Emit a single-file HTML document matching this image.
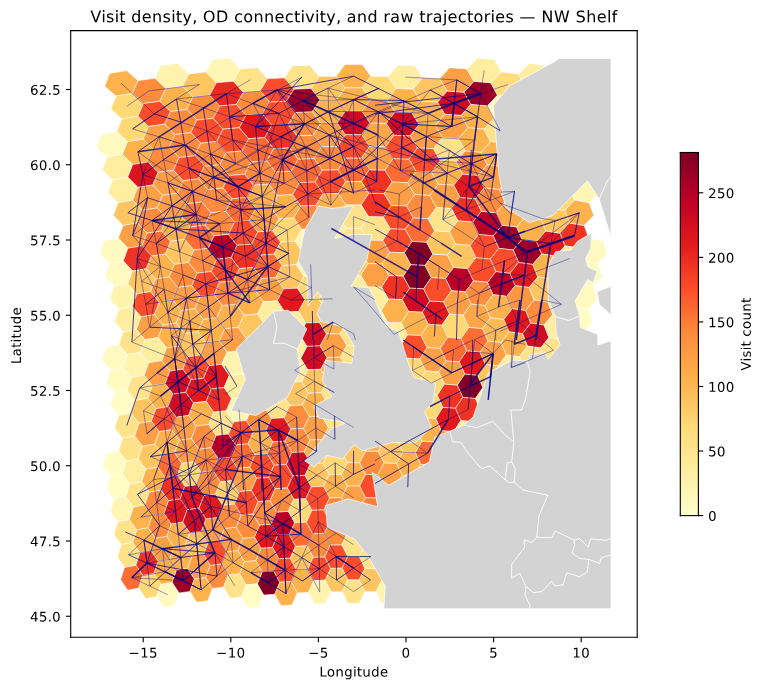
<!DOCTYPE html>
<html><head><meta charset="utf-8"><title>Visit density</title>
<style>html,body{margin:0;padding:0;background:#fff;font-family:"Liberation Sans",sans-serif}svg{display:block}</style></head>
<body>
<svg width="764" height="690" viewBox="0 0 550.08 496.8">
<defs><linearGradient id="cbg" x1="0" y1="1" x2="0" y2="0"><stop offset="0.0000" stop-color="#ffffcc"/><stop offset="0.0312" stop-color="#fffac1"/><stop offset="0.0625" stop-color="#fff6b6"/><stop offset="0.0938" stop-color="#fff1ab"/><stop offset="0.1250" stop-color="#ffeda0"/><stop offset="0.1562" stop-color="#ffe895"/><stop offset="0.1875" stop-color="#fee38b"/><stop offset="0.2188" stop-color="#fede80"/><stop offset="0.2500" stop-color="#fed976"/><stop offset="0.2812" stop-color="#fecf6b"/><stop offset="0.3125" stop-color="#fec561"/><stop offset="0.3438" stop-color="#febb56"/><stop offset="0.3750" stop-color="#feb24c"/><stop offset="0.4062" stop-color="#fea848"/><stop offset="0.4375" stop-color="#fd9f44"/><stop offset="0.4688" stop-color="#fd9640"/><stop offset="0.5000" stop-color="#fd8c3c"/><stop offset="0.5312" stop-color="#fd7c37"/><stop offset="0.5625" stop-color="#fc6c33"/><stop offset="0.5938" stop-color="#fc5d2e"/><stop offset="0.6250" stop-color="#fc4d2a"/><stop offset="0.6562" stop-color="#f54026"/><stop offset="0.6875" stop-color="#ef3323"/><stop offset="0.7188" stop-color="#e9261f"/><stop offset="0.7500" stop-color="#e2191c"/><stop offset="0.7812" stop-color="#d9131f"/><stop offset="0.8125" stop-color="#cf0c21"/><stop offset="0.8438" stop-color="#c50624"/><stop offset="0.8750" stop-color="#bb0026"/><stop offset="0.9062" stop-color="#ac0026"/><stop offset="0.9375" stop-color="#9d0026"/><stop offset="0.9688" stop-color="#8d0026"/><stop offset="1.0000" stop-color="#800026"/></linearGradient>
<style type="text/css">*{stroke-linejoin: round; stroke-linecap: butt}</style>
</defs>
<g id="figure_1">
<g id="patch_1">
<path d="M 0 496.8 L550.08 496.8 L550.08 0 L0 0 z
" style="fill: #ffffff"/>
</g>
<g id="axes_1">
<g id="patch_2">
<path d="M 50.904 458.856 L458.784 458.856 L458.784 22.032 L50.904 22.032 z
" style="fill: #ffffff"/>
</g>
<g id="PolyCollection_1">
<path d="M 173.040 49.623 L165.631 41.770 L153.063 42.912 L148.233 51.870 L155.728 59.596 L167.973 58.491 z
" clip-path="url(#p2195e9ecc8)" style="fill: #fff6b6; stroke: #ffffff; stroke-width: 0.4"/>
<path d="M 99.339 58.103 L91.176 50.830 L79.031 52.844 L75.343 62.065 L83.525 69.209 L95.381 67.259 z
" clip-path="url(#p2195e9ecc8)" style="fill: #feb24c; stroke: #ffffff; stroke-width: 0.4"/>
<path d="M 135.911 53.213 L128.099 45.643 L115.716 47.228 L111.458 56.331 L119.322 63.772 L131.397 62.238 z
" clip-path="url(#p2195e9ecc8)" style="fill: #fff3ae; stroke: #ffffff; stroke-width: 0.4"/>
<path d="M 155.728 59.596 L148.233 51.870 L135.911 53.213 L131.397 62.238 L138.961 69.838 L150.976 68.539 z
" clip-path="url(#p2195e9ecc8)" style="fill: #fec561; stroke: #ffffff; stroke-width: 0.4"/>
<path d="M 103.281 74.573 L95.381 67.259 L83.525 69.209 L79.849 78.410 L87.771 85.599 L99.351 83.710 z
" clip-path="url(#p2195e9ecc8)" style="fill: #fed976; stroke: #ffffff; stroke-width: 0.4"/>
<path d="M 119.322 63.772 L111.458 56.331 L99.339 58.103 L95.381 67.259 L103.281 74.573 L115.108 72.857 z
" clip-path="url(#p2195e9ecc8)" style="fill: #fd8c3c; stroke: #ffffff; stroke-width: 0.4"/>
<path d="M 138.961 69.838 L131.397 62.238 L119.322 63.772 L115.108 72.857 L122.724 80.333 L134.507 78.847 z
" clip-path="url(#p2195e9ecc8)" style="fill: #feb24c; stroke: #ffffff; stroke-width: 0.4"/>
<path d="M 158.240 76.290 L150.976 68.539 L138.961 69.838 L134.507 78.847 L141.839 86.477 L153.563 85.218 z
" clip-path="url(#p2195e9ecc8)" style="fill: #fd8c3c; stroke: #ffffff; stroke-width: 0.4"/>
<path d="M 175.154 66.365 L167.973 58.491 L155.728 59.596 L150.976 68.539 L158.240 76.290 L170.180 75.220 z
" clip-path="url(#p2195e9ecc8)" style="fill: #ea2920; stroke: #ffffff; stroke-width: 0.4"/>
<path d="M 107.004 91.063 L99.351 83.710 L87.771 85.599 L84.109 94.782 L91.785 102.013 L103.105 100.182 z
" clip-path="url(#p2195e9ecc8)" style="fill: #fed976; stroke: #ffffff; stroke-width: 0.4"/>
<path d="M 122.724 80.333 L115.108 72.857 L103.281 74.573 L99.351 83.710 L107.004 91.063 L118.555 89.400 z
" clip-path="url(#p2195e9ecc8)" style="fill: #fc4d2a; stroke: #ffffff; stroke-width: 0.4"/>
<path d="M 141.839 86.477 L134.507 78.847 L122.724 80.333 L118.555 89.400 L125.939 96.909 L137.445 95.470 z
" clip-path="url(#p2195e9ecc8)" style="fill: #fd8c3c; stroke: #ffffff; stroke-width: 0.4"/>
<path d="M 160.612 92.993 L153.563 85.218 L141.839 86.477 L137.445 95.470 L144.560 103.127 L156.008 101.908 z
" clip-path="url(#p2195e9ecc8)" style="fill: #fc4d2a; stroke: #ffffff; stroke-width: 0.4"/>
<path d="M 91.785 102.013 L84.109 94.782 L72.773 96.835 L69.364 106.056 L77.052 113.168 L88.141 111.177 z
" clip-path="url(#p2195e9ecc8)" style="fill: #fffac0; stroke: #ffffff; stroke-width: 0.4"/>
<path d="M 110.526 107.572 L103.105 100.182 L91.785 102.013 L88.141 111.177 L95.587 118.449 L106.657 116.674 z
" clip-path="url(#p2195e9ecc8)" style="fill: #feb24c; stroke: #ffffff; stroke-width: 0.4"/>
<path d="M 125.939 96.909 L118.555 89.400 L107.004 91.063 L103.105 100.182 L110.526 107.572 L121.814 105.961 z
" clip-path="url(#p2195e9ecc8)" style="fill: #fd9f44; stroke: #ffffff; stroke-width: 0.4"/>
<path d="M 144.560 103.127 L137.445 95.470 L125.939 96.909 L121.814 105.961 L128.980 113.501 L140.224 112.106 z
" clip-path="url(#p2195e9ecc8)" style="fill: #fd8c3c; stroke: #ffffff; stroke-width: 0.4"/>
<path d="M 162.854 109.705 L156.008 101.908 L144.560 103.127 L140.224 112.106 L147.134 119.789 L158.320 118.607 z
" clip-path="url(#p2195e9ecc8)" style="fill: #fd8c3c; stroke: #ffffff; stroke-width: 0.4"/>
<path d="M 95.587 118.449 L88.141 111.177 L77.052 113.168 L73.648 122.371 L81.107 129.527 L91.961 127.596 z
" clip-path="url(#p2195e9ecc8)" style="fill: #ffeda0; stroke: #ffffff; stroke-width: 0.4"/>
<path d="M 113.861 124.099 L106.657 116.674 L95.587 118.449 L91.961 127.596 L99.190 134.907 L110.024 133.184 z
" clip-path="url(#p2195e9ecc8)" style="fill: #db141e; stroke: #ffffff; stroke-width: 0.4"/>
<path d="M 128.980 113.501 L121.814 105.961 L110.526 107.572 L106.657 116.674 L113.861 124.099 L124.900 122.536 z
" clip-path="url(#p2195e9ecc8)" style="fill: #fd8c3c; stroke: #ffffff; stroke-width: 0.4"/>
<path d="M 147.134 119.789 L140.224 112.106 L128.980 113.501 L124.900 122.536 L131.860 130.106 L142.855 128.754 z
" clip-path="url(#p2195e9ecc8)" style="fill: #fc4d2a; stroke: #ffffff; stroke-width: 0.4"/>
<path d="M 164.976 126.426 L158.320 118.607 L147.134 119.789 L142.855 128.754 L149.572 136.462 L160.511 135.315 z
" clip-path="url(#p2195e9ecc8)" style="fill: #fd8c3c; stroke: #ffffff; stroke-width: 0.4"/>
<path d="M 99.190 134.907 L91.961 127.596 L81.107 129.527 L77.711 138.712 L84.955 145.910 L95.585 144.036 z
" clip-path="url(#p2195e9ecc8)" style="fill: #ffeda0; stroke: #ffffff; stroke-width: 0.4"/>
<path d="M 131.860 130.106 L124.900 122.536 L113.861 124.099 L110.024 133.184 L117.023 140.642 L127.824 139.126 z
" clip-path="url(#p2195e9ecc8)" style="fill: #fd9f44; stroke: #ffffff; stroke-width: 0.4"/>
<path d="M 192.591 56.718 L185.512 48.721 L173.040 49.623 L167.973 58.491 L175.154 66.365 L187.306 65.492 z
" clip-path="url(#p2195e9ecc8)" style="fill: #fee38b; stroke: #ffffff; stroke-width: 0.4"/>
<path d="M 211.707 64.181 L204.952 56.051 L192.591 56.718 L187.306 65.492 L194.177 73.504 L206.223 72.859 z
" clip-path="url(#p2195e9ecc8)" style="fill: #fc4d2a; stroke: #ffffff; stroke-width: 0.4"/>
<path d="M 229.745 55.162 L223.124 46.914 L210.560 47.366 L204.952 56.051 L211.707 64.181 L223.943 63.744 z
" clip-path="url(#p2195e9ecc8)" style="fill: #fee38b; stroke: #ffffff; stroke-width: 0.4"/>
<path d="M 248.457 63.307 L242.165 54.940 L229.745 55.162 L223.943 63.744 L230.381 71.999 L242.482 71.784 z
" clip-path="url(#p2195e9ecc8)" style="fill: #fec561; stroke: #ffffff; stroke-width: 0.4"/>
<path d="M 267.017 54.943 L260.889 46.464 L248.295 46.463 L242.165 54.940 L248.457 63.307 L260.721 63.309 z
" clip-path="url(#p2195e9ecc8)" style="fill: #feb24c; stroke: #ffffff; stroke-width: 0.4"/>
<path d="M 285.234 63.751 L279.436 55.167 L267.017 54.943 L260.721 63.309 L266.694 71.787 L278.794 72.004 z
" clip-path="url(#p2195e9ecc8)" style="fill: #fed976; stroke: #ffffff; stroke-width: 0.4"/>
<path d="M 194.177 73.504 L187.306 65.492 L175.154 66.365 L170.180 75.220 L177.148 83.113 L188.999 82.269 z
" clip-path="url(#p2195e9ecc8)" style="fill: #fd8c3c; stroke: #ffffff; stroke-width: 0.4"/>
<path d="M 212.788 81.000 L206.223 72.859 L194.177 73.504 L188.999 82.269 L195.673 90.295 L207.422 89.671 z
" clip-path="url(#p2195e9ecc8)" style="fill: #fc4d2a; stroke: #ffffff; stroke-width: 0.4"/>
<path d="M 230.381 71.999 L223.943 63.744 L211.707 64.181 L206.223 72.859 L212.788 81.000 L224.716 80.577 z
" clip-path="url(#p2195e9ecc8)" style="fill: #9d0026; stroke: #ffffff; stroke-width: 0.4"/>
<path d="M 248.609 80.154 L242.482 71.784 L230.381 71.999 L224.716 80.577 L230.982 88.838 L242.780 88.630 z
" clip-path="url(#p2195e9ecc8)" style="fill: #feb24c; stroke: #ffffff; stroke-width: 0.4"/>
<path d="M 266.694 71.787 L260.721 63.309 L248.457 63.307 L242.482 71.784 L248.609 80.154 L260.563 80.155 z
" clip-path="url(#p2195e9ecc8)" style="fill: #feb24c; stroke: #ffffff; stroke-width: 0.4"/>
<path d="M 284.456 80.583 L278.794 72.004 L266.694 71.787 L260.563 80.155 L266.389 88.632 L278.188 88.843 z
" clip-path="url(#p2195e9ecc8)" style="fill: #fd9841; stroke: #ffffff; stroke-width: 0.4"/>
<path d="M 177.148 83.113 L170.180 75.220 L158.240 76.290 L153.563 85.218 L160.612 92.993 L172.263 91.957 z
" clip-path="url(#p2195e9ecc8)" style="fill: #fc4d2a; stroke: #ffffff; stroke-width: 0.4"/>
<path d="M 195.673 90.295 L188.999 82.269 L177.148 83.113 L172.263 91.957 L179.031 99.869 L190.596 99.051 z
" clip-path="url(#p2195e9ecc8)" style="fill: #e2191c; stroke: #ffffff; stroke-width: 0.4"/>
<path d="M 213.809 97.822 L207.422 89.671 L195.673 90.295 L190.596 99.051 L197.087 107.091 L208.556 106.486 z
" clip-path="url(#p2195e9ecc8)" style="fill: #ef3323; stroke: #ffffff; stroke-width: 0.4"/>
<path d="M 230.982 88.838 L224.716 80.577 L212.788 81.000 L207.422 89.671 L213.809 97.822 L225.445 97.412 z
" clip-path="url(#p2195e9ecc8)" style="fill: #fd8c3c; stroke: #ffffff; stroke-width: 0.4"/>
<path d="M 248.753 97.003 L242.780 88.630 L230.982 88.838 L225.445 97.412 L231.548 105.679 L243.063 105.478 z
" clip-path="url(#p2195e9ecc8)" style="fill: #fd9f44; stroke: #ffffff; stroke-width: 0.4"/>
<path d="M 266.389 88.632 L260.563 80.155 L248.609 80.154 L242.780 88.630 L248.753 97.003 L260.414 97.004 z
" clip-path="url(#p2195e9ecc8)" style="fill: #cf0c21; stroke: #ffffff; stroke-width: 0.4"/>
<path d="M 283.722 97.418 L278.188 88.843 L266.389 88.632 L260.414 97.004 L266.102 105.480 L277.616 105.684 z
" clip-path="url(#p2195e9ecc8)" style="fill: #fea747; stroke: #ffffff; stroke-width: 0.4"/>
<path d="M 179.031 99.869 L172.263 91.957 L160.612 92.993 L156.008 101.908 L162.854 109.705 L174.232 108.701 z
" clip-path="url(#p2195e9ecc8)" style="fill: #fc4d2a; stroke: #ffffff; stroke-width: 0.4"/>
<path d="M 197.087 107.091 L190.596 99.051 L179.031 99.869 L174.232 108.701 L180.812 116.631 L192.107 115.838 z
" clip-path="url(#p2195e9ecc8)" style="fill: #fc6c33; stroke: #ffffff; stroke-width: 0.4"/>
<path d="M 214.773 114.647 L208.556 106.486 L197.087 107.091 L192.107 115.838 L198.425 123.892 L209.627 123.305 z
" clip-path="url(#p2195e9ecc8)" style="fill: #fc6c33; stroke: #ffffff; stroke-width: 0.4"/>
<path d="M 231.548 105.679 L225.445 97.412 L213.809 97.822 L208.556 106.486 L214.773 114.647 L226.135 114.250 z
" clip-path="url(#p2195e9ecc8)" style="fill: #fd8c3c; stroke: #ffffff; stroke-width: 0.4"/>
<path d="M 248.889 113.853 L243.063 105.478 L231.548 105.679 L226.135 114.250 L232.085 122.523 L243.330 122.328 z
" clip-path="url(#p2195e9ecc8)" style="fill: #fd8c3c; stroke: #ffffff; stroke-width: 0.4"/>
<path d="M 266.102 105.480 L260.414 97.004 L248.753 97.003 L243.063 105.478 L248.889 113.853 L260.273 113.855 z
" clip-path="url(#p2195e9ecc8)" style="fill: #fc4d2a; stroke: #ffffff; stroke-width: 0.4"/>
<path d="M 283.027 114.256 L277.616 105.684 L266.102 105.480 L260.273 113.855 L265.830 122.330 L277.075 122.528 z
" clip-path="url(#p2195e9ecc8)" style="fill: #fd9f44; stroke: #ffffff; stroke-width: 0.4"/>
<path d="M 180.812 116.631 L174.232 108.701 L162.854 109.705 L158.320 118.607 L164.976 126.426 L176.094 125.453 z
" clip-path="url(#p2195e9ecc8)" style="fill: #fd8c3c; stroke: #ffffff; stroke-width: 0.4"/>
<path d="M 198.425 123.892 L192.107 115.838 L180.812 116.631 L176.094 125.453 L182.498 133.399 L193.537 132.630 z
" clip-path="url(#p2195e9ecc8)" style="fill: #fd8c3c; stroke: #ffffff; stroke-width: 0.4"/>
<path d="M 215.686 131.476 L209.627 123.305 L198.425 123.892 L193.537 132.630 L199.692 140.697 L210.642 140.128 z
" clip-path="url(#p2195e9ecc8)" style="fill: #fd8c3c; stroke: #ffffff; stroke-width: 0.4"/>
<path d="M 232.085 122.523 L226.135 114.250 L214.773 114.647 L209.627 123.305 L215.686 131.476 L226.787 131.090 z
" clip-path="url(#p2195e9ecc8)" style="fill: #fc6c33; stroke: #ffffff; stroke-width: 0.4"/>
<path d="M 249.018 130.706 L243.330 122.328 L232.085 122.523 L226.787 131.090 L232.592 139.369 L243.583 139.180 z
" clip-path="url(#p2195e9ecc8)" style="fill: #fc4d2a; stroke: #ffffff; stroke-width: 0.4"/>
<path d="M 265.830 122.330 L260.273 113.855 L248.889 113.853 L243.330 122.328 L249.018 130.706 L260.139 130.707 z
" clip-path="url(#p2195e9ecc8)" style="fill: #fc6c33; stroke: #ffffff; stroke-width: 0.4"/>
<path d="M 182.498 133.399 L176.094 125.453 L164.976 126.426 L160.511 135.315 L166.987 143.154 L177.860 142.210 z
" clip-path="url(#p2195e9ecc8)" style="fill: #fc4d2a; stroke: #ffffff; stroke-width: 0.4"/>
<path d="M 358.199 68.561 L353.449 59.618 L341.205 58.510 L334.022 66.382 L338.993 75.239 L350.931 76.311 z
" clip-path="url(#p2195e9ecc8)" style="fill: #9d0026; stroke: #ffffff; stroke-width: 0.4"/>
<path d="M 338.993 75.239 L334.022 66.382 L321.870 65.507 L314.997 73.517 L320.172 82.283 L332.022 83.130 z
" clip-path="url(#p2195e9ecc8)" style="fill: #cf0c21; stroke: #ffffff; stroke-width: 0.4"/>
<path d="M 301.747 89.681 L296.384 81.009 L284.456 80.583 L278.188 88.843 L283.722 97.418 L295.358 97.831 z
" clip-path="url(#p2195e9ecc8)" style="fill: #cf0c21; stroke: #ffffff; stroke-width: 0.4"/>
<path d="M 341.205 58.510 L336.142 49.641 L323.671 48.737 L316.589 56.731 L321.870 65.507 L334.022 66.382 z
" clip-path="url(#p2195e9ecc8)" style="fill: #fd9f44; stroke: #ffffff; stroke-width: 0.4"/>
<path d="M 304.229 56.062 L298.623 47.376 L286.060 46.921 L279.436 55.167 L285.234 63.751 L297.470 64.191 z
" clip-path="url(#p2195e9ecc8)" style="fill: #ffeda0; stroke: #ffffff; stroke-width: 0.4"/>
<path d="M 360.947 51.893 L356.120 42.935 L343.553 41.790 L336.142 49.641 L341.205 58.510 L353.449 59.618 z
" clip-path="url(#p2195e9ecc8)" style="fill: #ffeda0; stroke: #ffffff; stroke-width: 0.4"/>
<path d="M 377.778 62.265 L373.268 53.239 L360.947 51.893 L353.449 59.618 L358.199 68.561 L370.212 69.864 z
" clip-path="url(#p2195e9ecc8)" style="fill: #fedd7f; stroke: #ffffff; stroke-width: 0.4"/>
<path d="M 321.870 65.507 L316.589 56.731 L304.229 56.062 L297.470 64.191 L302.951 72.870 L314.997 73.517 z
" clip-path="url(#p2195e9ecc8)" style="fill: #fec561; stroke: #ffffff; stroke-width: 0.4"/>
<path d="M 302.951 72.870 L297.470 64.191 L285.234 63.751 L278.794 72.004 L284.456 80.583 L296.384 81.009 z
" clip-path="url(#p2195e9ecc8)" style="fill: #feb24c; stroke: #ffffff; stroke-width: 0.4"/>
<path d="M 320.172 82.283 L314.997 73.517 L302.951 72.870 L296.384 81.009 L301.747 89.681 L313.495 90.308 z
" clip-path="url(#p2195e9ecc8)" style="fill: #feb24c; stroke: #ffffff; stroke-width: 0.4"/>
<path d="M 355.606 85.240 L350.931 76.311 L338.993 75.239 L332.022 83.130 L336.904 91.975 L348.554 93.013 z
" clip-path="url(#p2195e9ecc8)" style="fill: #feb24c; stroke: #ffffff; stroke-width: 0.4"/>
<path d="M 374.663 78.873 L370.212 69.864 L358.199 68.561 L350.931 76.311 L355.606 85.240 L367.328 86.501 z
" clip-path="url(#p2195e9ecc8)" style="fill: #fffac0; stroke: #ffffff; stroke-width: 0.4"/>
<path d="M 336.904 91.975 L332.022 83.130 L320.172 82.283 L313.495 90.308 L318.569 99.065 L330.134 99.885 z
" clip-path="url(#p2195e9ecc8)" style="fill: #fd9f44; stroke: #ffffff; stroke-width: 0.4"/>
<path d="M 353.156 101.929 L348.554 93.013 L336.904 91.975 L330.134 99.885 L334.931 108.719 L346.308 109.725 z
" clip-path="url(#p2195e9ecc8)" style="fill: #feb24c; stroke: #ffffff; stroke-width: 0.4"/>
<path d="M 371.720 95.496 L367.328 86.501 L355.606 85.240 L348.554 93.013 L353.156 101.929 L364.603 103.151 z
" clip-path="url(#p2195e9ecc8)" style="fill: #fee38b; stroke: #ffffff; stroke-width: 0.4"/>
<path d="M 318.569 99.065 L313.495 90.308 L301.747 89.681 L295.358 97.831 L300.608 106.496 L312.076 107.104 z
" clip-path="url(#p2195e9ecc8)" style="fill: #fd9f44; stroke: #ffffff; stroke-width: 0.4"/>
<path d="M 300.608 106.496 L295.358 97.831 L283.722 97.418 L277.616 105.684 L283.027 114.256 L294.388 114.656 z
" clip-path="url(#p2195e9ecc8)" style="fill: #fc4d2a; stroke: #ffffff; stroke-width: 0.4"/>
<path d="M 317.054 115.852 L312.076 107.104 L300.608 106.496 L294.388 114.656 L299.532 123.315 L310.734 123.904 z
" clip-path="url(#p2195e9ecc8)" style="fill: #fc4d2a; stroke: #ffffff; stroke-width: 0.4"/>
<path d="M 334.931 108.719 L330.134 99.885 L318.569 99.065 L312.076 107.104 L317.054 115.852 L328.348 116.647 z
" clip-path="url(#p2195e9ecc8)" style="fill: #fee38b; stroke: #ffffff; stroke-width: 0.4"/>
<path d="M 350.838 118.628 L346.308 109.725 L334.931 108.719 L328.348 116.647 L333.063 125.469 L344.181 126.445 z
" clip-path="url(#p2195e9ecc8)" style="fill: #fd8c3c; stroke: #ffffff; stroke-width: 0.4"/>
<path d="M 368.936 112.131 L364.603 103.151 L353.156 101.929 L346.308 109.725 L350.838 118.628 L362.024 119.812 z
" clip-path="url(#p2195e9ecc8)" style="fill: #feb24c; stroke: #ffffff; stroke-width: 0.4"/>
<path d="M 299.532 123.315 L294.388 114.656 L283.027 114.256 L277.075 122.528 L282.370 131.096 L293.470 131.484 z
" clip-path="url(#p2195e9ecc8)" style="fill: #fc6c33; stroke: #ffffff; stroke-width: 0.4"/>
<path d="M 315.619 132.643 L310.734 123.904 L299.532 123.315 L293.470 131.484 L298.512 140.137 L309.462 140.708 z
" clip-path="url(#p2195e9ecc8)" style="fill: #fd9f44; stroke: #ffffff; stroke-width: 0.4"/>
<path d="M 333.063 125.469 L328.348 116.647 L317.054 115.852 L310.734 123.904 L315.619 132.643 L326.658 133.414 z
" clip-path="url(#p2195e9ecc8)" style="fill: #feb24c; stroke: #ffffff; stroke-width: 0.4"/>
<path d="M 348.643 135.335 L344.181 126.445 L333.063 125.469 L326.658 133.414 L331.293 142.227 L342.166 143.173 z
" clip-path="url(#p2195e9ecc8)" style="fill: #e2191c; stroke: #ffffff; stroke-width: 0.4"/>
<path d="M 366.301 128.777 L362.024 119.812 L350.838 118.628 L344.181 126.445 L348.643 135.335 L359.581 136.484 z
" clip-path="url(#p2195e9ecc8)" style="fill: #fd9f44; stroke: #ffffff; stroke-width: 0.4"/>
<path d="M 282.370 131.096 L277.075 122.528 L265.830 122.330 L260.139 130.707 L265.572 139.183 L276.562 139.374 z
" clip-path="url(#p2195e9ecc8)" style="fill: #ef3323; stroke: #ffffff; stroke-width: 0.4"/>
<path d="M 397.718 56.362 L393.464 47.258 L381.082 45.671 L373.268 53.239 L377.778 62.265 L389.852 63.801 z
" clip-path="url(#p2195e9ecc8)" style="fill: #ffeda0; stroke: #ffffff; stroke-width: 0.4"/>
<path d="M 431.438 138.749 L428.045 129.564 L417.192 127.630 L409.961 134.939 L413.564 144.069 L424.192 145.946 z
" clip-path="url(#p2195e9ecc8)" style="fill: #fff6b6; stroke: #ffffff; stroke-width: 0.4"/>
<path d="M 102.610 151.383 L95.585 144.036 L84.955 145.910 L81.569 155.077 L88.611 162.315 L99.026 160.495 z
" clip-path="url(#p2195e9ecc8)" style="fill: #fec561; stroke: #ffffff; stroke-width: 0.4"/>
<path d="M 105.858 167.878 L99.026 160.495 L88.611 162.315 L85.236 171.465 L92.086 178.741 L102.297 176.973 z
" clip-path="url(#p2195e9ecc8)" style="fill: #fd9f44; stroke: #ffffff; stroke-width: 0.4"/>
<path d="M 92.086 178.741 L85.236 171.465 L75.012 173.427 L71.835 182.608 L78.694 189.780 L88.724 187.874 z
" clip-path="url(#p2195e9ecc8)" style="fill: #fffac0; stroke: #ffffff; stroke-width: 0.4"/>
<path d="M 108.947 184.389 L102.297 176.973 L92.086 178.741 L88.724 187.874 L95.393 195.187 L105.408 193.469 z
" clip-path="url(#p2195e9ecc8)" style="fill: #ef3323; stroke: #ffffff; stroke-width: 0.4"/>
<path d="M 95.393 195.187 L88.724 187.874 L78.694 189.780 L75.522 198.945 L82.202 206.156 L92.046 204.303 z
" clip-path="url(#p2195e9ecc8)" style="fill: #fffac0; stroke: #ffffff; stroke-width: 0.4"/>
<path d="M 111.886 200.917 L105.408 193.469 L95.393 195.187 L92.046 204.303 L98.543 211.651 L108.372 209.982 z
" clip-path="url(#p2195e9ecc8)" style="fill: #fec561; stroke: #ffffff; stroke-width: 0.4"/>
<path d="M 98.543 211.651 L92.046 204.303 L82.202 206.156 L79.036 215.304 L85.545 222.553 L95.211 220.752 z
" clip-path="url(#p2195e9ecc8)" style="fill: #fff3ae; stroke: #ffffff; stroke-width: 0.4"/>
<path d="M 114.686 217.460 L108.372 209.982 L98.543 211.651 L95.211 220.752 L101.546 228.133 L111.196 226.510 z
" clip-path="url(#p2195e9ecc8)" style="fill: #fc4d2a; stroke: #ffffff; stroke-width: 0.4"/>
<path d="M 101.546 228.133 L95.211 220.752 L85.545 222.553 L82.387 231.684 L88.735 238.969 L98.230 237.218 z
" clip-path="url(#p2195e9ecc8)" style="fill: #ffeda0; stroke: #ffffff; stroke-width: 0.4"/>
<path d="M 117.356 234.017 L111.196 226.510 L101.546 228.133 L98.230 237.218 L104.411 244.631 L113.889 243.053 z
" clip-path="url(#p2195e9ecc8)" style="fill: #fd9f44; stroke: #ffffff; stroke-width: 0.4"/>
<path d="M 104.411 244.631 L98.230 237.218 L88.735 238.969 L85.586 248.084 L91.780 255.404 L101.112 253.701 z
" clip-path="url(#p2195e9ecc8)" style="fill: #fee38b; stroke: #ffffff; stroke-width: 0.4"/>
<path d="M 117.023 140.642 L110.024 133.184 L99.190 134.907 L95.585 144.036 L102.610 151.383 L113.218 149.711 z
" clip-path="url(#p2195e9ecc8)" style="fill: #fd9f44; stroke: #ffffff; stroke-width: 0.4"/>
<path d="M 120.023 157.201 L113.218 149.711 L102.610 151.383 L99.026 160.495 L105.858 167.878 L116.251 166.255 z
" clip-path="url(#p2195e9ecc8)" style="fill: #fd8c3c; stroke: #ffffff; stroke-width: 0.4"/>
<path d="M 122.874 173.775 L116.251 166.255 L105.858 167.878 L102.297 176.973 L108.947 184.389 L119.135 182.813 z
" clip-path="url(#p2195e9ecc8)" style="fill: #fc6c33; stroke: #ffffff; stroke-width: 0.4"/>
<path d="M 125.585 190.362 L119.135 182.813 L108.947 184.389 L105.408 193.469 L111.886 200.917 L121.878 199.386 z
" clip-path="url(#p2195e9ecc8)" style="fill: #feb24c; stroke: #ffffff; stroke-width: 0.4"/>
<path d="M 128.165 206.962 L121.878 199.386 L111.886 200.917 L108.372 209.982 L114.686 217.460 L124.491 215.972 z
" clip-path="url(#p2195e9ecc8)" style="fill: #fd9f44; stroke: #ffffff; stroke-width: 0.4"/>
<path d="M 130.623 223.575 L124.491 215.972 L114.686 217.460 L111.196 226.510 L117.356 234.017 L126.981 232.570 z
" clip-path="url(#p2195e9ecc8)" style="fill: #feb24c; stroke: #ffffff; stroke-width: 0.4"/>
<path d="M 132.966 240.199 L126.981 232.570 L117.356 234.017 L113.889 243.053 L119.902 250.588 L129.357 249.181 z
" clip-path="url(#p2195e9ecc8)" style="fill: #feb24c; stroke: #ffffff; stroke-width: 0.4"/>
<path d="M 134.591 146.725 L127.824 139.126 L117.023 140.642 L113.218 149.711 L120.023 157.201 L130.598 155.730 z
" clip-path="url(#p2195e9ecc8)" style="fill: #fd9f44; stroke: #ffffff; stroke-width: 0.4"/>
<path d="M 137.183 163.355 L130.598 155.730 L120.023 157.201 L116.251 166.255 L122.874 173.775 L133.234 172.346 z
" clip-path="url(#p2195e9ecc8)" style="fill: #feb24c; stroke: #ffffff; stroke-width: 0.4"/>
<path d="M 139.646 179.998 L133.234 172.346 L122.874 173.775 L119.135 182.813 L125.585 190.362 L135.739 188.975 z
" clip-path="url(#p2195e9ecc8)" style="fill: #fec561; stroke: #ffffff; stroke-width: 0.4"/>
<path d="M 141.989 196.651 L135.739 188.975 L125.585 190.362 L121.878 199.386 L128.165 206.962 L138.124 205.614 z
" clip-path="url(#p2195e9ecc8)" style="fill: #fd8c3c; stroke: #ffffff; stroke-width: 0.4"/>
<path d="M 144.219 213.314 L138.124 205.614 L128.165 206.962 L124.491 215.972 L130.623 223.575 L140.395 222.265 z
" clip-path="url(#p2195e9ecc8)" style="fill: #fd9f44; stroke: #ffffff; stroke-width: 0.4"/>
<path d="M 146.344 229.987 L140.395 222.265 L130.623 223.575 L126.981 232.570 L132.966 240.199 L142.560 238.926 z
" clip-path="url(#p2195e9ecc8)" style="fill: #feb24c; stroke: #ffffff; stroke-width: 0.4"/>
<path d="M 149.572 136.462 L142.855 128.754 L131.860 130.106 L127.824 139.126 L134.591 146.725 L145.349 145.412 z
" clip-path="url(#p2195e9ecc8)" style="fill: #fd8c3c; stroke: #ffffff; stroke-width: 0.4"/>
<path d="M 151.885 153.144 L145.349 145.412 L134.591 146.725 L130.598 155.730 L137.183 163.355 L147.715 162.082 z
" clip-path="url(#p2195e9ecc8)" style="fill: #fd7a37; stroke: #ffffff; stroke-width: 0.4"/>
<path d="M 154.080 169.836 L147.715 162.082 L137.183 163.355 L133.234 172.346 L139.646 179.998 L149.964 178.761 z
" clip-path="url(#p2195e9ecc8)" style="fill: #fc6c33; stroke: #ffffff; stroke-width: 0.4"/>
<path d="M 156.167 186.537 L149.964 178.761 L139.646 179.998 L135.739 188.975 L141.989 196.651 L152.102 195.449 z
" clip-path="url(#p2195e9ecc8)" style="fill: #fd8c3c; stroke: #ffffff; stroke-width: 0.4"/>
<path d="M 158.152 203.246 L152.102 195.449 L141.989 196.651 L138.124 205.614 L144.219 213.314 L154.137 212.147 z
" clip-path="url(#p2195e9ecc8)" style="fill: #fc4d2a; stroke: #ffffff; stroke-width: 0.4"/>
<path d="M 160.042 219.964 L154.137 212.147 L144.219 213.314 L140.395 222.265 L146.344 229.987 L156.076 228.853 z
" clip-path="url(#p2195e9ecc8)" style="fill: #fd9f44; stroke: #ffffff; stroke-width: 0.4"/>
<path d="M 161.843 236.689 L156.076 228.853 L146.344 229.987 L142.560 238.926 L148.370 246.670 L157.925 245.567 z
" clip-path="url(#p2195e9ecc8)" style="fill: #feb24c; stroke: #ffffff; stroke-width: 0.4"/>
<path d="M 166.987 143.154 L160.511 135.315 L149.572 136.462 L145.349 145.412 L151.885 153.144 L162.588 152.032 z
" clip-path="url(#p2195e9ecc8)" style="fill: #fd8c3c; stroke: #ffffff; stroke-width: 0.4"/>
<path d="M 168.894 159.890 L162.588 152.032 L151.885 153.144 L147.715 162.082 L154.080 169.836 L164.560 168.757 z
" clip-path="url(#p2195e9ecc8)" style="fill: #fd8c3c; stroke: #ffffff; stroke-width: 0.4"/>
<path d="M 170.706 176.633 L164.560 168.757 L154.080 169.836 L149.964 178.761 L156.167 186.537 L166.433 185.489 z
" clip-path="url(#p2195e9ecc8)" style="fill: #bb0026; stroke: #ffffff; stroke-width: 0.4"/>
<path d="M 172.428 193.383 L166.433 185.489 L156.167 186.537 L152.102 195.449 L158.152 203.246 L168.215 202.228 z
" clip-path="url(#p2195e9ecc8)" style="fill: #fc4d2a; stroke: #ffffff; stroke-width: 0.4"/>
<path d="M 184.096 150.173 L177.860 142.210 L166.987 143.154 L162.588 152.032 L168.894 159.890 L179.534 158.974 z
" clip-path="url(#p2195e9ecc8)" style="fill: #fc6c33; stroke: #ffffff; stroke-width: 0.4"/>
<path d="M 199.692 140.697 L193.537 132.630 L182.498 133.399 L177.860 142.210 L184.096 150.173 L194.893 149.427 z
" clip-path="url(#p2195e9ecc8)" style="fill: #feb24c; stroke: #ffffff; stroke-width: 0.4"/>
<path d="M 216.552 148.307 L210.642 140.128 L199.692 140.697 L194.893 149.427 L200.893 157.506 L211.605 156.954 z
" clip-path="url(#p2195e9ecc8)" style="fill: #feb24c; stroke: #ffffff; stroke-width: 0.4"/>
<path d="M 232.592 139.369 L226.787 131.090 L215.686 131.476 L210.642 140.128 L216.552 148.307 L227.405 147.934 z
" clip-path="url(#p2195e9ecc8)" style="fill: #fc4d2a; stroke: #ffffff; stroke-width: 0.4"/>
<path d="M 249.140 147.561 L243.583 139.180 L232.592 139.369 L227.405 147.934 L233.074 156.218 L243.823 156.035 z
" clip-path="url(#p2195e9ecc8)" style="fill: #feb24c; stroke: #ffffff; stroke-width: 0.4"/>
<path d="M 265.572 139.183 L260.139 130.707 L249.018 130.706 L243.583 139.180 L249.140 147.561 L260.013 147.562 z
" clip-path="url(#p2195e9ecc8)" style="fill: #fd9f44; stroke: #ffffff; stroke-width: 0.4"/>
<path d="M 281.747 147.939 L276.562 139.374 L265.572 139.183 L260.013 147.562 L265.328 156.037 L276.076 156.223 z
" clip-path="url(#p2195e9ecc8)" style="fill: #ef3323; stroke: #ffffff; stroke-width: 0.4"/>
<path d="M 185.613 166.952 L179.534 158.974 L168.894 159.890 L164.560 168.757 L170.706 176.633 L181.124 175.744 z
" clip-path="url(#p2195e9ecc8)" style="fill: #fc4d2a; stroke: #ffffff; stroke-width: 0.4"/>
<path d="M 200.893 157.506 L194.893 149.427 L184.096 150.173 L179.534 158.974 L185.613 166.952 L196.179 166.228 z
" clip-path="url(#p2195e9ecc8)" style="fill: #fd9f44; stroke: #ffffff; stroke-width: 0.4"/>
<path d="M 217.372 165.142 L211.605 156.954 L200.893 157.506 L196.179 166.228 L202.034 174.319 L212.519 173.783 z
" clip-path="url(#p2195e9ecc8)" style="fill: #fed976; stroke: #ffffff; stroke-width: 0.4"/>
<path d="M 233.074 156.218 L227.405 147.934 L216.552 148.307 L211.605 156.954 L217.372 165.142 L227.992 164.779 z
" clip-path="url(#p2195e9ecc8)" style="fill: #fd8c3c; stroke: #ffffff; stroke-width: 0.4"/>
<path d="M 249.256 164.418 L243.823 156.035 L233.074 156.218 L227.992 164.779 L233.531 173.069 L244.050 172.891 z
" clip-path="url(#p2195e9ecc8)" style="fill: #ffeda0; stroke: #ffffff; stroke-width: 0.4"/>
<path d="M 265.328 156.037 L260.013 147.562 L249.140 147.561 L243.823 156.035 L249.256 164.418 L259.893 164.419 z
" clip-path="url(#p2195e9ecc8)" style="fill: #fee38b; stroke: #ffffff; stroke-width: 0.4"/>
<path d="M 281.156 164.785 L276.076 156.223 L265.328 156.037 L259.893 164.419 L265.096 172.893 L275.615 173.074 z
" clip-path="url(#p2195e9ecc8)" style="fill: #fee38b; stroke: #ffffff; stroke-width: 0.4"/>
<path d="M 187.054 183.737 L181.124 175.744 L170.706 176.633 L166.433 185.489 L172.428 193.383 L182.635 192.520 z
" clip-path="url(#p2195e9ecc8)" style="fill: #ef3323; stroke: #ffffff; stroke-width: 0.4"/>
<path d="M 202.034 174.319 L196.179 166.228 L185.613 166.952 L181.124 175.744 L187.054 183.737 L197.401 183.034 z
" clip-path="url(#p2195e9ecc8)" style="fill: #fc4d2a; stroke: #ffffff; stroke-width: 0.4"/>
<path d="M 218.152 181.979 L212.519 173.783 L202.034 174.319 L197.401 183.034 L203.117 191.136 L213.387 190.616 z
" clip-path="url(#p2195e9ecc8)" style="fill: #fec561; stroke: #ffffff; stroke-width: 0.4"/>
<path d="M 233.531 173.069 L227.992 164.779 L217.372 165.142 L212.519 173.783 L218.152 181.979 L228.549 181.628 z
" clip-path="url(#p2195e9ecc8)" style="fill: #fff6b6; stroke: #ffffff; stroke-width: 0.4"/>
<path d="M 265.096 172.893 L259.893 164.419 L249.256 164.418 L244.050 172.891 L249.366 181.277 L259.779 181.278 z
" clip-path="url(#p2195e9ecc8)" style="fill: #fee38b; stroke: #ffffff; stroke-width: 0.4"/>
<path d="M 280.595 181.633 L275.615 173.074 L265.096 172.893 L259.779 181.278 L264.876 189.752 L275.177 189.927 z
" clip-path="url(#p2195e9ecc8)" style="fill: #fd9f44; stroke: #ffffff; stroke-width: 0.4"/>
<path d="M 188.424 200.527 L182.635 192.520 L172.428 193.383 L168.215 202.228 L174.067 210.140 L184.072 209.301 z
" clip-path="url(#p2195e9ecc8)" style="fill: #fd8c3c; stroke: #ffffff; stroke-width: 0.4"/>
<path d="M 203.117 191.136 L197.401 183.034 L187.054 183.737 L182.635 192.520 L188.424 200.527 L198.563 199.844 z
" clip-path="url(#p2195e9ecc8)" style="fill: #fc6c33; stroke: #ffffff; stroke-width: 0.4"/>
<path d="M 218.893 198.820 L213.387 190.616 L203.117 191.136 L198.563 199.844 L204.148 207.957 L214.213 207.452 z
" clip-path="url(#p2195e9ecc8)" style="fill: #fec561; stroke: #ffffff; stroke-width: 0.4"/>
<path d="M 233.965 189.923 L228.549 181.628 L218.152 181.979 L213.387 190.616 L218.893 198.820 L229.078 198.478 z
" clip-path="url(#p2195e9ecc8)" style="fill: #fff6b6; stroke: #ffffff; stroke-width: 0.4"/>
<path d="M 280.062 198.484 L275.177 189.927 L264.876 189.752 L259.670 198.139 L264.667 206.613 L274.761 206.783 z
" clip-path="url(#p2195e9ecc8)" style="fill: #fd9f44; stroke: #ffffff; stroke-width: 0.4"/>
<path d="M 264.667 206.613 L259.670 198.139 L249.470 198.138 L244.472 206.611 L249.569 215.001 L259.567 215.002 z
" clip-path="url(#p2195e9ecc8)" style="fill: #ffeda0; stroke: #ffffff; stroke-width: 0.4"/>
<path d="M 189.728 217.321 L184.072 209.301 L174.067 210.140 L169.912 218.975 L175.628 226.903 L185.441 226.088 z
" clip-path="url(#p2195e9ecc8)" style="fill: #feb24c; stroke: #ffffff; stroke-width: 0.4"/>
<path d="M 204.148 207.957 L198.563 199.844 L188.424 200.527 L184.072 209.301 L189.728 217.321 L199.668 216.659 z
" clip-path="url(#p2195e9ecc8)" style="fill: #fd9f44; stroke: #ffffff; stroke-width: 0.4"/>
<path d="M 219.598 215.664 L214.213 207.452 L204.148 207.957 L199.668 216.659 L205.130 224.781 L214.999 224.291 z
" clip-path="url(#p2195e9ecc8)" style="fill: #e2191c; stroke: #ffffff; stroke-width: 0.4"/>
<path d="M 234.378 206.779 L229.078 198.478 L218.893 198.820 L214.213 207.452 L219.598 215.664 L229.582 215.332 z
" clip-path="url(#p2195e9ecc8)" style="fill: #fed976; stroke: #ffffff; stroke-width: 0.4"/>
<path d="M 175.628 226.903 L169.912 218.975 L160.042 219.964 L156.076 228.853 L161.843 236.689 L171.528 235.728 z
" clip-path="url(#p2195e9ecc8)" style="fill: #feb24c; stroke: #ffffff; stroke-width: 0.4"/>
<path d="M 190.970 234.121 L185.441 226.088 L175.628 226.903 L171.528 235.728 L177.115 243.671 L186.746 242.879 z
" clip-path="url(#p2195e9ecc8)" style="fill: #fec561; stroke: #ffffff; stroke-width: 0.4"/>
<path d="M 205.130 224.781 L199.668 216.659 L189.728 217.321 L185.441 226.088 L190.970 234.121 L200.721 233.477 z
" clip-path="url(#p2195e9ecc8)" style="fill: #ffeda0; stroke: #ffffff; stroke-width: 0.4"/>
<path d="M 220.270 232.510 L214.999 224.291 L205.130 224.781 L200.721 233.477 L206.065 241.610 L215.748 241.133 z
" clip-path="url(#p2195e9ecc8)" style="fill: #ffeda0; stroke: #ffffff; stroke-width: 0.4"/>
<path d="M 234.771 223.637 L229.582 215.332 L219.598 215.664 L214.999 224.291 L220.270 232.510 L230.062 232.188 z
" clip-path="url(#p2195e9ecc8)" style="fill: #fec561; stroke: #ffffff; stroke-width: 0.4"/>
<path d="M 235.145 240.497 L230.062 232.188 L220.270 232.510 L215.748 241.133 L220.910 249.360 L230.519 249.046 z
" clip-path="url(#p2195e9ecc8)" style="fill: #cf0c21; stroke: #ffffff; stroke-width: 0.4"/>
<path d="M 249.664 231.866 L244.668 223.474 L234.771 223.637 L230.062 232.188 L235.145 240.497 L244.854 240.339 z
" clip-path="url(#p2195e9ecc8)" style="fill: #feb24c; stroke: #ffffff; stroke-width: 0.4"/>
<path d="M 174.067 210.140 L168.215 202.228 L158.152 203.246 L154.137 212.147 L160.042 219.964 L169.912 218.975 z
" clip-path="url(#p2195e9ecc8)" style="fill: #fd8c3c; stroke: #ffffff; stroke-width: 0.4"/>
<path d="M 311.742 183.046 L307.112 174.330 L296.627 173.792 L290.992 181.987 L295.755 190.624 L306.024 191.146 z
" clip-path="url(#p2195e9ecc8)" style="fill: #800026; stroke: #ffffff; stroke-width: 0.4"/>
<path d="M 310.577 199.856 L306.024 191.146 L295.755 190.624 L290.247 198.827 L294.925 207.460 L304.989 207.967 z
" clip-path="url(#p2195e9ecc8)" style="fill: #800026; stroke: #ffffff; stroke-width: 0.4"/>
<path d="M 340.923 202.246 L336.712 193.400 L326.506 192.535 L320.715 200.540 L325.065 209.316 L335.070 210.156 z
" clip-path="url(#p2195e9ecc8)" style="fill: #bb0026; stroke: #ffffff; stroke-width: 0.4"/>
<path d="M 375.910 172.371 L371.963 163.380 L361.431 162.104 L355.065 169.857 L359.179 178.783 L369.496 180.021 z
" clip-path="url(#p2195e9ecc8)" style="fill: #9d0026; stroke: #ffffff; stroke-width: 0.4"/>
<path d="M 361.431 162.104 L357.265 153.166 L346.562 152.051 L340.254 159.908 L344.586 168.775 L355.065 169.857 z
" clip-path="url(#p2195e9ecc8)" style="fill: #bb0026; stroke: #ffffff; stroke-width: 0.4"/>
<path d="M 390.006 182.841 L386.269 173.802 L375.910 172.371 L369.496 180.021 L373.400 188.999 L383.555 190.389 z
" clip-path="url(#p2195e9ecc8)" style="fill: #9d0026; stroke: #ffffff; stroke-width: 0.4"/>
<path d="M 371.012 205.638 L367.149 196.674 L357.037 195.471 L350.985 203.266 L354.998 212.167 L364.916 213.337 z
" clip-path="url(#p2195e9ecc8)" style="fill: #bb0026; stroke: #ffffff; stroke-width: 0.4"/>
<path d="M 309.467 216.670 L304.989 207.967 L294.925 207.460 L289.538 215.671 L294.135 224.299 L304.004 224.791 z
" clip-path="url(#p2195e9ecc8)" style="fill: #cf0c21; stroke: #ffffff; stroke-width: 0.4"/>
<path d="M 323.692 226.102 L319.408 217.335 L309.467 216.670 L304.004 224.791 L308.411 233.488 L318.162 234.134 z
" clip-path="url(#p2195e9ecc8)" style="fill: #e2191c; stroke: #ffffff; stroke-width: 0.4"/>
<path d="M 298.512 140.137 L293.470 131.484 L282.370 131.096 L276.562 139.374 L281.747 147.939 L292.601 148.315 z
" clip-path="url(#p2195e9ecc8)" style="fill: #fd9f44; stroke: #ffffff; stroke-width: 0.4"/>
<path d="M 314.259 149.440 L309.462 140.708 L298.512 140.137 L292.601 148.315 L297.545 156.963 L308.256 157.517 z
" clip-path="url(#p2195e9ecc8)" style="fill: #fd8c3c; stroke: #ffffff; stroke-width: 0.4"/>
<path d="M 331.293 142.227 L326.658 133.414 L315.619 132.643 L309.462 140.708 L314.259 149.440 L325.055 150.188 z
" clip-path="url(#p2195e9ecc8)" style="fill: #fd9f44; stroke: #ffffff; stroke-width: 0.4"/>
<path d="M 346.562 152.051 L342.166 143.173 L331.293 142.227 L325.055 150.188 L329.615 158.990 L340.254 159.908 z
" clip-path="url(#p2195e9ecc8)" style="fill: #ef3323; stroke: #ffffff; stroke-width: 0.4"/>
<path d="M 363.802 145.435 L359.581 136.484 L348.643 135.335 L342.166 143.173 L346.562 152.051 L357.265 153.166 z
" clip-path="url(#p2195e9ecc8)" style="fill: #fd8c3c; stroke: #ffffff; stroke-width: 0.4"/>
<path d="M 378.549 155.756 L374.559 146.750 L363.802 145.435 L357.265 153.166 L361.431 162.104 L371.963 163.380 z
" clip-path="url(#p2195e9ecc8)" style="fill: #fea747; stroke: #ffffff; stroke-width: 0.4"/>
<path d="M 297.545 156.963 L292.601 148.315 L281.747 147.939 L276.076 156.223 L281.156 164.785 L291.775 165.149 z
" clip-path="url(#p2195e9ecc8)" style="fill: #fc4d2a; stroke: #ffffff; stroke-width: 0.4"/>
<path d="M 312.968 166.241 L308.256 157.517 L297.545 156.963 L291.775 165.149 L296.627 173.792 L307.112 174.330 z
" clip-path="url(#p2195e9ecc8)" style="fill: #fc6c33; stroke: #ffffff; stroke-width: 0.4"/>
<path d="M 329.615 158.990 L325.055 150.188 L314.259 149.440 L308.256 157.517 L312.968 166.241 L323.534 166.966 z
" clip-path="url(#p2195e9ecc8)" style="fill: #fee38b; stroke: #ffffff; stroke-width: 0.4"/>
<path d="M 344.586 168.775 L340.254 159.908 L329.615 158.990 L323.534 166.966 L328.021 175.760 L338.438 176.651 z
" clip-path="url(#p2195e9ecc8)" style="fill: #fd9f44; stroke: #ffffff; stroke-width: 0.4"/>
<path d="M 296.627 173.792 L291.775 165.149 L281.156 164.785 L275.615 173.074 L280.595 181.633 L290.992 181.987 z
" clip-path="url(#p2195e9ecc8)" style="fill: #fc4d2a; stroke: #ffffff; stroke-width: 0.4"/>
<path d="M 328.021 175.760 L323.534 166.966 L312.968 166.241 L307.112 174.330 L311.742 183.046 L322.089 183.751 z
" clip-path="url(#p2195e9ecc8)" style="fill: #fec561; stroke: #ffffff; stroke-width: 0.4"/>
<path d="M 342.709 185.507 L338.438 176.651 L328.021 175.760 L322.089 183.751 L326.506 192.535 L336.712 193.400 z
" clip-path="url(#p2195e9ecc8)" style="fill: #fec561; stroke: #ffffff; stroke-width: 0.4"/>
<path d="M 359.179 178.783 L355.065 169.857 L344.586 168.775 L338.438 176.651 L342.709 185.507 L352.974 186.557 z
" clip-path="url(#p2195e9ecc8)" style="fill: #fc4d2a; stroke: #ffffff; stroke-width: 0.4"/>
<path d="M 373.400 188.999 L369.496 180.021 L359.179 178.783 L352.974 186.557 L357.037 195.471 L367.149 196.674 z
" clip-path="url(#p2195e9ecc8)" style="fill: #fc4d2a; stroke: #ffffff; stroke-width: 0.4"/>
<path d="M 387.259 199.413 L383.555 190.389 L373.400 188.999 L367.149 196.674 L371.012 205.638 L380.971 206.988 z
" clip-path="url(#p2195e9ecc8)" style="fill: #e2191c; stroke: #ffffff; stroke-width: 0.4"/>
<path d="M 295.755 190.624 L290.992 181.987 L280.595 181.633 L275.177 189.927 L280.062 198.484 L290.247 198.827 z
" clip-path="url(#p2195e9ecc8)" style="fill: #feb24c; stroke: #ffffff; stroke-width: 0.4"/>
<path d="M 326.506 192.535 L322.089 183.751 L311.742 183.046 L306.024 191.146 L310.577 199.856 L320.715 200.540 z
" clip-path="url(#p2195e9ecc8)" style="fill: #fd9f44; stroke: #ffffff; stroke-width: 0.4"/>
<path d="M 357.037 195.471 L352.974 186.557 L342.709 185.507 L336.712 193.400 L340.923 202.246 L350.985 203.266 z
" clip-path="url(#p2195e9ecc8)" style="fill: #fc4d2a; stroke: #ffffff; stroke-width: 0.4"/>
<path d="M 294.925 207.460 L290.247 198.827 L280.062 198.484 L274.761 206.783 L279.555 215.337 L289.538 215.671 z
" clip-path="url(#p2195e9ecc8)" style="fill: #ef3323; stroke: #ffffff; stroke-width: 0.4"/>
<path d="M 325.065 209.316 L320.715 200.540 L310.577 199.856 L304.989 207.967 L309.467 216.670 L319.408 217.335 z
" clip-path="url(#p2195e9ecc8)" style="fill: #fc4d2a; stroke: #ffffff; stroke-width: 0.4"/>
<path d="M 339.223 218.992 L335.070 210.156 L325.065 209.316 L319.408 217.335 L323.692 226.102 L333.505 226.919 z
" clip-path="url(#p2195e9ecc8)" style="fill: #fd9f44; stroke: #ffffff; stroke-width: 0.4"/>
<path d="M 354.998 212.167 L350.985 203.266 L340.923 202.246 L335.070 210.156 L339.223 218.992 L349.092 219.983 z
" clip-path="url(#p2195e9ecc8)" style="fill: #fd8c3c; stroke: #ffffff; stroke-width: 0.4"/>
<path d="M 368.738 222.288 L364.916 213.337 L354.998 212.167 L349.092 219.983 L353.056 228.873 L362.787 230.009 z
" clip-path="url(#p2195e9ecc8)" style="fill: #feb24c; stroke: #ffffff; stroke-width: 0.4"/>
<path d="M 384.643 215.998 L380.971 206.988 L371.012 205.638 L364.916 213.337 L368.738 222.288 L378.509 223.600 z
" clip-path="url(#p2195e9ecc8)" style="fill: #fd9841; stroke: #ffffff; stroke-width: 0.4"/>
<path d="M 294.135 224.299 L289.538 215.671 L279.555 215.337 L274.364 223.641 L279.071 232.193 L288.863 232.517 z
" clip-path="url(#p2195e9ecc8)" style="fill: #feb24c; stroke: #ffffff; stroke-width: 0.4"/>
<path d="M 308.411 233.488 L304.004 224.791 L294.135 224.299 L288.863 232.517 L293.383 241.141 L303.065 241.620 z
" clip-path="url(#p2195e9ecc8)" style="fill: #feb24c; stroke: #ffffff; stroke-width: 0.4"/>
<path d="M 337.603 235.744 L333.505 226.919 L323.692 226.102 L318.162 234.134 L322.384 242.893 L332.014 243.687 z
" clip-path="url(#p2195e9ecc8)" style="fill: #fed976; stroke: #ffffff; stroke-width: 0.4"/>
<path d="M 353.056 228.873 L349.092 219.983 L339.223 218.992 L333.505 226.919 L337.603 235.744 L347.287 236.708 z
" clip-path="url(#p2195e9ecc8)" style="fill: #fea747; stroke: #ffffff; stroke-width: 0.4"/>
<path d="M 366.570 238.948 L362.787 230.009 L353.056 228.873 L347.287 236.708 L351.204 245.587 L360.758 246.691 z
" clip-path="url(#p2195e9ecc8)" style="fill: #feba55; stroke: #ffffff; stroke-width: 0.4"/>
<path d="M 382.149 232.596 L378.509 223.600 L368.738 222.288 L362.787 230.009 L366.570 238.948 L376.163 240.224 z
" clip-path="url(#p2195e9ecc8)" style="fill: #e2191c; stroke: #ffffff; stroke-width: 0.4"/>
<path d="M 293.383 241.141 L288.863 232.517 L279.071 232.193 L273.986 240.501 L278.611 249.051 L288.219 249.366 z
" clip-path="url(#p2195e9ecc8)" style="fill: #ffeda0; stroke: #ffffff; stroke-width: 0.4"/>
<path d="M 322.384 242.893 L318.162 234.134 L308.411 233.488 L303.065 241.620 L307.404 250.310 L316.974 250.938 z
" clip-path="url(#p2195e9ecc8)" style="fill: #feb24c; stroke: #ffffff; stroke-width: 0.4"/>
<path d="M 279.555 215.337 L274.761 206.783 L264.667 206.613 L259.567 215.002 L264.467 223.476 L274.364 223.641 z
" clip-path="url(#p2195e9ecc8)" style="fill: #ffeda0; stroke: #ffffff; stroke-width: 0.4"/>
<path d="M 279.071 232.193 L274.364 223.641 L264.467 223.476 L259.469 231.867 L264.277 240.341 L273.986 240.501 z
" clip-path="url(#p2195e9ecc8)" style="fill: #fff6b6; stroke: #ffffff; stroke-width: 0.4"/>
<path d="M 406.844 177.005 L403.285 167.909 L392.893 166.283 L386.269 173.802 L390.006 182.841 L400.193 184.419 z
" clip-path="url(#p2195e9ecc8)" style="fill: #e2191c; stroke: #ffffff; stroke-width: 0.4"/>
<path d="M 423.906 171.500 L420.533 162.350 L410.119 160.528 L403.285 167.909 L406.844 177.005 L417.054 178.775 z
" clip-path="url(#p2195e9ecc8)" style="fill: #ef3323; stroke: #ffffff; stroke-width: 0.4"/>
<path d="M 427.576 155.113 L424.192 145.946 L413.564 144.069 L406.537 151.415 L410.119 160.528 L420.533 162.350 z
" clip-path="url(#p2195e9ecc8)" style="fill: #feb24c; stroke: #ffffff; stroke-width: 0.4"/>
<path d="M 410.119 160.528 L406.537 151.415 L395.930 149.741 L389.124 157.229 L392.893 166.283 L403.285 167.909 z
" clip-path="url(#p2195e9ecc8)" style="fill: #fec561; stroke: #ffffff; stroke-width: 0.4"/>
<path d="M 392.893 166.283 L389.124 157.229 L378.549 155.756 L371.963 163.380 L375.910 172.371 L386.269 173.802 z
" clip-path="url(#p2195e9ecc8)" style="fill: #feb24c; stroke: #ffffff; stroke-width: 0.4"/>
<path d="M 437.303 182.646 L434.128 173.464 L423.906 171.500 L417.054 178.775 L420.414 187.908 L430.442 189.816 z
" clip-path="url(#p2195e9ecc8)" style="fill: #fffac0; stroke: #ffffff; stroke-width: 0.4"/>
<path d="M 433.612 198.981 L430.442 189.816 L420.414 187.908 L413.743 195.220 L417.089 204.337 L426.931 206.191 z
" clip-path="url(#p2195e9ecc8)" style="fill: #fffac0; stroke: #ffffff; stroke-width: 0.4"/>
<path d="M 430.095 215.339 L426.931 206.191 L417.089 204.337 L410.590 211.683 L413.920 220.784 L423.585 222.587 z
" clip-path="url(#p2195e9ecc8)" style="fill: #fffac0; stroke: #ffffff; stroke-width: 0.4"/>
<path d="M 426.741 231.719 L423.585 222.587 L413.920 220.784 L407.584 228.163 L410.898 237.249 L420.392 239.002 z
" clip-path="url(#p2195e9ecc8)" style="fill: #fffcc4; stroke: #ffffff; stroke-width: 0.4"/>
<path d="M 403.729 193.500 L400.193 184.419 L390.006 182.841 L383.555 190.389 L387.259 199.413 L397.250 200.946 z
" clip-path="url(#p2195e9ecc8)" style="fill: #feb24c; stroke: #ffffff; stroke-width: 0.4"/>
<path d="M 400.762 210.012 L397.250 200.946 L387.259 199.413 L380.971 206.988 L384.643 215.998 L394.446 217.488 z
" clip-path="url(#p2195e9ecc8)" style="fill: #fec561; stroke: #ffffff; stroke-width: 0.4"/>
<path d="M 397.935 226.539 L394.446 217.488 L384.643 215.998 L378.509 223.600 L382.149 232.596 L391.774 234.045 z
" clip-path="url(#p2195e9ecc8)" style="fill: #fd8c3c; stroke: #ffffff; stroke-width: 0.4"/>
<path d="M 395.238 243.081 L391.774 234.045 L382.149 232.596 L376.163 240.224 L379.770 249.206 L389.224 250.615 z
" clip-path="url(#p2195e9ecc8)" style="fill: #cf0c21; stroke: #ffffff; stroke-width: 0.4"/>
<path d="M 410.898 237.249 L407.584 228.163 L397.935 226.539 L391.774 234.045 L395.238 243.081 L404.716 244.661 z
" clip-path="url(#p2195e9ecc8)" style="fill: #ffeda0; stroke: #ffffff; stroke-width: 0.4"/>
<path d="M 420.414 187.908 L417.054 178.775 L406.844 177.005 L400.193 184.419 L403.729 193.500 L413.743 195.220 z
" clip-path="url(#p2195e9ecc8)" style="fill: #ffeda0; stroke: #ffffff; stroke-width: 0.4"/>
<path d="M 91.780 255.404 L85.586 248.084 L76.244 249.958 L73.254 259.100 L79.454 266.327 L88.640 264.504 z
" clip-path="url(#p2195e9ecc8)" style="fill: #fffac0; stroke: #ffffff; stroke-width: 0.4"/>
<path d="M 94.688 271.856 L88.640 264.504 L79.454 266.327 L76.468 275.452 L82.524 282.715 L91.560 280.941 z
" clip-path="url(#p2195e9ecc8)" style="fill: #fffac0; stroke: #ffffff; stroke-width: 0.4"/>
<path d="M 97.469 288.326 L91.560 280.941 L82.524 282.715 L79.542 291.825 L85.459 299.122 L94.352 297.396 z
" clip-path="url(#p2195e9ecc8)" style="fill: #fffcc4; stroke: #ffffff; stroke-width: 0.4"/>
<path d="M 100.129 304.811 L94.352 297.396 L85.459 299.122 L82.483 308.217 L88.269 315.546 L97.024 313.866 z
" clip-path="url(#p2195e9ecc8)" style="fill: #fee38b; stroke: #ffffff; stroke-width: 0.4"/>
<path d="M 102.675 321.311 L97.024 313.866 L88.269 315.546 L85.300 324.626 L90.961 331.988 L99.583 330.352 z
" clip-path="url(#p2195e9ecc8)" style="fill: #fee38b; stroke: #ffffff; stroke-width: 0.4"/>
<path d="M 105.114 337.825 L99.583 330.352 L90.961 331.988 L87.998 341.053 L93.539 348.445 L102.034 346.852 z
" clip-path="url(#p2195e9ecc8)" style="fill: #ffeda0; stroke: #ffffff; stroke-width: 0.4"/>
<path d="M 90.961 331.988 L85.300 324.626 L76.670 326.413 L73.830 335.513 L79.496 342.793 L87.998 341.053 z
" clip-path="url(#p2195e9ecc8)" style="fill: #fffcc4; stroke: #ffffff; stroke-width: 0.4"/>
<path d="M 93.539 348.445 L87.998 341.053 L79.496 342.793 L76.658 351.878 L82.204 359.190 L90.584 357.496 z
" clip-path="url(#p2195e9ecc8)" style="fill: #fffcc4; stroke: #ffffff; stroke-width: 0.4"/>
<path d="M 107.146 261.144 L101.112 253.701 L91.780 255.404 L88.640 264.504 L94.688 271.856 L103.864 270.199 z
" clip-path="url(#p2195e9ecc8)" style="fill: #fff3ae; stroke: #ffffff; stroke-width: 0.4"/>
<path d="M 109.758 277.672 L103.864 270.199 L94.688 271.856 L91.560 280.941 L97.469 288.326 L106.494 286.713 z
" clip-path="url(#p2195e9ecc8)" style="fill: #fee38b; stroke: #ffffff; stroke-width: 0.4"/>
<path d="M 112.256 294.215 L106.494 286.713 L97.469 288.326 L94.352 297.396 L100.129 304.811 L109.010 303.241 z
" clip-path="url(#p2195e9ecc8)" style="fill: #fec561; stroke: #ffffff; stroke-width: 0.4"/>
<path d="M 114.646 310.770 L109.010 303.241 L100.129 304.811 L97.024 313.866 L102.675 321.311 L111.418 319.783 z
" clip-path="url(#p2195e9ecc8)" style="fill: #fd9f44; stroke: #ffffff; stroke-width: 0.4"/>
<path d="M 116.933 327.338 L111.418 319.783 L102.675 321.311 L99.583 330.352 L105.114 337.825 L113.723 336.338 z
" clip-path="url(#p2195e9ecc8)" style="fill: #fec561; stroke: #ffffff; stroke-width: 0.4"/>
<path d="M 119.123 343.919 L113.723 336.338 L105.114 337.825 L102.034 346.852 L107.450 354.353 L115.932 352.905 z
" clip-path="url(#p2195e9ecc8)" style="fill: #feb24c; stroke: #ffffff; stroke-width: 0.4"/>
<path d="M 119.902 250.588 L113.889 243.053 L104.411 244.631 L101.112 253.701 L107.146 261.144 L116.460 259.609 z
" clip-path="url(#p2195e9ecc8)" style="fill: #ffeda0; stroke: #ffffff; stroke-width: 0.4"/>
<path d="M 122.334 267.172 L116.460 259.609 L107.146 261.144 L103.864 270.199 L109.758 277.672 L118.916 276.179 z
" clip-path="url(#p2195e9ecc8)" style="fill: #fd9f44; stroke: #ffffff; stroke-width: 0.4"/>
<path d="M 124.657 283.768 L118.916 276.179 L109.758 277.672 L106.494 286.713 L112.256 294.215 L121.263 292.762 z
" clip-path="url(#p2195e9ecc8)" style="fill: #feb24c; stroke: #ffffff; stroke-width: 0.4"/>
<path d="M 126.878 300.376 L121.263 292.762 L112.256 294.215 L109.010 303.241 L114.646 310.770 L123.509 309.356 z
" clip-path="url(#p2195e9ecc8)" style="fill: #fc4d2a; stroke: #ffffff; stroke-width: 0.4"/>
<path d="M 129.003 316.994 L123.509 309.356 L114.646 310.770 L111.418 319.783 L116.933 327.338 L125.657 325.962 z
" clip-path="url(#p2195e9ecc8)" style="fill: #feb24c; stroke: #ffffff; stroke-width: 0.4"/>
<path d="M 131.037 333.623 L125.657 325.962 L116.933 327.338 L113.723 336.338 L119.123 343.919 L127.715 342.579 z
" clip-path="url(#p2195e9ecc8)" style="fill: #fc6c33; stroke: #ffffff; stroke-width: 0.4"/>
<path d="M 132.985 350.263 L127.715 342.579 L119.123 343.919 L115.932 352.905 L121.222 360.510 L129.686 359.207 z
" clip-path="url(#p2195e9ecc8)" style="fill: #ef3323; stroke: #ffffff; stroke-width: 0.4"/>
<path d="M 135.202 256.834 L129.357 249.181 L119.902 250.588 L116.460 259.609 L122.334 267.172 L131.624 265.804 z
" clip-path="url(#p2195e9ecc8)" style="fill: #fd9f44; stroke: #ffffff; stroke-width: 0.4"/>
<path d="M 137.338 273.480 L131.624 265.804 L122.334 267.172 L118.916 276.179 L124.657 283.768 L133.790 282.437 z
" clip-path="url(#p2195e9ecc8)" style="fill: #cf0c21; stroke: #ffffff; stroke-width: 0.4"/>
<path d="M 139.378 290.136 L133.790 282.437 L124.657 283.768 L121.263 292.762 L126.878 300.376 L135.861 299.080 z
" clip-path="url(#p2195e9ecc8)" style="fill: #cf0c21; stroke: #ffffff; stroke-width: 0.4"/>
<path d="M 141.329 306.802 L135.861 299.080 L126.878 300.376 L123.509 309.356 L129.003 316.994 L137.842 315.734 z
" clip-path="url(#p2195e9ecc8)" style="fill: #fd9f44; stroke: #ffffff; stroke-width: 0.4"/>
<path d="M 143.195 323.476 L137.842 315.734 L129.003 316.994 L125.657 325.962 L131.037 333.623 L139.738 332.397 z
" clip-path="url(#p2195e9ecc8)" style="fill: #fd9f44; stroke: #ffffff; stroke-width: 0.4"/>
<path d="M 144.982 340.159 L139.738 332.397 L131.037 333.623 L127.715 342.579 L132.985 350.263 L141.553 349.069 z
" clip-path="url(#p2195e9ecc8)" style="fill: #fed976; stroke: #ffffff; stroke-width: 0.4"/>
<path d="M 148.370 246.670 L142.560 238.926 L132.966 240.199 L129.357 249.181 L135.202 256.834 L144.625 255.596 z
" clip-path="url(#p2195e9ecc8)" style="fill: #fec561; stroke: #ffffff; stroke-width: 0.4"/>
<path d="M 150.304 263.361 L144.625 255.596 L135.202 256.834 L131.624 265.804 L137.338 273.480 L146.597 272.276 z
" clip-path="url(#p2195e9ecc8)" style="fill: #fc4d2a; stroke: #ffffff; stroke-width: 0.4"/>
<path d="M 152.150 280.061 L146.597 272.276 L137.338 273.480 L133.790 282.437 L139.378 290.136 L148.481 288.965 z
" clip-path="url(#p2195e9ecc8)" style="fill: #e2191c; stroke: #ffffff; stroke-width: 0.4"/>
<path d="M 153.915 296.770 L148.481 288.965 L139.378 290.136 L135.861 299.080 L141.329 306.802 L150.282 305.662 z
" clip-path="url(#p2195e9ecc8)" style="fill: #feb24c; stroke: #ffffff; stroke-width: 0.4"/>
<path d="M 155.603 313.486 L150.282 305.662 L141.329 306.802 L137.842 315.734 L143.195 323.476 L152.005 322.367 z
" clip-path="url(#p2195e9ecc8)" style="fill: #fd8c3c; stroke: #ffffff; stroke-width: 0.4"/>
<path d="M 157.218 330.209 L152.005 322.367 L143.195 323.476 L139.738 332.397 L144.982 340.159 L153.654 339.080 z
" clip-path="url(#p2195e9ecc8)" style="fill: #fd8c3c; stroke: #ffffff; stroke-width: 0.4"/>
<path d="M 158.764 346.939 L153.654 339.080 L144.982 340.159 L141.553 349.069 L146.693 356.851 L155.234 355.801 z
" clip-path="url(#p2195e9ecc8)" style="fill: #fd8c3c; stroke: #ffffff; stroke-width: 0.4"/>
<path d="M 163.561 253.422 L157.925 245.567 L148.370 246.670 L144.625 255.596 L150.304 263.361 L159.688 262.289 z
" clip-path="url(#p2195e9ecc8)" style="fill: #fd9f44; stroke: #ffffff; stroke-width: 0.4"/>
<path d="M 165.201 270.161 L159.688 262.289 L150.304 263.361 L146.597 272.276 L152.150 280.061 L161.372 279.019 z
" clip-path="url(#p2195e9ecc8)" style="fill: #e2191c; stroke: #ffffff; stroke-width: 0.4"/>
<path d="M 166.767 286.908 L161.372 279.019 L152.150 280.061 L148.481 288.965 L153.915 296.770 L162.982 295.755 z
" clip-path="url(#p2195e9ecc8)" style="fill: #ef3323; stroke: #ffffff; stroke-width: 0.4"/>
<path d="M 168.264 303.661 L162.982 295.755 L153.915 296.770 L150.282 305.662 L155.603 313.486 L164.521 312.499 z
" clip-path="url(#p2195e9ecc8)" style="fill: #fee38b; stroke: #ffffff; stroke-width: 0.4"/>
<path d="M 169.696 320.420 L164.521 312.499 L155.603 313.486 L152.005 322.367 L157.218 330.209 L165.993 329.249 z
" clip-path="url(#p2195e9ecc8)" style="fill: #bb0026; stroke: #ffffff; stroke-width: 0.4"/>
<path d="M 171.066 337.186 L165.993 329.249 L157.218 330.209 L153.654 339.080 L158.764 346.939 L167.402 346.005 z
" clip-path="url(#p2195e9ecc8)" style="fill: #fc4d2a; stroke: #ffffff; stroke-width: 0.4"/>
<path d="M 235.502 257.361 L230.519 249.046 L220.910 249.360 L216.462 257.978 L221.521 266.212 L230.955 265.907 z
" clip-path="url(#p2195e9ecc8)" style="fill: #cf0c21; stroke: #ffffff; stroke-width: 0.4"/>
<path d="M 249.754 248.734 L244.854 240.339 L235.145 240.497 L230.519 249.046 L235.502 257.361 L245.032 257.206 z
" clip-path="url(#p2195e9ecc8)" style="fill: #fd9f44; stroke: #ffffff; stroke-width: 0.4"/>
<path d="M 264.096 257.208 L259.375 248.735 L249.754 248.734 L245.032 257.206 L249.840 265.603 L259.286 265.604 z
" clip-path="url(#p2195e9ecc8)" style="fill: #fee38b; stroke: #ffffff; stroke-width: 0.4"/>
<path d="M 220.910 249.360 L215.748 241.133 L206.065 241.610 L201.725 250.299 L206.957 258.442 L216.462 257.978 z
" clip-path="url(#p2195e9ecc8)" style="fill: #ffeda0; stroke: #ffffff; stroke-width: 0.4"/>
<path d="M 235.843 274.226 L230.955 265.907 L221.521 266.212 L217.144 274.827 L222.104 283.067 L231.372 282.771 z
" clip-path="url(#p2195e9ecc8)" style="fill: #fec561; stroke: #ffffff; stroke-width: 0.4"/>
<path d="M 221.521 266.212 L216.462 257.978 L206.957 258.442 L202.683 267.126 L207.809 275.277 L217.144 274.827 z
" clip-path="url(#p2195e9ecc8)" style="fill: #ffeda0; stroke: #ffffff; stroke-width: 0.4"/>
<path d="M 249.922 282.475 L245.202 274.076 L235.843 274.226 L231.372 282.771 L236.169 291.094 L245.364 290.948 z
" clip-path="url(#p2195e9ecc8)" style="fill: #fee38b; stroke: #ffffff; stroke-width: 0.4"/>
<path d="M 222.104 283.067 L217.144 274.827 L207.809 275.277 L203.598 283.955 L208.622 292.116 L217.795 291.678 z
" clip-path="url(#p2195e9ecc8)" style="fill: #fec561; stroke: #ffffff; stroke-width: 0.4"/>
<path d="M 236.169 291.094 L231.372 282.771 L222.104 283.067 L217.795 291.678 L222.661 299.925 L231.769 299.637 z
" clip-path="url(#p2195e9ecc8)" style="fill: #feb24c; stroke: #ffffff; stroke-width: 0.4"/>
<path d="M 208.622 292.116 L203.598 283.955 L194.364 284.547 L190.314 293.283 L195.395 301.365 L204.472 300.789 z
" clip-path="url(#p2195e9ecc8)" style="fill: #fee38b; stroke: #ffffff; stroke-width: 0.4"/>
<path d="M 222.661 299.925 L217.795 291.678 L208.622 292.116 L204.472 300.789 L209.399 308.959 L218.418 308.533 z
" clip-path="url(#p2195e9ecc8)" style="fill: #fd8c3c; stroke: #ffffff; stroke-width: 0.4"/>
<path d="M 236.480 307.964 L231.769 299.637 L222.661 299.925 L218.418 308.533 L223.194 316.786 L232.150 316.505 z
" clip-path="url(#p2195e9ecc8)" style="fill: #fd9f44; stroke: #ffffff; stroke-width: 0.4"/>
<path d="M 250.001 299.349 L245.364 290.948 L236.169 291.094 L231.769 299.637 L236.480 307.964 L245.518 307.823 z
" clip-path="url(#p2195e9ecc8)" style="fill: #fee38b; stroke: #ffffff; stroke-width: 0.4"/>
<path d="M 195.395 301.365 L190.314 293.283 L181.183 294.012 L177.289 302.801 L182.421 310.802 L191.399 310.094 z
" clip-path="url(#p2195e9ecc8)" style="fill: #fd8c3c; stroke: #ffffff; stroke-width: 0.4"/>
<path d="M 209.399 308.959 L204.472 300.789 L195.395 301.365 L191.399 310.094 L196.381 318.186 L205.307 317.626 z
" clip-path="url(#p2195e9ecc8)" style="fill: #e2191c; stroke: #ffffff; stroke-width: 0.4"/>
<path d="M 223.194 316.786 L218.418 308.533 L209.399 308.959 L205.307 317.626 L210.143 325.805 L219.013 325.390 z
" clip-path="url(#p2195e9ecc8)" style="fill: #fd8c3c; stroke: #ffffff; stroke-width: 0.4"/>
<path d="M 236.777 324.837 L232.150 316.505 L223.194 316.786 L219.013 325.390 L223.703 333.649 L232.514 333.377 z
" clip-path="url(#p2195e9ecc8)" style="fill: #feb24c; stroke: #ffffff; stroke-width: 0.4"/>
<path d="M 181.183 294.012 L175.946 286.024 L166.767 286.908 L162.982 295.755 L168.264 303.661 L177.289 302.801 z
" clip-path="url(#p2195e9ecc8)" style="fill: #fff6b6; stroke: #ffffff; stroke-width: 0.4"/>
<path d="M 182.421 310.802 L177.289 302.801 L168.264 303.661 L164.521 312.499 L169.696 320.420 L178.573 319.584 z
" clip-path="url(#p2195e9ecc8)" style="fill: #fc4d2a; stroke: #ffffff; stroke-width: 0.4"/>
<path d="M 196.381 318.186 L191.399 310.094 L182.421 310.802 L178.573 319.584 L183.604 327.598 L192.436 326.909 z
" clip-path="url(#p2195e9ecc8)" style="fill: #feb24c; stroke: #ffffff; stroke-width: 0.4"/>
<path d="M 210.143 325.805 L205.307 317.626 L196.381 318.186 L192.436 326.909 L197.324 335.012 L206.107 334.467 z
" clip-path="url(#p2195e9ecc8)" style="fill: #fc6c33; stroke: #ffffff; stroke-width: 0.4"/>
<path d="M 223.703 333.649 L219.013 325.390 L210.143 325.805 L206.107 334.467 L210.854 342.654 L219.583 342.250 z
" clip-path="url(#p2195e9ecc8)" style="fill: #cf0c21; stroke: #ffffff; stroke-width: 0.4"/>
<path d="M 183.604 327.598 L178.573 319.584 L169.696 320.420 L165.993 329.249 L171.066 337.186 L179.802 336.371 z
" clip-path="url(#p2195e9ecc8)" style="fill: #fc6c33; stroke: #ffffff; stroke-width: 0.4"/>
<path d="M 197.324 335.012 L192.436 326.909 L183.604 327.598 L179.802 336.371 L184.737 344.399 L193.429 343.728 z
" clip-path="url(#p2195e9ecc8)" style="fill: #fc4d2a; stroke: #ffffff; stroke-width: 0.4"/>
<path d="M 210.854 342.654 L206.107 334.467 L197.324 335.012 L193.429 343.728 L198.228 351.841 L206.872 351.311 z
" clip-path="url(#p2195e9ecc8)" style="fill: #fc4d2a; stroke: #ffffff; stroke-width: 0.4"/>
<path d="M 224.191 350.516 L219.583 342.250 L210.854 342.654 L206.872 351.311 L211.535 359.506 L220.128 359.113 z
" clip-path="url(#p2195e9ecc8)" style="fill: #e2191c; stroke: #ffffff; stroke-width: 0.4"/>
<path d="M 184.737 344.399 L179.802 336.371 L171.066 337.186 L167.402 346.005 L172.378 353.957 L180.979 353.165 z
" clip-path="url(#p2195e9ecc8)" style="fill: #fd9f44; stroke: #ffffff; stroke-width: 0.4"/>
<path d="M 198.228 351.841 L193.429 343.728 L184.737 344.399 L180.979 353.165 L185.822 361.204 L194.381 360.552 z
" clip-path="url(#p2195e9ecc8)" style="fill: #ef3323; stroke: #ffffff; stroke-width: 0.4"/>
<path d="M 237.062 341.712 L232.514 333.377 L223.703 333.649 L219.583 342.250 L224.191 350.516 L232.862 350.250 z
" clip-path="url(#p2195e9ecc8)" style="fill: #fec561; stroke: #ffffff; stroke-width: 0.4"/>
<path d="M 250.148 333.105 L245.666 324.699 L236.777 324.837 L232.514 333.377 L237.062 341.712 L245.808 341.578 z
" clip-path="url(#p2195e9ecc8)" style="fill: #fed976; stroke: #ffffff; stroke-width: 0.4"/>
<path d="M 250.216 349.986 L245.808 341.578 L237.062 341.712 L232.862 350.250 L237.334 358.590 L245.944 358.460 z
" clip-path="url(#p2195e9ecc8)" style="fill: #feb24c; stroke: #ffffff; stroke-width: 0.4"/>
<path d="M 263.450 324.701 L259.042 316.227 L250.076 316.226 L245.666 324.699 L250.148 333.105 L258.967 333.106 z
" clip-path="url(#p2195e9ecc8)" style="fill: #fec561; stroke: #ffffff; stroke-width: 0.4"/>
<path d="M 263.305 341.580 L258.967 333.106 L250.148 333.105 L245.808 341.578 L250.216 349.986 L258.896 349.987 z
" clip-path="url(#p2195e9ecc8)" style="fill: #feb24c; stroke: #ffffff; stroke-width: 0.4"/>
<path d="M 276.601 333.381 L272.339 324.841 L263.450 324.701 L258.967 333.106 L263.305 341.580 L272.052 341.716 z
" clip-path="url(#p2195e9ecc8)" style="fill: #fd8c3c; stroke: #ffffff; stroke-width: 0.4"/>
<path d="M 276.250 350.254 L272.052 341.716 L263.305 341.580 L258.896 349.987 L263.167 358.461 L271.777 358.593 z
" clip-path="url(#p2195e9ecc8)" style="fill: #fc4d2a; stroke: #ffffff; stroke-width: 0.4"/>
<path d="M 178.534 260.446 L173.070 252.487 L163.561 253.422 L159.688 262.289 L165.201 270.161 L174.541 269.252 z
" clip-path="url(#p2195e9ecc8)" style="fill: #fff3ae; stroke: #ffffff; stroke-width: 0.4"/>
<path d="M 177.115 243.671 L171.528 235.728 L161.843 236.689 L157.925 245.567 L163.561 253.422 L173.070 252.487 z
" clip-path="url(#p2195e9ecc8)" style="fill: #fd9f44; stroke: #ffffff; stroke-width: 0.4"/>
<path d="M 179.889 277.226 L174.541 269.252 L165.201 270.161 L161.372 279.019 L166.767 286.908 L175.946 286.024 z
" clip-path="url(#p2195e9ecc8)" style="fill: #ffeda0; stroke: #ffffff; stroke-width: 0.4"/>
<path d="M 264.277 240.341 L259.469 231.867 L249.664 231.866 L244.854 240.339 L249.754 248.734 L259.375 248.735 z
" clip-path="url(#p2195e9ecc8)" style="fill: #fee38b; stroke: #ffffff; stroke-width: 0.4"/>
<path d="M 347.750 279.037 L343.923 270.179 L334.584 269.268 L329.234 277.241 L333.176 286.039 L342.354 286.925 z
" clip-path="url(#p2195e9ecc8)" style="fill: #800026; stroke: #ffffff; stroke-width: 0.4"/>
<path d="M 349.437 262.308 L345.566 253.440 L336.058 252.503 L330.592 260.461 L334.584 269.268 L343.923 270.179 z
" clip-path="url(#p2195e9ecc8)" style="fill: #e2191c; stroke: #ffffff; stroke-width: 0.4"/>
<path d="M 333.176 286.039 L329.234 277.241 L319.945 276.490 L314.759 284.559 L318.807 293.296 L327.937 294.026 z
" clip-path="url(#p2195e9ecc8)" style="fill: #ef3323; stroke: #ffffff; stroke-width: 0.4"/>
<path d="M 346.138 295.773 L342.354 286.925 L333.176 286.039 L327.937 294.026 L331.830 302.816 L340.854 303.678 z
" clip-path="url(#p2195e9ecc8)" style="fill: #ef3323; stroke: #ffffff; stroke-width: 0.4"/>
<path d="M 331.830 302.816 L327.937 294.026 L318.807 293.296 L313.724 301.376 L317.719 310.106 L326.697 310.816 z
" clip-path="url(#p2195e9ecc8)" style="fill: #e2191c; stroke: #ffffff; stroke-width: 0.4"/>
<path d="M 334.584 269.268 L330.592 260.461 L321.136 259.689 L315.841 267.746 L319.945 276.490 L329.234 277.241 z
" clip-path="url(#p2195e9ecc8)" style="fill: #fd9f44; stroke: #ffffff; stroke-width: 0.4"/>
<path d="M 336.058 252.503 L332.014 243.687 L322.384 242.893 L316.974 250.938 L321.136 259.689 L330.592 260.461 z
" clip-path="url(#p2195e9ecc8)" style="fill: #fc6c33; stroke: #ffffff; stroke-width: 0.4"/>
<path d="M 321.136 259.689 L316.974 250.938 L307.404 250.310 L302.170 258.451 L306.442 267.136 L315.841 267.746 z
" clip-path="url(#p2195e9ecc8)" style="fill: #fd9f44; stroke: #ffffff; stroke-width: 0.4"/>
<path d="M 319.945 276.490 L315.841 267.746 L306.442 267.136 L301.315 275.287 L305.525 283.965 L314.759 284.559 z
" clip-path="url(#p2195e9ecc8)" style="fill: #fed976; stroke: #ffffff; stroke-width: 0.4"/>
<path d="M 318.807 293.296 L314.759 284.559 L305.525 283.965 L300.499 292.125 L304.648 300.799 L313.724 301.376 z
" clip-path="url(#p2195e9ecc8)" style="fill: #fed976; stroke: #ffffff; stroke-width: 0.4"/>
<path d="M 307.404 250.310 L303.065 241.620 L293.383 241.141 L288.219 249.366 L292.665 257.986 L302.170 258.451 z
" clip-path="url(#p2195e9ecc8)" style="fill: #fc4d2a; stroke: #ffffff; stroke-width: 0.4"/>
<path d="M 306.442 267.136 L302.170 258.451 L292.665 257.986 L287.605 266.218 L291.980 274.834 L301.315 275.287 z
" clip-path="url(#p2195e9ecc8)" style="fill: #fed976; stroke: #ffffff; stroke-width: 0.4"/>
<path d="M 364.501 255.618 L360.758 246.691 L351.204 245.587 L345.566 253.440 L349.437 262.308 L358.821 263.382 z
" clip-path="url(#p2195e9ecc8)" style="fill: #fd9f44; stroke: #ffffff; stroke-width: 0.4"/>
<path d="M 362.526 272.297 L358.821 263.382 L349.437 262.308 L343.923 270.179 L347.750 279.037 L356.972 280.082 z
" clip-path="url(#p2195e9ecc8)" style="fill: #fec561; stroke: #ffffff; stroke-width: 0.4"/>
<path d="M 360.640 288.985 L356.972 280.082 L347.750 279.037 L342.354 286.925 L346.138 295.773 L355.204 296.789 z
" clip-path="url(#p2195e9ecc8)" style="fill: #ffeda0; stroke: #ffffff; stroke-width: 0.4"/>
<path d="M 379.770 249.206 L376.163 240.224 L366.570 238.948 L360.758 246.691 L364.501 255.618 L373.923 256.858 z
" clip-path="url(#p2195e9ecc8)" style="fill: #feb24c; stroke: #ffffff; stroke-width: 0.4"/>
<path d="M 317.719 310.106 L313.724 301.376 L304.648 300.799 L299.719 308.968 L303.810 317.636 L312.736 318.197 z
" clip-path="url(#p2195e9ecc8)" style="fill: #feb24c; stroke: #ffffff; stroke-width: 0.4"/>
<path d="M 316.679 326.921 L312.736 318.197 L303.810 317.636 L298.973 325.813 L303.008 334.476 L311.790 335.023 z
" clip-path="url(#p2195e9ecc8)" style="fill: #fc6c33; stroke: #ffffff; stroke-width: 0.4"/>
<path d="M 303.810 317.636 L299.719 308.968 L290.701 308.540 L285.923 316.792 L290.103 325.397 L298.973 325.813 z
" clip-path="url(#p2195e9ecc8)" style="fill: #fec561; stroke: #ffffff; stroke-width: 0.4"/>
<path d="M 303.008 334.476 L298.973 325.813 L290.103 325.397 L285.411 333.655 L289.531 342.257 L298.259 342.662 z
" clip-path="url(#p2195e9ecc8)" style="fill: #feb24c; stroke: #ffffff; stroke-width: 0.4"/>
<path d="M 290.103 325.397 L285.923 316.792 L276.968 316.510 L272.339 324.841 L276.601 333.381 L285.411 333.655 z
" clip-path="url(#p2195e9ecc8)" style="fill: #fec561; stroke: #ffffff; stroke-width: 0.4"/>
<path d="M 289.531 342.257 L285.411 333.655 L276.601 333.381 L272.052 341.716 L276.250 350.254 L284.921 350.521 z
" clip-path="url(#p2195e9ecc8)" style="fill: #fd9f44; stroke: #ffffff; stroke-width: 0.4"/>
<path d="M 344.596 312.516 L340.854 303.678 L331.830 302.816 L326.697 310.816 L330.543 319.598 L339.420 320.436 z
" clip-path="url(#p2195e9ecc8)" style="fill: #ffeda0; stroke: #ffffff; stroke-width: 0.4"/>
<path d="M 140.006 416.913 L135.127 409.147 L127.017 410.350 L123.896 419.288 L128.795 426.983 L136.796 425.812 z
" clip-path="url(#p2195e9ecc8)" style="fill: #9d0026; stroke: #ffffff; stroke-width: 0.4"/>
<path d="M 113.899 404.012 L108.798 396.434 L100.657 397.905 L97.728 406.914 L102.841 414.419 L110.872 412.987 z
" clip-path="url(#p2195e9ecc8)" style="fill: #ef3323; stroke: #ffffff; stroke-width: 0.4"/>
<path d="M 102.841 414.419 L97.728 406.914 L89.687 408.479 L86.865 417.507 L91.985 424.939 L99.921 423.415 z
" clip-path="url(#p2195e9ecc8)" style="fill: #fc6c33; stroke: #ffffff; stroke-width: 0.4"/>
<path d="M 115.878 420.589 L110.872 412.987 L102.841 414.419 L99.921 423.415 L104.938 430.945 L112.864 429.551 z
" clip-path="url(#p2195e9ecc8)" style="fill: #fed976; stroke: #ffffff; stroke-width: 0.4"/>
<path d="M 128.795 426.983 L123.896 419.288 L115.878 420.589 L112.864 429.551 L117.778 437.176 L125.691 435.909 z
" clip-path="url(#p2195e9ecc8)" style="fill: #fffac0; stroke: #ffffff; stroke-width: 0.4"/>
<path d="M 152.863 423.695 L148.094 415.841 L140.006 416.913 L136.796 425.812 L141.587 433.597 L149.567 432.553 z
" clip-path="url(#p2195e9ecc8)" style="fill: #feb24c; stroke: #ffffff; stroke-width: 0.4"/>
<path d="M 127.017 410.350 L122.027 402.676 L113.899 404.012 L110.872 412.987 L115.878 420.589 L123.896 419.288 z
" clip-path="url(#p2195e9ecc8)" style="fill: #feb24c; stroke: #ffffff; stroke-width: 0.4"/>
<path d="M 138.358 400.237 L133.388 392.491 L125.165 393.727 L122.027 402.676 L127.017 410.350 L135.127 409.147 z
" clip-path="url(#p2195e9ecc8)" style="fill: #feb24c; stroke: #ffffff; stroke-width: 0.4"/>
<path d="M 151.415 406.973 L146.560 399.136 L138.358 400.237 L135.127 409.147 L140.006 416.913 L148.094 415.841 z
" clip-path="url(#p2195e9ecc8)" style="fill: #fd9f44; stroke: #ffffff; stroke-width: 0.4"/>
<path d="M 164.331 413.928 L159.590 406.004 L151.415 406.973 L148.094 415.841 L152.863 423.695 L160.926 422.752 z
" clip-path="url(#p2195e9ecc8)" style="fill: #fd8c3c; stroke: #ffffff; stroke-width: 0.4"/>
<path d="M 163.025 397.172 L158.198 389.263 L149.906 390.258 L146.560 399.136 L151.415 406.973 L159.590 406.004 z
" clip-path="url(#p2195e9ecc8)" style="fill: #fc4d2a; stroke: #ffffff; stroke-width: 0.4"/>
<path d="M 100.657 397.905 L95.444 390.427 L87.294 392.034 L84.468 401.076 L89.687 408.479 L97.728 406.914 z
" clip-path="url(#p2195e9ecc8)" style="fill: #fee38b; stroke: #ffffff; stroke-width: 0.4"/>
<path d="M 111.838 387.447 L106.636 379.894 L98.382 381.404 L95.444 390.427 L100.657 397.905 L108.798 396.434 z
" clip-path="url(#p2195e9ecc8)" style="fill: #feb24c; stroke: #ffffff; stroke-width: 0.4"/>
<path d="M 125.165 393.727 L120.079 386.075 L111.838 387.447 L108.798 396.434 L113.899 404.012 L122.027 402.676 z
" clip-path="url(#p2195e9ecc8)" style="fill: #fd9f44; stroke: #ffffff; stroke-width: 0.4"/>
<path d="M 136.642 383.570 L131.576 375.844 L123.235 377.113 L120.079 386.075 L125.165 393.727 L133.388 392.491 z
" clip-path="url(#p2195e9ecc8)" style="fill: #feb24c; stroke: #ffffff; stroke-width: 0.4"/>
<path d="M 149.906 390.258 L144.960 382.439 L136.642 383.570 L133.388 392.491 L138.358 400.237 L146.560 399.136 z
" clip-path="url(#p2195e9ecc8)" style="fill: #fec561; stroke: #ffffff; stroke-width: 0.4"/>
<path d="M 161.664 380.421 L156.747 372.528 L148.334 373.551 L144.960 382.439 L149.906 390.258 L158.198 389.263 z
" clip-path="url(#p2195e9ecc8)" style="fill: #fd9f44; stroke: #ffffff; stroke-width: 0.4"/>
<path d="M 98.382 381.404 L93.065 373.954 L84.802 375.604 L81.971 384.660 L87.294 392.034 L95.444 390.427 z
" clip-path="url(#p2195e9ecc8)" style="fill: #fee38b; stroke: #ffffff; stroke-width: 0.4"/>
<path d="M 109.690 370.894 L104.383 363.367 L96.011 364.917 L93.065 373.954 L98.382 381.404 L106.636 379.894 z
" clip-path="url(#p2195e9ecc8)" style="fill: #feb24c; stroke: #ffffff; stroke-width: 0.4"/>
<path d="M 123.235 377.113 L118.049 369.485 L109.690 370.894 L106.636 379.894 L111.838 387.447 L120.079 386.075 z
" clip-path="url(#p2195e9ecc8)" style="fill: #fd8c3c; stroke: #ffffff; stroke-width: 0.4"/>
<path d="M 134.852 366.912 L129.686 359.207 L121.222 360.510 L118.049 369.485 L123.235 377.113 L131.576 375.844 z
" clip-path="url(#p2195e9ecc8)" style="fill: #e2191c; stroke: #ffffff; stroke-width: 0.4"/>
<path d="M 148.334 373.551 L143.293 365.750 L134.852 366.912 L131.576 375.844 L136.642 383.570 L144.960 382.439 z
" clip-path="url(#p2195e9ecc8)" style="fill: #cf0c21; stroke: #ffffff; stroke-width: 0.4"/>
<path d="M 160.245 363.677 L155.234 355.801 L146.693 356.851 L143.293 365.750 L148.334 373.551 L156.747 372.528 z
" clip-path="url(#p2195e9ecc8)" style="fill: #e2191c; stroke: #ffffff; stroke-width: 0.4"/>
<path d="M 96.011 364.917 L90.584 357.496 L82.204 359.190 L79.369 368.260 L84.802 375.604 L93.065 373.954 z
" clip-path="url(#p2195e9ecc8)" style="fill: #fff6b6; stroke: #ffffff; stroke-width: 0.4"/>
<path d="M 107.450 354.353 L102.034 346.852 L93.539 348.445 L90.584 357.496 L96.011 364.917 L104.383 363.367 z
" clip-path="url(#p2195e9ecc8)" style="fill: #fee38b; stroke: #ffffff; stroke-width: 0.4"/>
<path d="M 121.222 360.510 L115.932 352.905 L107.450 354.353 L104.383 363.367 L109.690 370.894 L118.049 369.485 z
" clip-path="url(#p2195e9ecc8)" style="fill: #fd8c3c; stroke: #ffffff; stroke-width: 0.4"/>
<path d="M 146.693 356.851 L141.553 349.069 L132.985 350.263 L129.686 359.207 L134.852 366.912 L143.293 365.750 z
" clip-path="url(#p2195e9ecc8)" style="fill: #e2191c; stroke: #ffffff; stroke-width: 0.4"/>
<path d="M 201.479 419.198 L197.003 411.046 L188.814 411.648 L185.216 420.385 L189.732 428.471 L197.807 427.885 z
" clip-path="url(#p2195e9ecc8)" style="fill: #800026; stroke: #ffffff; stroke-width: 0.4"/>
<path d="M 212.188 376.361 L207.605 368.159 L199.093 368.675 L195.292 377.379 L199.922 385.512 L208.307 385.010 z
" clip-path="url(#p2195e9ecc8)" style="fill: #bb0026; stroke: #ffffff; stroke-width: 0.4"/>
<path d="M 199.922 385.512 L195.292 377.379 L186.862 378.014 L183.186 386.765 L187.858 394.829 L196.165 394.211 z
" clip-path="url(#p2195e9ecc8)" style="fill: #e2191c; stroke: #ffffff; stroke-width: 0.4"/>
<path d="M 212.813 393.220 L208.307 385.010 L199.922 385.512 L196.165 394.211 L200.717 402.353 L208.981 401.865 z
" clip-path="url(#p2195e9ecc8)" style="fill: #e2191c; stroke: #ffffff; stroke-width: 0.4"/>
<path d="M 188.814 411.648 L184.223 403.573 L175.996 404.304 L172.477 413.089 L177.104 421.096 L185.216 420.385 z
" clip-path="url(#p2195e9ecc8)" style="fill: #feb24c; stroke: #ffffff; stroke-width: 0.4"/>
<path d="M 200.717 402.353 L196.165 394.211 L187.858 394.829 L184.223 403.573 L188.814 411.648 L197.003 411.046 z
" clip-path="url(#p2195e9ecc8)" style="fill: #fd8c3c; stroke: #ffffff; stroke-width: 0.4"/>
<path d="M 213.413 410.082 L208.981 401.865 L200.717 402.353 L197.003 411.046 L201.479 419.198 L209.627 418.722 z
" clip-path="url(#p2195e9ecc8)" style="fill: #fc4d2a; stroke: #ffffff; stroke-width: 0.4"/>
<path d="M 225.535 401.131 L221.151 392.848 L212.813 393.220 L208.981 401.865 L213.413 410.082 L221.631 409.720 z
" clip-path="url(#p2195e9ecc8)" style="fill: #fec561; stroke: #ffffff; stroke-width: 0.4"/>
<path d="M 225.946 418.008 L221.631 409.720 L213.413 410.082 L209.627 418.722 L213.989 426.947 L222.092 426.595 z
" clip-path="url(#p2195e9ecc8)" style="fill: #feb24c; stroke: #ffffff; stroke-width: 0.4"/>
<path d="M 238.085 409.238 L233.821 400.887 L225.535 401.131 L221.631 409.720 L225.946 418.008 L234.115 417.770 z
" clip-path="url(#p2195e9ecc8)" style="fill: #fc4d2a; stroke: #ffffff; stroke-width: 0.4"/>
<path d="M 237.845 392.353 L233.515 384.005 L225.106 384.257 L221.151 392.848 L225.535 401.131 L233.821 400.887 z
" clip-path="url(#p2195e9ecc8)" style="fill: #fd8c3c; stroke: #ffffff; stroke-width: 0.4"/>
<path d="M 250.406 400.643 L246.198 392.229 L237.845 392.353 L233.821 400.887 L238.085 409.238 L246.318 409.117 z
" clip-path="url(#p2195e9ecc8)" style="fill: #fc4d2a; stroke: #ffffff; stroke-width: 0.4"/>
<path d="M 262.786 409.119 L258.700 400.643 L250.406 400.643 L246.318 409.117 L250.464 417.533 L258.640 417.534 z
" clip-path="url(#p2195e9ecc8)" style="fill: #fc4d2a; stroke: #ffffff; stroke-width: 0.4"/>
<path d="M 250.464 417.533 L246.318 409.117 L238.085 409.238 L234.115 417.770 L238.315 426.125 L246.432 426.008 z
" clip-path="url(#p2195e9ecc8)" style="fill: #fec561; stroke: #ffffff; stroke-width: 0.4"/>
<path d="M 262.670 426.009 L258.640 417.534 L250.464 417.533 L246.432 426.008 L250.519 434.425 L258.582 434.426 z
" clip-path="url(#p2195e9ecc8)" style="fill: #fee38b; stroke: #ffffff; stroke-width: 0.4"/>
<path d="M 238.315 426.125 L234.115 417.770 L225.946 418.008 L222.092 426.595 L226.341 434.888 L234.397 434.657 z
" clip-path="url(#p2195e9ecc8)" style="fill: #fff3ae; stroke: #ffffff; stroke-width: 0.4"/>
<path d="M 213.989 426.947 L209.627 418.722 L201.479 419.198 L197.807 427.885 L202.211 436.046 L210.247 435.583 z
" clip-path="url(#p2195e9ecc8)" style="fill: #feb24c; stroke: #ffffff; stroke-width: 0.4"/>
<path d="M 189.732 428.471 L185.216 420.385 L177.104 421.096 L173.619 429.874 L178.168 437.894 L186.170 437.202 z
" clip-path="url(#p2195e9ecc8)" style="fill: #fffcc4; stroke: #ffffff; stroke-width: 0.4"/>
<path d="M 177.104 421.096 L172.477 413.089 L164.331 413.928 L160.926 422.752 L165.585 430.691 L173.619 429.874 z
" clip-path="url(#p2195e9ecc8)" style="fill: #fee38b; stroke: #ffffff; stroke-width: 0.4"/>
<path d="M 274.988 417.774 L271.019 409.241 L262.786 409.119 L258.640 417.534 L262.670 426.009 L270.787 426.128 z
" clip-path="url(#p2195e9ecc8)" style="fill: #fec561; stroke: #ffffff; stroke-width: 0.4"/>
<path d="M 175.996 404.304 L171.287 396.310 L163.025 397.172 L159.590 406.004 L164.331 413.928 L172.477 413.089 z
" clip-path="url(#p2195e9ecc8)" style="fill: #feb24c; stroke: #ffffff; stroke-width: 0.4"/>
<path d="M 187.858 394.829 L183.186 386.765 L174.840 387.516 L171.287 396.310 L175.996 404.304 L184.223 403.573 z
" clip-path="url(#p2195e9ecc8)" style="fill: #fd9f44; stroke: #ffffff; stroke-width: 0.4"/>
<path d="M 174.840 387.516 L170.046 379.536 L161.664 380.421 L158.198 389.263 L163.025 397.172 L171.287 396.310 z
" clip-path="url(#p2195e9ecc8)" style="fill: #fd9f44; stroke: #ffffff; stroke-width: 0.4"/>
<path d="M 186.862 378.014 L182.106 369.963 L173.635 370.734 L170.046 379.536 L174.840 387.516 L183.186 386.765 z
" clip-path="url(#p2195e9ecc8)" style="fill: #fd8c3c; stroke: #ffffff; stroke-width: 0.4"/>
<path d="M 173.635 370.734 L168.752 362.767 L160.245 363.677 L156.747 372.528 L161.664 380.421 L170.046 379.536 z
" clip-path="url(#p2195e9ecc8)" style="fill: #fd8c3c; stroke: #ffffff; stroke-width: 0.4"/>
<path d="M 185.822 361.204 L180.979 353.165 L172.378 353.957 L168.752 362.767 L173.635 370.734 L182.106 369.963 z
" clip-path="url(#p2195e9ecc8)" style="fill: #fc4d2a; stroke: #ffffff; stroke-width: 0.4"/>
<path d="M 199.093 368.675 L194.381 360.552 L185.822 361.204 L182.106 369.963 L186.862 378.014 L195.292 377.379 z
" clip-path="url(#p2195e9ecc8)" style="fill: #fd8c3c; stroke: #ffffff; stroke-width: 0.4"/>
<path d="M 172.378 353.957 L167.402 346.005 L158.764 346.939 L155.234 355.801 L160.245 363.677 L168.752 362.767 z
" clip-path="url(#p2195e9ecc8)" style="fill: #fed16e; stroke: #ffffff; stroke-width: 0.4"/>
<path d="M 211.535 359.506 L206.872 351.311 L198.228 351.841 L194.381 360.552 L199.093 368.675 L207.605 368.159 z
" clip-path="url(#p2195e9ecc8)" style="fill: #fd8c3c; stroke: #ffffff; stroke-width: 0.4"/>
<path d="M 224.658 367.385 L220.128 359.113 L211.535 359.506 L207.605 368.159 L212.188 376.361 L220.650 375.979 z
" clip-path="url(#p2195e9ecc8)" style="fill: #fed976; stroke: #ffffff; stroke-width: 0.4"/>
<path d="M 225.106 384.257 L220.650 375.979 L212.188 376.361 L208.307 385.010 L212.813 393.220 L221.151 392.848 z
" clip-path="url(#p2195e9ecc8)" style="fill: #fc6c33; stroke: #ffffff; stroke-width: 0.4"/>
<path d="M 237.334 358.590 L232.862 350.250 L224.191 350.516 L220.128 359.113 L224.658 367.385 L233.195 367.127 z
" clip-path="url(#p2195e9ecc8)" style="fill: #fc4d2a; stroke: #ffffff; stroke-width: 0.4"/>
<path d="M 237.595 375.470 L233.195 367.127 L224.658 367.385 L220.650 375.979 L225.106 384.257 L233.515 384.005 z
" clip-path="url(#p2195e9ecc8)" style="fill: #fc4d2a; stroke: #ffffff; stroke-width: 0.4"/>
<path d="M 250.345 383.755 L246.074 375.343 L237.595 375.470 L233.515 384.005 L237.845 392.353 L246.198 392.229 z
" clip-path="url(#p2195e9ecc8)" style="fill: #fd8c3c; stroke: #ffffff; stroke-width: 0.4"/>
<path d="M 262.908 392.231 L258.762 383.755 L250.345 383.755 L246.198 392.229 L250.406 400.643 L258.700 400.643 z
" clip-path="url(#p2195e9ecc8)" style="fill: #fee38b; stroke: #ffffff; stroke-width: 0.4"/>
<path d="M 275.284 400.890 L271.261 392.356 L262.908 392.231 L258.700 400.643 L262.786 409.119 L271.019 409.241 z
" clip-path="url(#p2195e9ecc8)" style="fill: #fee38b; stroke: #ffffff; stroke-width: 0.4"/>
<path d="M 263.167 358.461 L258.896 349.987 L250.216 349.986 L245.944 358.460 L250.282 366.869 L258.828 366.870 z
" clip-path="url(#p2195e9ecc8)" style="fill: #fd9f44; stroke: #ffffff; stroke-width: 0.4"/>
<path d="M 287.010 426.600 L283.156 418.013 L274.988 417.774 L270.787 426.128 L274.704 434.660 L282.759 434.893 z
" clip-path="url(#p2195e9ecc8)" style="fill: #fff3ae; stroke: #ffffff; stroke-width: 0.4"/>
<path d="M 392.664 259.637 L389.224 250.615 L379.770 249.206 L373.923 256.858 L377.500 265.828 L386.789 267.198 z
" clip-path="url(#p2195e9ecc8)" style="fill: #fee38b; stroke: #ffffff; stroke-width: 0.4"/>
<path d="M 408.013 253.731 L404.716 244.661 L395.238 243.081 L389.224 250.615 L392.664 259.637 L401.978 261.173 z
" clip-path="url(#p2195e9ecc8)" style="fill: #fee38b; stroke: #ffffff; stroke-width: 0.4"/>
<path d="M 377.500 265.828 L373.923 256.858 L364.501 255.618 L358.821 263.382 L362.526 272.297 L371.785 273.503 z
" clip-path="url(#p2195e9ecc8)" style="fill: #ffeda0; stroke: #ffffff; stroke-width: 0.4"/>
<path d="M 351.204 245.587 L347.287 236.708 L337.603 235.744 L332.014 243.687 L336.058 252.503 L345.566 253.440 z
" clip-path="url(#p2195e9ecc8)" style="fill: #fc6c33; stroke: #ffffff; stroke-width: 0.4"/>
<path d="M 193.285 267.734 L187.991 259.676 L178.534 260.446 L174.541 269.252 L179.889 277.226 L189.179 276.477 z
" clip-path="url(#p2195e9ecc8)" style="fill: #fff0a7; stroke: #ffffff; stroke-width: 0.4"/>
<path d="M 250.282 366.869 L245.944 358.460 L237.334 358.590 L233.195 367.127 L237.595 375.470 L246.074 375.343 z
" clip-path="url(#p2195e9ecc8)" style="fill: #fd863a; stroke: #ffffff; stroke-width: 0.4"/>
<path d="M 250.076 316.226 L245.518 307.823 L236.480 307.964 L232.150 316.505 L236.777 324.837 L245.666 324.699 z
" clip-path="url(#p2195e9ecc8)" style="fill: #fec561; stroke: #ffffff; stroke-width: 0.4"/>
<path d="M 249.840 265.603 L245.032 257.206 L235.502 257.361 L230.955 265.907 L235.843 274.226 L245.202 274.076 z
" clip-path="url(#p2195e9ecc8)" style="fill: #feae4a; stroke: #ffffff; stroke-width: 0.4"/>
<path d="M 249.569 215.001 L244.472 206.611 L234.378 206.779 L229.582 215.332 L234.771 223.637 L244.668 223.474 z
" clip-path="url(#p2195e9ecc8)" style="fill: #fed470; stroke: #ffffff; stroke-width: 0.4"/>
<path d="M 263.601 307.824 L259.120 299.350 L250.001 299.349 L245.518 307.823 L250.076 316.226 L259.042 316.227 z
" clip-path="url(#p2195e9ecc8)" style="fill: #fed976; stroke: #ffffff; stroke-width: 0.4"/>
<path d="M 264.876 189.752 L259.779 181.278 L249.366 181.277 L244.266 189.750 L249.470 198.138 L259.670 198.139 z
" clip-path="url(#p2195e9ecc8)" style="fill: #feca66; stroke: #ffffff; stroke-width: 0.4"/>
<path d="M 275.914 367.131 L271.777 358.593 L263.167 358.461 L258.828 366.870 L263.035 375.345 L271.513 375.473 z
" clip-path="url(#p2195e9ecc8)" style="fill: #fd7c37; stroke: #ffffff; stroke-width: 0.4"/>
<path d="M 276.968 316.510 L272.639 307.968 L263.601 307.824 L259.042 316.227 L263.450 324.701 L272.339 324.841 z
" clip-path="url(#p2195e9ecc8)" style="fill: #feb24c; stroke: #ffffff; stroke-width: 0.4"/>
<path d="M 302.240 351.320 L298.259 342.662 L289.531 342.257 L284.921 350.521 L288.983 359.120 L297.575 359.514 z
" clip-path="url(#p2195e9ecc8)" style="fill: #fea848; stroke: #ffffff; stroke-width: 0.4"/>
<path d="M 315.683 343.740 L311.790 335.023 L303.008 334.476 L298.259 342.662 L302.240 351.320 L310.884 351.852 z
" clip-path="url(#p2195e9ecc8)" style="fill: #fd9640; stroke: #ffffff; stroke-width: 0.4"/>
<path d="M 330.543 319.598 L326.697 310.816 L317.719 310.106 L312.736 318.197 L316.679 326.921 L325.511 327.612 z
" clip-path="url(#p2195e9ecc8)" style="fill: #fd9a42; stroke: #ffffff; stroke-width: 0.4"/>
<path d="M 381.328 139.153 L377.294 130.132 L366.301 128.777 L359.581 136.484 L363.802 145.435 L374.559 146.750 z
" clip-path="url(#p2195e9ecc8)" style="fill: #fd9c42; stroke: #ffffff; stroke-width: 0.4"/>
<path d="M 413.564 144.069 L409.961 134.939 L399.128 133.215 L392.128 140.671 L395.930 149.741 L406.537 151.415 z
" clip-path="url(#p2195e9ecc8)" style="fill: #fed976; stroke: #ffffff; stroke-width: 0.4"/>
<path d="M 413.920 220.784 L410.590 211.683 L400.762 210.012 L394.446 217.488 L397.935 226.539 L407.584 228.163 z
" clip-path="url(#p2195e9ecc8)" style="fill: #fee187; stroke: #ffffff; stroke-width: 0.4"/>
</g>
<g id="matplotlib.axis_1">
<g id="xtick_1">
<g id="line2d_1">
<defs>
<path id="m1504cfccaf" d="M 0 0 L0 3.5 
" style="stroke: #000000; stroke-width: 0.8"/>
</defs>
<g>
<use href="#m1504cfccaf" x="103.104" y="458.856" style="stroke: #000000; stroke-width: 0.8"/>
</g>
</g>
<g id="text_1">
<!-- −15 -->
<g transform="translate(92.551 473.454) scale(0.1 -0.1)">
<defs>
<path id="DejaVuSans-2212" d="M 678 2272 L4684 2272 L4684 1741 L678 1741 L678 2272 z
" transform="scale(0.015)"/>
<path id="DejaVuSans-31" d="M 794 531 L1825 531 L1825 4091 L703 3866 L703 4441 L1819 4666 L2450 4666 L2450 531 L3481 531 L3481 0 L794 0 L794 531 z
" transform="scale(0.015)"/>
<path id="DejaVuSans-35" d="M 691 4666 L3169 4666 L3169 4134 L1269 4134 L1269 2991 Q1406 3038 1543 3061 Q1681 3084 1819 3084 Q2600 3084 3056 2656 Q3513 2228 3513 1497 Q3513 744 3044 326 Q2575 -91 1722 -91 Q1428 -91 1123 -41 Q819 9 494 109 L494 744 Q775 591 1075 516 Q1375 441 1709 441 Q2250 441 2565 725 Q2881 1009 2881 1497 Q2881 1984 2565 2268 Q2250 2553 1709 2553 Q1456 2553 1204 2497 Q953 2441 691 2322 L691 4666 z
" transform="scale(0.015)"/>
</defs>
<use href="#DejaVuSans-2212"/>
<use href="#DejaVuSans-31" transform="translate(83.789 0)"/>
<use href="#DejaVuSans-35" transform="translate(147.412 0)"/>
</g>
</g>
</g>
<g id="xtick_2">
<g id="line2d_2">
<g>
<use href="#m1504cfccaf" x="166.176" y="458.856" style="stroke: #000000; stroke-width: 0.8"/>
</g>
</g>
<g id="text_2">
<!-- −10 -->
<g transform="translate(155.623 473.454) scale(0.1 -0.1)">
<defs>
<path id="DejaVuSans-30" d="M 2034 4250 Q1547 4250 1301 3770 Q1056 3291 1056 2328 Q1056 1369 1301 889 Q1547 409 2034 409 Q2525 409 2770 889 Q3016 1369 3016 2328 Q3016 3291 2770 3770 Q2525 4250 2034 4250 zM2034 4750 Q2819 4750 3233 4129 Q3647 3509 3647 2328 Q3647 1150 3233 529 Q2819 -91 2034 -91 Q1250 -91 836 529 Q422 1150 422 2328 Q422 3509 836 4129 Q1250 4750 2034 4750 z
" transform="scale(0.015)"/>
</defs>
<use href="#DejaVuSans-2212"/>
<use href="#DejaVuSans-31" transform="translate(83.789 0)"/>
<use href="#DejaVuSans-30" transform="translate(147.412 0)"/>
</g>
</g>
</g>
<g id="xtick_3">
<g id="line2d_3">
<g>
<use href="#m1504cfccaf" x="229.248" y="458.856" style="stroke: #000000; stroke-width: 0.8"/>
</g>
</g>
<g id="text_3">
<!-- −5 -->
<g transform="translate(221.876 473.454) scale(0.1 -0.1)">
<use href="#DejaVuSans-2212"/>
<use href="#DejaVuSans-35" transform="translate(83.789 0)"/>
</g>
</g>
</g>
<g id="xtick_4">
<g id="line2d_4">
<g>
<use href="#m1504cfccaf" x="292.32" y="458.856" style="stroke: #000000; stroke-width: 0.8"/>
</g>
</g>
<g id="text_4">
<!-- 0 -->
<g transform="translate(289.138 473.454) scale(0.1 -0.1)">
<use href="#DejaVuSans-30"/>
</g>
</g>
</g>
<g id="xtick_5">
<g id="line2d_5">
<g>
<use href="#m1504cfccaf" x="355.392" y="458.856" style="stroke: #000000; stroke-width: 0.8"/>
</g>
</g>
<g id="text_5">
<!-- 5 -->
<g transform="translate(352.210 473.454) scale(0.1 -0.1)">
<use href="#DejaVuSans-35"/>
</g>
</g>
</g>
<g id="xtick_6">
<g id="line2d_6">
<g>
<use href="#m1504cfccaf" x="418.464" y="458.856" style="stroke: #000000; stroke-width: 0.8"/>
</g>
</g>
<g id="text_6">
<!-- 10 -->
<g transform="translate(412.101 473.454) scale(0.1 -0.1)">
<use href="#DejaVuSans-31"/>
<use href="#DejaVuSans-30" transform="translate(63.623 0)"/>
</g>
</g>
</g>
<g id="text_7">
<!-- Longitude -->
<g transform="translate(229.974 487.132) scale(0.1 -0.1)">
<defs>
<path id="DejaVuSans-4c" d="M 628 4666 L1259 4666 L1259 531 L3531 531 L3531 0 L628 0 L628 4666 z
" transform="scale(0.015)"/>
<path id="DejaVuSans-6f" d="M 1959 3097 Q1497 3097 1228 2736 Q959 2375 959 1747 Q959 1119 1226 758 Q1494 397 1959 397 Q2419 397 2687 759 Q2956 1122 2956 1747 Q2956 2369 2687 2733 Q2419 3097 1959 3097 zM1959 3584 Q2709 3584 3137 3096 Q3566 2609 3566 1747 Q3566 888 3137 398 Q2709 -91 1959 -91 Q1206 -91 779 398 Q353 888 353 1747 Q353 2609 779 3096 Q1206 3584 1959 3584 z
" transform="scale(0.015)"/>
<path id="DejaVuSans-6e" d="M 3513 2113 L3513 0 L2938 0 L2938 2094 Q2938 2591 2744 2837 Q2550 3084 2163 3084 Q1697 3084 1428 2787 Q1159 2491 1159 1978 L1159 0 L581 0 L581 3500 L1159 3500 L1159 2956 Q1366 3272 1645 3428 Q1925 3584 2291 3584 Q2894 3584 3203 3211 Q3513 2838 3513 2113 z
" transform="scale(0.015)"/>
<path id="DejaVuSans-67" d="M 2906 1791 Q2906 2416 2648 2759 Q2391 3103 1925 3103 Q1463 3103 1205 2759 Q947 2416 947 1791 Q947 1169 1205 825 Q1463 481 1925 481 Q2391 481 2648 825 Q2906 1169 2906 1791 zM3481 434 Q3481 -459 3084 -895 Q2688 -1331 1869 -1331 Q1566 -1331 1297 -1286 Q1028 -1241 775 -1147 L775 -588 Q1028 -725 1275 -790 Q1522 -856 1778 -856 Q2344 -856 2625 -561 Q2906 -266 2906 331 L2906 616 Q2728 306 2450 153 Q2172 0 1784 0 Q1141 0 747 490 Q353 981 353 1791 Q353 2603 747 3093 Q1141 3584 1784 3584 Q2172 3584 2450 3431 Q2728 3278 2906 2969 L2906 3500 L3481 3500 L3481 434 z
" transform="scale(0.015)"/>
<path id="DejaVuSans-69" d="M 603 3500 L1178 3500 L1178 0 L603 0 L603 3500 zM603 4863 L1178 4863 L1178 4134 L603 4134 L603 4863 z
" transform="scale(0.015)"/>
<path id="DejaVuSans-74" d="M 1172 4494 L1172 3500 L2356 3500 L2356 3053 L1172 3053 L1172 1153 Q1172 725 1289 603 Q1406 481 1766 481 L2356 481 L2356 0 L1766 0 Q1100 0 847 248 Q594 497 594 1153 L594 3053 L172 3053 L172 3500 L594 3500 L594 4494 L1172 4494 z
" transform="scale(0.015)"/>
<path id="DejaVuSans-75" d="M 544 1381 L544 3500 L1119 3500 L1119 1403 Q1119 906 1312 657 Q1506 409 1894 409 Q2359 409 2629 706 Q2900 1003 2900 1516 L2900 3500 L3475 3500 L3475 0 L2900 0 L2900 538 Q2691 219 2414 64 Q2138 -91 1772 -91 Q1169 -91 856 284 Q544 659 544 1381 zM1991 3584 L1991 3584 z
" transform="scale(0.015)"/>
<path id="DejaVuSans-64" d="M 2906 2969 L2906 4863 L3481 4863 L3481 0 L2906 0 L2906 525 Q2725 213 2448 61 Q2172 -91 1784 -91 Q1150 -91 751 415 Q353 922 353 1747 Q353 2572 751 3078 Q1150 3584 1784 3584 Q2172 3584 2448 3432 Q2725 3281 2906 2969 zM947 1747 Q947 1113 1208 752 Q1469 391 1925 391 Q2381 391 2643 752 Q2906 1113 2906 1747 Q2906 2381 2643 2742 Q2381 3103 1925 3103 Q1469 3103 1208 2742 Q947 2381 947 1747 z
" transform="scale(0.015)"/>
<path id="DejaVuSans-65" d="M 3597 1894 L3597 1613 L953 1613 Q991 1019 1311 708 Q1631 397 2203 397 Q2534 397 2845 478 Q3156 559 3463 722 L3463 178 Q3153 47 2828 -22 Q2503 -91 2169 -91 Q1331 -91 842 396 Q353 884 353 1716 Q353 2575 817 3079 Q1281 3584 2069 3584 Q2775 3584 3186 3129 Q3597 2675 3597 1894 zM3022 2063 Q3016 2534 2758 2815 Q2500 3097 2075 3097 Q1594 3097 1305 2825 Q1016 2553 972 2059 L3022 2063 z
" transform="scale(0.015)"/>
</defs>
<use href="#DejaVuSans-4c"/>
<use href="#DejaVuSans-6f" transform="translate(53.962 0)"/>
<use href="#DejaVuSans-6e" transform="translate(115.144 0)"/>
<use href="#DejaVuSans-67" transform="translate(178.523 0)"/>
<use href="#DejaVuSans-69" transform="translate(242 0)"/>
<use href="#DejaVuSans-74" transform="translate(269.783 0)"/>
<use href="#DejaVuSans-75" transform="translate(308.992 0)"/>
<use href="#DejaVuSans-64" transform="translate(372.371 0)"/>
<use href="#DejaVuSans-65" transform="translate(435.847 0)"/>
</g>
</g>
</g>
<g id="matplotlib.axis_2">
<g id="ytick_1">
<g id="line2d_7">
<defs>
<path id="m5d545ce8f8" d="M 0 0 L-3.5 0 
" style="stroke: #000000; stroke-width: 0.8"/>
</defs>
<g>
<use href="#m5d545ce8f8" x="50.904" y="443.7" style="stroke: #000000; stroke-width: 0.8"/>
</g>
</g>
<g id="text_8">
<!-- 45.0 -->
<g transform="translate(21.638 447.499) scale(0.1 -0.1)">
<defs>
<path id="DejaVuSans-34" d="M 2419 4116 L825 1625 L2419 1625 L2419 4116 zM2253 4666 L3047 4666 L3047 1625 L3713 1625 L3713 1100 L3047 1100 L3047 0 L2419 0 L2419 1100 L313 1100 L313 1709 L2253 4666 z
" transform="scale(0.015)"/>
<path id="DejaVuSans-2e" d="M 684 794 L1344 794 L1344 0 L684 0 L684 794 z
" transform="scale(0.015)"/>
</defs>
<use href="#DejaVuSans-34"/>
<use href="#DejaVuSans-35" transform="translate(63.623 0)"/>
<use href="#DejaVuSans-2e" transform="translate(127.246 0)"/>
<use href="#DejaVuSans-30" transform="translate(159.033 0)"/>
</g>
</g>
</g>
<g id="ytick_2">
<g id="line2d_8">
<g>
<use href="#m5d545ce8f8" x="50.904" y="389.52" style="stroke: #000000; stroke-width: 0.8"/>
</g>
</g>
<g id="text_9">
<!-- 47.5 -->
<g transform="translate(21.638 393.319) scale(0.1 -0.1)">
<defs>
<path id="DejaVuSans-37" d="M 525 4666 L3525 4666 L3525 4397 L1831 0 L1172 0 L2766 4134 L525 4134 L525 4666 z
" transform="scale(0.015)"/>
</defs>
<use href="#DejaVuSans-34"/>
<use href="#DejaVuSans-37" transform="translate(63.623 0)"/>
<use href="#DejaVuSans-2e" transform="translate(127.246 0)"/>
<use href="#DejaVuSans-35" transform="translate(159.033 0)"/>
</g>
</g>
</g>
<g id="ytick_3">
<g id="line2d_9">
<g>
<use href="#m5d545ce8f8" x="50.904" y="335.34" style="stroke: #000000; stroke-width: 0.8"/>
</g>
</g>
<g id="text_10">
<!-- 50.0 -->
<g transform="translate(21.638 339.139) scale(0.1 -0.1)">
<use href="#DejaVuSans-35"/>
<use href="#DejaVuSans-30" transform="translate(63.623 0)"/>
<use href="#DejaVuSans-2e" transform="translate(127.246 0)"/>
<use href="#DejaVuSans-30" transform="translate(159.033 0)"/>
</g>
</g>
</g>
<g id="ytick_4">
<g id="line2d_10">
<g>
<use href="#m5d545ce8f8" x="50.904" y="281.16" style="stroke: #000000; stroke-width: 0.8"/>
</g>
</g>
<g id="text_11">
<!-- 52.5 -->
<g transform="translate(21.638 284.959) scale(0.1 -0.1)">
<defs>
<path id="DejaVuSans-32" d="M 1228 531 L3431 531 L3431 0 L469 0 L469 531 Q828 903 1448 1529 Q2069 2156 2228 2338 Q2531 2678 2651 2914 Q2772 3150 2772 3378 Q2772 3750 2511 3984 Q2250 4219 1831 4219 Q1534 4219 1204 4116 Q875 4013 500 3803 L500 4441 Q881 4594 1212 4672 Q1544 4750 1819 4750 Q2544 4750 2975 4387 Q3406 4025 3406 3419 Q3406 3131 3298 2873 Q3191 2616 2906 2266 Q2828 2175 2409 1742 Q1991 1309 1228 531 z
" transform="scale(0.015)"/>
</defs>
<use href="#DejaVuSans-35"/>
<use href="#DejaVuSans-32" transform="translate(63.623 0)"/>
<use href="#DejaVuSans-2e" transform="translate(127.246 0)"/>
<use href="#DejaVuSans-35" transform="translate(159.033 0)"/>
</g>
</g>
</g>
<g id="ytick_5">
<g id="line2d_11">
<g>
<use href="#m5d545ce8f8" x="50.904" y="226.98" style="stroke: #000000; stroke-width: 0.8"/>
</g>
</g>
<g id="text_12">
<!-- 55.0 -->
<g transform="translate(21.638 230.779) scale(0.1 -0.1)">
<use href="#DejaVuSans-35"/>
<use href="#DejaVuSans-35" transform="translate(63.623 0)"/>
<use href="#DejaVuSans-2e" transform="translate(127.246 0)"/>
<use href="#DejaVuSans-30" transform="translate(159.033 0)"/>
</g>
</g>
</g>
<g id="ytick_6">
<g id="line2d_12">
<g>
<use href="#m5d545ce8f8" x="50.904" y="172.8" style="stroke: #000000; stroke-width: 0.8"/>
</g>
</g>
<g id="text_13">
<!-- 57.5 -->
<g transform="translate(21.638 176.599) scale(0.1 -0.1)">
<use href="#DejaVuSans-35"/>
<use href="#DejaVuSans-37" transform="translate(63.623 0)"/>
<use href="#DejaVuSans-2e" transform="translate(127.246 0)"/>
<use href="#DejaVuSans-35" transform="translate(159.033 0)"/>
</g>
</g>
</g>
<g id="ytick_7">
<g id="line2d_13">
<g>
<use href="#m5d545ce8f8" x="50.904" y="118.62" style="stroke: #000000; stroke-width: 0.8"/>
</g>
</g>
<g id="text_14">
<!-- 60.0 -->
<g transform="translate(21.638 122.419) scale(0.1 -0.1)">
<defs>
<path id="DejaVuSans-36" d="M 2113 2584 Q1688 2584 1439 2293 Q1191 2003 1191 1497 Q1191 994 1439 701 Q1688 409 2113 409 Q2538 409 2786 701 Q3034 994 3034 1497 Q3034 2003 2786 2293 Q2538 2584 2113 2584 zM3366 4563 L3366 3988 Q3128 4100 2886 4159 Q2644 4219 2406 4219 Q1781 4219 1451 3797 Q1122 3375 1075 2522 Q1259 2794 1537 2939 Q1816 3084 2150 3084 Q2853 3084 3261 2657 Q3669 2231 3669 1497 Q3669 778 3244 343 Q2819 -91 2113 -91 Q1303 -91 875 529 Q447 1150 447 2328 Q447 3434 972 4092 Q1497 4750 2381 4750 Q2619 4750 2861 4703 Q3103 4656 3366 4563 z
" transform="scale(0.015)"/>
</defs>
<use href="#DejaVuSans-36"/>
<use href="#DejaVuSans-30" transform="translate(63.623 0)"/>
<use href="#DejaVuSans-2e" transform="translate(127.246 0)"/>
<use href="#DejaVuSans-30" transform="translate(159.033 0)"/>
</g>
</g>
</g>
<g id="ytick_8">
<g id="line2d_14">
<g>
<use href="#m5d545ce8f8" x="50.904" y="64.44" style="stroke: #000000; stroke-width: 0.8"/>
</g>
</g>
<g id="text_15">
<!-- 62.5 -->
<g transform="translate(21.638 68.239) scale(0.1 -0.1)">
<use href="#DejaVuSans-36"/>
<use href="#DejaVuSans-32" transform="translate(63.623 0)"/>
<use href="#DejaVuSans-2e" transform="translate(127.246 0)"/>
<use href="#DejaVuSans-35" transform="translate(159.033 0)"/>
</g>
</g>
</g>
<g id="text_16">
<!-- Latitude -->
<g transform="translate(15.051 262.158) rotate(-90) scale(0.1 -0.1)">
<defs>
<path id="DejaVuSans-61" d="M 2194 1759 Q1497 1759 1228 1600 Q959 1441 959 1056 Q959 750 1161 570 Q1363 391 1709 391 Q2188 391 2477 730 Q2766 1069 2766 1631 L2766 1759 L2194 1759 zM3341 1997 L3341 0 L2766 0 L2766 531 Q2569 213 2275 61 Q1981 -91 1556 -91 Q1019 -91 701 211 Q384 513 384 1019 Q384 1609 779 1909 Q1175 2209 1959 2209 L2766 2209 L2766 2266 Q2766 2663 2505 2880 Q2244 3097 1772 3097 Q1472 3097 1187 3025 Q903 2953 641 2809 L641 3341 Q956 3463 1253 3523 Q1550 3584 1831 3584 Q2591 3584 2966 3190 Q3341 2797 3341 1997 z
" transform="scale(0.015)"/>
</defs>
<use href="#DejaVuSans-4c"/>
<use href="#DejaVuSans-61" transform="translate(55.712 0)"/>
<use href="#DejaVuSans-74" transform="translate(116.992 0)"/>
<use href="#DejaVuSans-69" transform="translate(156.201 0)"/>
<use href="#DejaVuSans-74" transform="translate(183.984 0)"/>
<use href="#DejaVuSans-75" transform="translate(223.193 0)"/>
<use href="#DejaVuSans-64" transform="translate(286.572 0)"/>
<use href="#DejaVuSans-65" transform="translate(350.048 0)"/>
</g>
</g>
</g>
<g id="PolyCollection_2">
<path d="M 240.979 171.716 L253.719 168.682 L267.595 168.899 L264.316 186.453 L252.963 205.958 L265.955 207.258 L278.318 235.215 L286.895 238.682 L294.590 263.172 L298.248 271.841 L313.512 275.958 L311.998 289.828 L305.565 296.113 L310.610 307.383 L299.257 318.652 L282.354 318.652 L260.910 324.504 L254.981 320.169 L246.655 330.355 L235.050 327.971 L226.094 336.206 L219.408 331.872 L237.951 309.116 L249.304 304.349 L229.500 300.881 L225.842 292.212 L239.087 285.494 L232.149 273.791 L234.546 259.488 L253.341 261.655 L255.107 249.085 L246.529 235.215 L231.266 231.531 L228.238 225.679 L232.780 215.927 L228.617 210.075 L221.805 220.261 L221.174 199.239 L214.741 188.187 L219.282 165.864 L229.121 148.310 L239.213 150.044 L254.413 148.202 L240.979 171.716 z
" clip-path="url(#p2195e9ecc8)" style="fill: #d3d3d3; stroke: #ffffff; stroke-width: 0.5"/>
<path d="M 214.110 251.469 L204.649 247.134 L196.828 247.351 L199.351 235.648 L196.828 224.162 L207.425 223.295 L220.922 236.732 L214.110 251.469 z
" clip-path="url(#p2195e9ecc8)" style="fill: #d3d3d3; stroke: #ffffff; stroke-width: 0.5"/>
<path d="M 216.255 267.073 L206.668 286.361 L184.340 299.147 L166.428 295.896 L176.645 273.358 L170.086 251.252 L187.242 234.348 L196.828 224.162 L199.351 235.648 L196.828 247.351 L204.649 247.134 L214.110 251.469 L216.255 267.073 z
" clip-path="url(#p2195e9ecc8)" style="fill: #d3d3d3; stroke: #ffffff; stroke-width: 0.5"/>
<path d="M 325.874 318.002 L331.676 318.435 L337.605 327.104 L346.435 337.290 L352.869 335.556 L363.843 345.525 L366.744 347.476 L370.403 347.042 L376.331 352.677 L394.496 356.578 L388.063 371.532 L386.549 386.919 L383.017 390.603 L377.341 388.653 L377.719 394.071 L368.510 406.207 L368.258 416.176 L374.313 412.709 L378.602 422.244 L378.097 428.312 L381.882 436.548 L380.704 438.282 L276.393 438.282 L277.308 421.811 L264.189 399.055 L254.981 388.002 L235.681 379.767 L234.419 363.947 L250.692 359.179 L271.884 364.813 L267.974 340.107 L279.831 349.426 L309.223 332.522 L313.007 314.751 L323.982 310.417 L325.874 318.002 z
" clip-path="url(#p2195e9ecc8)" style="fill: #d3d3d3; stroke: #ffffff; stroke-width: 0.5"/>
<path d="M 343.408 307.816 L355.013 303.265 L363.086 312.801 L370.024 318.002 L368.510 332.522 L365.231 333.389 L363.843 345.525 L352.869 335.556 L346.435 337.290 L337.605 327.104 L331.676 318.435 L325.874 318.002 L323.982 310.417 L334.073 306.082 L343.408 307.816 z
" clip-path="url(#p2195e9ecc8)" style="fill: #d3d3d3; stroke: #ffffff; stroke-width: 0.5"/>
<path d="M 379.485 259.921 L381.756 267.289 L378.602 287.011 L375.448 295.246 L367.880 295.246 L370.024 318.002 L363.086 312.801 L355.013 303.265 L343.408 307.816 L334.073 306.082 L340.633 300.231 L351.733 268.373 L368.889 259.271 L379.485 259.921 z
" clip-path="url(#p2195e9ecc8)" style="fill: #d3d3d3; stroke: #ffffff; stroke-width: 0.5"/>
<path d="M 371.033 337.507 L370.403 347.042 L366.744 347.476 L363.843 345.525 L365.231 333.389 L368.510 332.522 L371.033 337.507 z
" clip-path="url(#p2195e9ecc8)" style="fill: #d3d3d3; stroke: #ffffff; stroke-width: 0.5"/>
<path d="M 436.502 389.086 L425.275 388.002 L423.509 393.854 L417.202 387.786 L413.292 388.869 L399.794 382.368 L397.271 387.136 L386.549 386.919 L388.063 371.532 L394.496 356.578 L376.331 352.677 L370.403 347.042 L371.033 337.507 L368.510 332.522 L370.024 318.002 L367.880 295.246 L375.448 295.246 L378.602 287.011 L381.756 267.289 L379.485 259.921 L381.882 255.370 L392.478 254.07 L394.748 258.837 L403.326 248.218 L400.425 239.983 L399.920 227.846 L409.381 230.664 L417.454 227.413 L417.707 235.648 L430.447 240.850 L430.321 248.435 L439.908 245.367 L439.908 387.603 L436.502 389.086 z
" clip-path="url(#p2195e9ecc8)" style="fill: #d3d3d3; stroke: #ffffff; stroke-width: 0.5"/>
<path d="M 409.381 230.664 L399.920 227.846 L394.748 215.710 L394.370 193.605 L396.514 187.753 L400.046 181.252 L411.147 179.951 L415.688 173.883 L425.780 167.815 L425.401 178.868 L421.617 186.019 L423.131 192.088 L429.943 195.338 L426.915 203.574 L423.131 201.190 L414.048 216.794 L417.454 227.413 L409.381 230.664 z
" clip-path="url(#p2195e9ecc8)" style="fill: #d3d3d3; stroke: #ffffff; stroke-width: 0.5"/>
<path d="M 431.582 219.178 L429.816 210.075 L439.908 206.183 L439.908 226.806 L431.582 219.178 z
" clip-path="url(#p2195e9ecc8)" style="fill: #d3d3d3; stroke: #ffffff; stroke-width: 0.5"/>
<path d="M 437.007 130.973 L431.456 143.326 L423.005 130.106 L398.028 155.245 L381.251 160.230 L363.843 149.177 L359.302 125.988 L355.265 75.926 L366.871 62.056 L400.173 43.851 L402.094 42.117 L439.908 42.117 L439.908 126.829 L437.007 130.973 z
" clip-path="url(#p2195e9ecc8)" style="fill: #d3d3d3; stroke: #ffffff; stroke-width: 0.5"/>
<path d="M 437.007 130.973 L439.908 126.829 L439.908 170.456 L431.456 143.326 L437.007 130.973 z
" clip-path="url(#p2195e9ecc8)" style="fill: #d3d3d3; stroke: #ffffff; stroke-width: 0.5"/>
<path d="M 413.796 392.770 L411.904 398.188 L417.580 402.089 L424.014 402.739 L423.005 411.625 L417.454 415.309 L408.120 412.492 L405.471 421.161 L399.416 421.811 L397.271 418.560 L390.207 425.928 L384.026 426.795 L378.602 422.244 L374.313 412.709 L368.258 416.176 L368.510 406.207 L377.719 394.071 L377.341 388.653 L383.017 390.603 L386.549 386.919 L397.271 387.136 L399.794 382.368 L413.292 388.869 L413.796 392.770 z
" clip-path="url(#p2195e9ecc8)" style="fill: #d3d3d3; stroke: #ffffff; stroke-width: 0.5"/>
<path d="M 433.096 401.656 L431.709 405.774 L424.014 402.739 L417.580 402.089 L411.904 398.188 L413.796 392.770 L413.292 388.869 L417.202 387.786 L423.509 393.854 L425.275 388.002 L436.502 389.086 L439.908 387.603 L439.908 399.528 L433.096 401.656 z
" clip-path="url(#p2195e9ecc8)" style="fill: #d3d3d3; stroke: #ffffff; stroke-width: 0.5"/>
<path d="M 381.882 436.548 L378.097 428.312 L378.602 422.244 L384.026 426.795 L390.207 425.928 L397.271 418.560 L399.416 421.811 L405.471 421.161 L408.120 412.492 L417.454 415.309 L423.005 411.625 L424.014 402.739 L431.709 405.774 L433.096 401.656 L439.908 399.528 L439.908 438.282 L380.704 438.282 L381.882 436.548 z
" clip-path="url(#p2195e9ecc8)" style="fill: #d3d3d3; stroke: #ffffff; stroke-width: 0.5"/>
</g>
<g id="patch_3">
<path d="M 50.904 458.856 L50.904 22.032 
" style="fill: none; stroke: #000000; stroke-width: 0.8; stroke-linejoin: miter; stroke-linecap: square"/>
</g>
<g id="patch_4">
<path d="M 458.784 458.856 L458.784 22.032 
" style="fill: none; stroke: #000000; stroke-width: 0.8; stroke-linejoin: miter; stroke-linecap: square"/>
</g>
<g id="patch_5">
<path d="M 50.904 458.856 L458.784 458.856 
" style="fill: none; stroke: #000000; stroke-width: 0.8; stroke-linejoin: miter; stroke-linecap: square"/>
</g>
<g id="patch_6">
<path d="M 50.904 22.032 L458.784 22.032 
" style="fill: none; stroke: #000000; stroke-width: 0.8; stroke-linejoin: miter; stroke-linecap: square"/>
</g>
<g id="LineCollection_1">
<path d="M 94.838 415.926 L118.931 411.630 
" clip-path="url(#p2195e9ecc8)" style="fill: none; stroke: #000080; stroke-opacity: 0.68; stroke-width: 0.432"/>
<path d="M 92.546 399.452 L105.799 405.425 
" clip-path="url(#p2195e9ecc8)" style="fill: none; stroke: #000080; stroke-opacity: 0.68; stroke-width: 0.432"/>
<path d="M 92.546 399.452 L116.967 395.041 
" clip-path="url(#p2195e9ecc8)" style="fill: none; stroke: #000080; stroke-opacity: 0.68; stroke-width: 0.432"/>
<path d="M 92.546 399.452 L114.921 378.464 
" clip-path="url(#p2195e9ecc8)" style="fill: none; stroke: #000080; stroke-opacity: 0.68; stroke-width: 0.432"/>
<path d="M 107.886 421.965 L105.799 405.425 
" clip-path="url(#p2195e9ecc8)" style="fill: none; stroke: #000080; stroke-opacity: 0.68; stroke-width: 0.432"/>
<path d="M 107.886 421.965 L153.302 381.389 
" clip-path="url(#p2195e9ecc8)" style="fill: none; stroke: #000080; stroke-opacity: 0.68; stroke-width: 0.432"/>
<path d="M 105.799 405.425 L103.626 388.898 
" clip-path="url(#p2195e9ecc8)" style="fill: none; stroke: #000080; stroke-opacity: 0.68; stroke-width: 0.432"/>
<path d="M 105.799 405.425 L116.967 395.041 
" clip-path="url(#p2195e9ecc8)" style="fill: none; stroke: #000080; stroke-opacity: 0.68; stroke-width: 0.432"/>
<path d="M 105.799 405.425 L130.180 401.418 
" clip-path="url(#p2195e9ecc8)" style="fill: none; stroke: #000080; stroke-opacity: 0.68; stroke-width: 0.432"/>
<path d="M 103.626 388.898 L116.967 395.041 
" clip-path="url(#p2195e9ecc8)" style="fill: none; stroke: #000080; stroke-opacity: 0.68; stroke-width: 0.432"/>
<path d="M 103.626 388.898 L114.921 378.464 
" clip-path="url(#p2195e9ecc8)" style="fill: none; stroke: #000080; stroke-opacity: 0.68; stroke-width: 0.432"/>
<path d="M 101.361 372.384 L126.437 368.157 
" clip-path="url(#p2195e9ecc8)" style="fill: none; stroke: #000080; stroke-opacity: 0.68; stroke-width: 0.432"/>
<path d="M 99.000 355.883 L110.563 345.343 
" clip-path="url(#p2195e9ecc8)" style="fill: none; stroke: #000080; stroke-opacity: 0.68; stroke-width: 0.432"/>
<path d="M 118.931 411.630 L116.967 395.041 
" clip-path="url(#p2195e9ecc8)" style="fill: none; stroke: #000080; stroke-opacity: 0.68; stroke-width: 0.432"/>
<path d="M 118.931 411.630 L131.939 418.062 
" clip-path="url(#p2195e9ecc8)" style="fill: none; stroke: #000080; stroke-opacity: 0.68; stroke-width: 0.432"/>
<path d="M 118.931 411.630 L130.180 401.418 
" clip-path="url(#p2195e9ecc8)" style="fill: none; stroke: #000080; stroke-opacity: 0.68; stroke-width: 0.432"/>
<path d="M 116.967 395.041 L131.939 418.062 
" clip-path="url(#p2195e9ecc8)" style="fill: none; stroke: #000080; stroke-opacity: 0.68; stroke-width: 0.432"/>
<path d="M 114.921 378.464 L110.563 345.343 
" clip-path="url(#p2195e9ecc8)" style="fill: none; stroke: #000080; stroke-opacity: 0.68; stroke-width: 0.432"/>
<path d="M 114.921 378.464 L126.437 368.157 
" clip-path="url(#p2195e9ecc8)" style="fill: none; stroke: #000080; stroke-opacity: 0.68; stroke-width: 0.432"/>
<path d="M 114.921 378.464 L141.636 391.335 
" clip-path="url(#p2195e9ecc8)" style="fill: none; stroke: #000080; stroke-opacity: 0.68; stroke-width: 0.432"/>
<path d="M 112.788 361.897 L126.437 368.157 
" clip-path="url(#p2195e9ecc8)" style="fill: none; stroke: #000080; stroke-opacity: 0.68; stroke-width: 0.432"/>
<path d="M 110.563 345.343 L162.349 338.089 
" clip-path="url(#p2195e9ecc8)" style="fill: none; stroke: #000080; stroke-opacity: 0.68; stroke-width: 0.432"/>
<path d="M 108.241 328.802 L122.365 334.937 
" clip-path="url(#p2195e9ecc8)" style="fill: none; stroke: #000080; stroke-opacity: 0.68; stroke-width: 0.432"/>
<path d="M 108.241 328.802 L120.194 318.344 
" clip-path="url(#p2195e9ecc8)" style="fill: none; stroke: #000080; stroke-opacity: 0.68; stroke-width: 0.432"/>
<path d="M 105.817 312.274 L103.285 295.759 
" clip-path="url(#p2195e9ecc8)" style="fill: none; stroke: #000080; stroke-opacity: 0.68; stroke-width: 0.432"/>
<path d="M 103.285 295.759 L117.927 301.763 
" clip-path="url(#p2195e9ecc8)" style="fill: none; stroke: #000080; stroke-opacity: 0.68; stroke-width: 0.432"/>
<path d="M 103.285 295.759 L115.558 285.194 
" clip-path="url(#p2195e9ecc8)" style="fill: none; stroke: #000080; stroke-opacity: 0.68; stroke-width: 0.432"/>
<path d="M 100.639 279.260 L115.558 285.194 
" clip-path="url(#p2195e9ecc8)" style="fill: none; stroke: #000080; stroke-opacity: 0.68; stroke-width: 0.432"/>
<path d="M 100.639 279.260 L128.110 274.782 
" clip-path="url(#p2195e9ecc8)" style="fill: none; stroke: #000080; stroke-opacity: 0.68; stroke-width: 0.432"/>
<path d="M 94.975 246.308 L107.771 235.567 
" clip-path="url(#p2195e9ecc8)" style="fill: none; stroke: #000080; stroke-opacity: 0.68; stroke-width: 0.432"/>
<path d="M 94.975 246.308 L140.948 264.533 
" clip-path="url(#p2195e9ecc8)" style="fill: none; stroke: #000080; stroke-opacity: 0.68; stroke-width: 0.432"/>
<path d="M 131.939 418.062 L130.180 401.418 
" clip-path="url(#p2195e9ecc8)" style="fill: none; stroke: #000080; stroke-opacity: 0.68; stroke-width: 0.432"/>
<path d="M 131.939 418.062 L144.819 424.715 
" clip-path="url(#p2195e9ecc8)" style="fill: none; stroke: #000080; stroke-opacity: 0.68; stroke-width: 0.432"/>
<path d="M 130.180 401.418 L128.347 384.782 
" clip-path="url(#p2195e9ecc8)" style="fill: none; stroke: #000080; stroke-opacity: 0.68; stroke-width: 0.432"/>
<path d="M 130.180 401.418 L165.182 371.589 
" clip-path="url(#p2195e9ecc8)" style="fill: none; stroke: #000080; stroke-opacity: 0.68; stroke-width: 0.432"/>
<path d="M 128.347 384.782 L126.437 368.157 
" clip-path="url(#p2195e9ecc8)" style="fill: none; stroke: #000080; stroke-opacity: 0.68; stroke-width: 0.432"/>
<path d="M 128.347 384.782 L141.636 391.335 
" clip-path="url(#p2195e9ecc8)" style="fill: none; stroke: #000080; stroke-opacity: 0.68; stroke-width: 0.432"/>
<path d="M 128.347 384.782 L139.943 374.656 
" clip-path="url(#p2195e9ecc8)" style="fill: none; stroke: #000080; stroke-opacity: 0.68; stroke-width: 0.432"/>
<path d="M 128.347 384.782 L154.783 398.114 
" clip-path="url(#p2195e9ecc8)" style="fill: none; stroke: #000080; stroke-opacity: 0.68; stroke-width: 0.432"/>
<path d="M 128.347 384.782 L153.302 381.389 
" clip-path="url(#p2195e9ecc8)" style="fill: none; stroke: #000080; stroke-opacity: 0.68; stroke-width: 0.432"/>
<path d="M 126.437 368.157 L138.177 357.987 
" clip-path="url(#p2195e9ecc8)" style="fill: none; stroke: #000080; stroke-opacity: 0.68; stroke-width: 0.432"/>
<path d="M 124.444 351.542 L139.943 374.656 
" clip-path="url(#p2195e9ecc8)" style="fill: none; stroke: #000080; stroke-opacity: 0.68; stroke-width: 0.432"/>
<path d="M 124.444 351.542 L136.335 341.326 
" clip-path="url(#p2195e9ecc8)" style="fill: none; stroke: #000080; stroke-opacity: 0.68; stroke-width: 0.432"/>
<path d="M 122.365 334.937 L138.177 357.987 
" clip-path="url(#p2195e9ecc8)" style="fill: none; stroke: #000080; stroke-opacity: 0.68; stroke-width: 0.432"/>
<path d="M 122.365 334.937 L136.335 341.326 
" clip-path="url(#p2195e9ecc8)" style="fill: none; stroke: #000080; stroke-opacity: 0.68; stroke-width: 0.432"/>
<path d="M 122.365 334.937 L134.412 324.675 
" clip-path="url(#p2195e9ecc8)" style="fill: none; stroke: #000080; stroke-opacity: 0.68; stroke-width: 0.432"/>
<path d="M 122.365 334.937 L151.758 364.671 
" clip-path="url(#p2195e9ecc8)" style="fill: none; stroke: #000080; stroke-opacity: 0.68; stroke-width: 0.432"/>
<path d="M 120.194 318.344 L117.927 301.763 
" clip-path="url(#p2195e9ecc8)" style="fill: none; stroke: #000080; stroke-opacity: 0.68; stroke-width: 0.432"/>
<path d="M 120.194 318.344 L130.305 291.402 
" clip-path="url(#p2195e9ecc8)" style="fill: none; stroke: #000080; stroke-opacity: 0.68; stroke-width: 0.432"/>
<path d="M 117.927 301.763 L132.404 308.033 
" clip-path="url(#p2195e9ecc8)" style="fill: none; stroke: #000080; stroke-opacity: 0.68; stroke-width: 0.432"/>
<path d="M 117.927 301.763 L128.110 274.782 
" clip-path="url(#p2195e9ecc8)" style="fill: none; stroke: #000080; stroke-opacity: 0.68; stroke-width: 0.432"/>
<path d="M 115.558 285.194 L134.412 324.675 
" clip-path="url(#p2195e9ecc8)" style="fill: none; stroke: #000080; stroke-opacity: 0.68; stroke-width: 0.432"/>
<path d="M 113.080 268.638 L142.956 281.201 
" clip-path="url(#p2195e9ecc8)" style="fill: none; stroke: #000080; stroke-opacity: 0.68; stroke-width: 0.432"/>
<path d="M 107.771 235.567 L104.926 219.054 
" clip-path="url(#p2195e9ecc8)" style="fill: none; stroke: #000080; stroke-opacity: 0.68; stroke-width: 0.432"/>
<path d="M 107.771 235.567 L120.889 224.990 
" clip-path="url(#p2195e9ecc8)" style="fill: none; stroke: #000080; stroke-opacity: 0.68; stroke-width: 0.432"/>
<path d="M 107.771 235.567 L115.473 191.861 
" clip-path="url(#p2195e9ecc8)" style="fill: none; stroke: #000080; stroke-opacity: 0.68; stroke-width: 0.432"/>
<path d="M 104.926 219.054 L101.941 202.557 
" clip-path="url(#p2195e9ecc8)" style="fill: none; stroke: #000080; stroke-opacity: 0.68; stroke-width: 0.432"/>
<path d="M 104.926 219.054 L134.336 214.589 
" clip-path="url(#p2195e9ecc8)" style="fill: none; stroke: #000080; stroke-opacity: 0.68; stroke-width: 0.432"/>
<path d="M 101.941 202.557 L98.809 186.077 
" clip-path="url(#p2195e9ecc8)" style="fill: none; stroke: #000080; stroke-opacity: 0.68; stroke-width: 0.432"/>
<path d="M 101.941 202.557 L118.246 208.418 
" clip-path="url(#p2195e9ecc8)" style="fill: none; stroke: #000080; stroke-opacity: 0.68; stroke-width: 0.432"/>
<path d="M 101.941 202.557 L115.473 191.861 
" clip-path="url(#p2195e9ecc8)" style="fill: none; stroke: #000080; stroke-opacity: 0.68; stroke-width: 0.432"/>
<path d="M 98.809 186.077 L120.889 224.990 
" clip-path="url(#p2195e9ecc8)" style="fill: none; stroke: #000080; stroke-opacity: 0.68; stroke-width: 0.432"/>
<path d="M 98.809 186.077 L115.473 191.861 
" clip-path="url(#p2195e9ecc8)" style="fill: none; stroke: #000080; stroke-opacity: 0.68; stroke-width: 0.432"/>
<path d="M 95.519 169.615 L115.473 191.861 
" clip-path="url(#p2195e9ecc8)" style="fill: none; stroke: #000080; stroke-opacity: 0.68; stroke-width: 0.432"/>
<path d="M 95.519 169.615 L112.560 175.317 
" clip-path="url(#p2195e9ecc8)" style="fill: none; stroke: #000080; stroke-opacity: 0.68; stroke-width: 0.432"/>
<path d="M 95.519 169.615 L109.498 158.790 
" clip-path="url(#p2195e9ecc8)" style="fill: none; stroke: #000080; stroke-opacity: 0.68; stroke-width: 0.432"/>
<path d="M 144.819 424.715 L143.260 408.021 
" clip-path="url(#p2195e9ecc8)" style="fill: none; stroke: #000080; stroke-opacity: 0.68; stroke-width: 0.432"/>
<path d="M 144.819 424.715 L156.203 414.846 
" clip-path="url(#p2195e9ecc8)" style="fill: none; stroke: #000080; stroke-opacity: 0.68; stroke-width: 0.432"/>
<path d="M 139.943 374.656 L154.783 398.114 
" clip-path="url(#p2195e9ecc8)" style="fill: none; stroke: #000080; stroke-opacity: 0.68; stroke-width: 0.432"/>
<path d="M 138.177 357.987 L136.335 341.326 
" clip-path="url(#p2195e9ecc8)" style="fill: none; stroke: #000080; stroke-opacity: 0.68; stroke-width: 0.432"/>
<path d="M 138.177 357.987 L151.758 364.671 
" clip-path="url(#p2195e9ecc8)" style="fill: none; stroke: #000080; stroke-opacity: 0.68; stroke-width: 0.432"/>
<path d="M 138.177 357.987 L150.147 347.961 
" clip-path="url(#p2195e9ecc8)" style="fill: none; stroke: #000080; stroke-opacity: 0.68; stroke-width: 0.432"/>
<path d="M 138.177 357.987 L148.465 331.259 
" clip-path="url(#p2195e9ecc8)" style="fill: none; stroke: #000080; stroke-opacity: 0.68; stroke-width: 0.432"/>
<path d="M 138.177 357.987 L162.349 338.089 
" clip-path="url(#p2195e9ecc8)" style="fill: none; stroke: #000080; stroke-opacity: 0.68; stroke-width: 0.432"/>
<path d="M 134.412 324.675 L148.465 331.259 
" clip-path="url(#p2195e9ecc8)" style="fill: none; stroke: #000080; stroke-opacity: 0.68; stroke-width: 0.432"/>
<path d="M 134.412 324.675 L146.709 314.564 
" clip-path="url(#p2195e9ecc8)" style="fill: none; stroke: #000080; stroke-opacity: 0.68; stroke-width: 0.432"/>
<path d="M 132.404 308.033 L128.110 274.782 
" clip-path="url(#p2195e9ecc8)" style="fill: none; stroke: #000080; stroke-opacity: 0.68; stroke-width: 0.432"/>
<path d="M 130.305 291.402 L128.110 274.782 
" clip-path="url(#p2195e9ecc8)" style="fill: none; stroke: #000080; stroke-opacity: 0.68; stroke-width: 0.432"/>
<path d="M 130.305 291.402 L144.874 297.878 
" clip-path="url(#p2195e9ecc8)" style="fill: none; stroke: #000080; stroke-opacity: 0.68; stroke-width: 0.432"/>
<path d="M 128.110 274.782 L142.956 281.201 
" clip-path="url(#p2195e9ecc8)" style="fill: none; stroke: #000080; stroke-opacity: 0.68; stroke-width: 0.432"/>
<path d="M 128.110 274.782 L140.948 264.533 
" clip-path="url(#p2195e9ecc8)" style="fill: none; stroke: #000080; stroke-opacity: 0.68; stroke-width: 0.432"/>
<path d="M 125.813 258.172 L140.948 264.533 
" clip-path="url(#p2195e9ecc8)" style="fill: none; stroke: #000080; stroke-opacity: 0.68; stroke-width: 0.432"/>
<path d="M 125.813 258.172 L138.847 247.875 
" clip-path="url(#p2195e9ecc8)" style="fill: none; stroke: #000080; stroke-opacity: 0.68; stroke-width: 0.432"/>
<path d="M 125.813 258.172 L136.645 231.227 
" clip-path="url(#p2195e9ecc8)" style="fill: none; stroke: #000080; stroke-opacity: 0.68; stroke-width: 0.432"/>
<path d="M 123.409 241.575 L118.246 208.418 
" clip-path="url(#p2195e9ecc8)" style="fill: none; stroke: #000080; stroke-opacity: 0.68; stroke-width: 0.432"/>
<path d="M 123.409 241.575 L138.847 247.875 
" clip-path="url(#p2195e9ecc8)" style="fill: none; stroke: #000080; stroke-opacity: 0.68; stroke-width: 0.432"/>
<path d="M 123.409 241.575 L136.645 231.227 
" clip-path="url(#p2195e9ecc8)" style="fill: none; stroke: #000080; stroke-opacity: 0.68; stroke-width: 0.432"/>
<path d="M 120.889 224.990 L118.246 208.418 
" clip-path="url(#p2195e9ecc8)" style="fill: none; stroke: #000080; stroke-opacity: 0.68; stroke-width: 0.432"/>
<path d="M 120.889 224.990 L142.956 281.201 
" clip-path="url(#p2195e9ecc8)" style="fill: none; stroke: #000080; stroke-opacity: 0.68; stroke-width: 0.432"/>
<path d="M 120.889 224.990 L136.645 231.227 
" clip-path="url(#p2195e9ecc8)" style="fill: none; stroke: #000080; stroke-opacity: 0.68; stroke-width: 0.432"/>
<path d="M 120.889 224.990 L131.913 197.963 
" clip-path="url(#p2195e9ecc8)" style="fill: none; stroke: #000080; stroke-opacity: 0.68; stroke-width: 0.432"/>
<path d="M 118.246 208.418 L115.473 191.861 
" clip-path="url(#p2195e9ecc8)" style="fill: none; stroke: #000080; stroke-opacity: 0.68; stroke-width: 0.432"/>
<path d="M 118.246 208.418 L134.336 214.589 
" clip-path="url(#p2195e9ecc8)" style="fill: none; stroke: #000080; stroke-opacity: 0.68; stroke-width: 0.432"/>
<path d="M 115.473 191.861 L131.913 197.963 
" clip-path="url(#p2195e9ecc8)" style="fill: none; stroke: #000080; stroke-opacity: 0.68; stroke-width: 0.432"/>
<path d="M 112.560 175.317 L109.498 158.790 
" clip-path="url(#p2195e9ecc8)" style="fill: none; stroke: #000080; stroke-opacity: 0.68; stroke-width: 0.432"/>
<path d="M 112.560 175.317 L129.369 181.349 
" clip-path="url(#p2195e9ecc8)" style="fill: none; stroke: #000080; stroke-opacity: 0.68; stroke-width: 0.432"/>
<path d="M 112.560 175.317 L126.694 164.747 
" clip-path="url(#p2195e9ecc8)" style="fill: none; stroke: #000080; stroke-opacity: 0.68; stroke-width: 0.432"/>
<path d="M 112.560 175.317 L138.675 137.732 
" clip-path="url(#p2195e9ecc8)" style="fill: none; stroke: #000080; stroke-opacity: 0.68; stroke-width: 0.432"/>
<path d="M 109.498 158.790 L160.318 177.639 
" clip-path="url(#p2195e9ecc8)" style="fill: none; stroke: #000080; stroke-opacity: 0.68; stroke-width: 0.432"/>
<path d="M 106.275 142.279 L102.880 125.786 
" clip-path="url(#p2195e9ecc8)" style="fill: none; stroke: #000080; stroke-opacity: 0.68; stroke-width: 0.432"/>
<path d="M 106.275 142.279 L123.880 148.158 
" clip-path="url(#p2195e9ecc8)" style="fill: none; stroke: #000080; stroke-opacity: 0.68; stroke-width: 0.432"/>
<path d="M 106.275 142.279 L141.220 154.377 
" clip-path="url(#p2195e9ecc8)" style="fill: none; stroke: #000080; stroke-opacity: 0.68; stroke-width: 0.432"/>
<path d="M 102.880 125.786 L120.915 131.584 
" clip-path="url(#p2195e9ecc8)" style="fill: none; stroke: #000080; stroke-opacity: 0.68; stroke-width: 0.432"/>
<path d="M 102.880 125.786 L114.491 98.481 
" clip-path="url(#p2195e9ecc8)" style="fill: none; stroke: #000080; stroke-opacity: 0.68; stroke-width: 0.432"/>
<path d="M 99.300 109.311 L138.675 137.732 
" clip-path="url(#p2195e9ecc8)" style="fill: none; stroke: #000080; stroke-opacity: 0.68; stroke-width: 0.432"/>
<path d="M 95.521 92.857 L114.491 98.481 
" clip-path="url(#p2195e9ecc8)" style="fill: none; stroke: #000080; stroke-opacity: 0.68; stroke-width: 0.432"/>
<path d="M 95.521 92.857 L111.004 81.954 
" clip-path="url(#p2195e9ecc8)" style="fill: none; stroke: #000080; stroke-opacity: 0.68; stroke-width: 0.432"/>
<path d="M 91.526 76.424 L107.315 65.446 
" clip-path="url(#p2195e9ecc8)" style="fill: none; stroke: #000080; stroke-opacity: 0.68; stroke-width: 0.432"/>
<path d="M 87.299 60.015 L111.004 81.954 
" clip-path="url(#p2195e9ecc8)" style="fill: none; stroke: #000080; stroke-opacity: 0.68; stroke-width: 0.432"/>
<path d="M 156.203 414.846 L167.784 405.114 
" clip-path="url(#p2195e9ecc8)" style="fill: none; stroke: #000080; stroke-opacity: 0.68; stroke-width: 0.432"/>
<path d="M 156.203 414.846 L166.510 388.349 
" clip-path="url(#p2195e9ecc8)" style="fill: none; stroke: #000080; stroke-opacity: 0.68; stroke-width: 0.432"/>
<path d="M 154.783 398.114 L169.007 421.885 
" clip-path="url(#p2195e9ecc8)" style="fill: none; stroke: #000080; stroke-opacity: 0.68; stroke-width: 0.432"/>
<path d="M 154.783 398.114 L167.784 405.114 
" clip-path="url(#p2195e9ecc8)" style="fill: none; stroke: #000080; stroke-opacity: 0.68; stroke-width: 0.432"/>
<path d="M 153.302 381.389 L167.784 405.114 
" clip-path="url(#p2195e9ecc8)" style="fill: none; stroke: #000080; stroke-opacity: 0.68; stroke-width: 0.432"/>
<path d="M 153.302 381.389 L205.203 410.524 
" clip-path="url(#p2195e9ecc8)" style="fill: none; stroke: #000080; stroke-opacity: 0.68; stroke-width: 0.432"/>
<path d="M 151.758 364.671 L150.147 347.961 
" clip-path="url(#p2195e9ecc8)" style="fill: none; stroke: #000080; stroke-opacity: 0.68; stroke-width: 0.432"/>
<path d="M 151.758 364.671 L203.734 376.828 
" clip-path="url(#p2195e9ecc8)" style="fill: none; stroke: #000080; stroke-opacity: 0.68; stroke-width: 0.432"/>
<path d="M 150.147 347.961 L148.465 331.259 
" clip-path="url(#p2195e9ecc8)" style="fill: none; stroke: #000080; stroke-opacity: 0.68; stroke-width: 0.432"/>
<path d="M 150.147 347.961 L163.796 354.836 
" clip-path="url(#p2195e9ecc8)" style="fill: none; stroke: #000080; stroke-opacity: 0.68; stroke-width: 0.432"/>
<path d="M 150.147 347.961 L160.839 321.348 
" clip-path="url(#p2195e9ecc8)" style="fill: none; stroke: #000080; stroke-opacity: 0.68; stroke-width: 0.432"/>
<path d="M 150.147 347.961 L177.279 361.943 
" clip-path="url(#p2195e9ecc8)" style="fill: none; stroke: #000080; stroke-opacity: 0.68; stroke-width: 0.432"/>
<path d="M 150.147 347.961 L173.461 311.604 
" clip-path="url(#p2195e9ecc8)" style="fill: none; stroke: #000080; stroke-opacity: 0.68; stroke-width: 0.432"/>
<path d="M 148.465 331.259 L146.709 314.564 
" clip-path="url(#p2195e9ecc8)" style="fill: none; stroke: #000080; stroke-opacity: 0.68; stroke-width: 0.432"/>
<path d="M 148.465 331.259 L162.349 338.089 
" clip-path="url(#p2195e9ecc8)" style="fill: none; stroke: #000080; stroke-opacity: 0.68; stroke-width: 0.432"/>
<path d="M 148.465 331.259 L177.279 361.943 
" clip-path="url(#p2195e9ecc8)" style="fill: none; stroke: #000080; stroke-opacity: 0.68; stroke-width: 0.432"/>
<path d="M 148.465 331.259 L173.461 311.604 
" clip-path="url(#p2195e9ecc8)" style="fill: none; stroke: #000080; stroke-opacity: 0.68; stroke-width: 0.432"/>
<path d="M 148.465 331.259 L201.283 326.311 
" clip-path="url(#p2195e9ecc8)" style="fill: none; stroke: #000080; stroke-opacity: 0.68; stroke-width: 0.432"/>
<path d="M 146.709 314.564 L160.839 321.348 
" clip-path="url(#p2195e9ecc8)" style="fill: none; stroke: #000080; stroke-opacity: 0.68; stroke-width: 0.432"/>
<path d="M 140.948 264.533 L138.847 247.875 
" clip-path="url(#p2195e9ecc8)" style="fill: none; stroke: #000080; stroke-opacity: 0.68; stroke-width: 0.432"/>
<path d="M 140.948 264.533 L136.645 231.227 
" clip-path="url(#p2195e9ecc8)" style="fill: none; stroke: #000080; stroke-opacity: 0.68; stroke-width: 0.432"/>
<path d="M 140.948 264.533 L157.611 287.888 
" clip-path="url(#p2195e9ecc8)" style="fill: none; stroke: #000080; stroke-opacity: 0.68; stroke-width: 0.432"/>
<path d="M 140.948 264.533 L155.885 271.169 
" clip-path="url(#p2195e9ecc8)" style="fill: none; stroke: #000080; stroke-opacity: 0.68; stroke-width: 0.432"/>
<path d="M 140.948 264.533 L154.079 254.458 
" clip-path="url(#p2195e9ecc8)" style="fill: none; stroke: #000080; stroke-opacity: 0.68; stroke-width: 0.432"/>
<path d="M 140.948 264.533 L152.186 237.755 
" clip-path="url(#p2195e9ecc8)" style="fill: none; stroke: #000080; stroke-opacity: 0.68; stroke-width: 0.432"/>
<path d="M 138.847 247.875 L134.336 214.589 
" clip-path="url(#p2195e9ecc8)" style="fill: none; stroke: #000080; stroke-opacity: 0.68; stroke-width: 0.432"/>
<path d="M 138.847 247.875 L152.186 237.755 
" clip-path="url(#p2195e9ecc8)" style="fill: none; stroke: #000080; stroke-opacity: 0.68; stroke-width: 0.432"/>
<path d="M 138.847 247.875 L167.507 244.568 
" clip-path="url(#p2195e9ecc8)" style="fill: none; stroke: #000080; stroke-opacity: 0.68; stroke-width: 0.432"/>
<path d="M 136.645 231.227 L152.186 237.755 
" clip-path="url(#p2195e9ecc8)" style="fill: none; stroke: #000080; stroke-opacity: 0.68; stroke-width: 0.432"/>
<path d="M 134.336 214.589 L123.880 148.158 
" clip-path="url(#p2195e9ecc8)" style="fill: none; stroke: #000080; stroke-opacity: 0.68; stroke-width: 0.432"/>
<path d="M 134.336 214.589 L150.202 221.061 
" clip-path="url(#p2195e9ecc8)" style="fill: none; stroke: #000080; stroke-opacity: 0.68; stroke-width: 0.432"/>
<path d="M 129.369 181.349 L145.935 187.699 
" clip-path="url(#p2195e9ecc8)" style="fill: none; stroke: #000080; stroke-opacity: 0.68; stroke-width: 0.432"/>
<path d="M 129.369 181.349 L141.220 154.377 
" clip-path="url(#p2195e9ecc8)" style="fill: none; stroke: #000080; stroke-opacity: 0.68; stroke-width: 0.432"/>
<path d="M 126.694 164.747 L123.880 148.158 
" clip-path="url(#p2195e9ecc8)" style="fill: none; stroke: #000080; stroke-opacity: 0.68; stroke-width: 0.432"/>
<path d="M 126.694 164.747 L141.220 154.377 
" clip-path="url(#p2195e9ecc8)" style="fill: none; stroke: #000080; stroke-opacity: 0.68; stroke-width: 0.432"/>
<path d="M 126.694 164.747 L138.675 137.732 
" clip-path="url(#p2195e9ecc8)" style="fill: none; stroke: #000080; stroke-opacity: 0.68; stroke-width: 0.432"/>
<path d="M 126.694 164.747 L188.763 141.391 
" clip-path="url(#p2195e9ecc8)" style="fill: none; stroke: #000080; stroke-opacity: 0.68; stroke-width: 0.432"/>
<path d="M 123.880 148.158 L141.220 154.377 
" clip-path="url(#p2195e9ecc8)" style="fill: none; stroke: #000080; stroke-opacity: 0.68; stroke-width: 0.432"/>
<path d="M 123.880 148.158 L158.287 160.926 
" clip-path="url(#p2195e9ecc8)" style="fill: none; stroke: #000080; stroke-opacity: 0.68; stroke-width: 0.432"/>
<path d="M 120.915 131.584 L117.790 115.024 
" clip-path="url(#p2195e9ecc8)" style="fill: none; stroke: #000080; stroke-opacity: 0.68; stroke-width: 0.432"/>
<path d="M 120.915 131.584 L138.675 137.732 
" clip-path="url(#p2195e9ecc8)" style="fill: none; stroke: #000080; stroke-opacity: 0.68; stroke-width: 0.432"/>
<path d="M 120.915 131.584 L135.992 121.099 
" clip-path="url(#p2195e9ecc8)" style="fill: none; stroke: #000080; stroke-opacity: 0.68; stroke-width: 0.432"/>
<path d="M 117.790 115.024 L114.491 98.481 
" clip-path="url(#p2195e9ecc8)" style="fill: none; stroke: #000080; stroke-opacity: 0.68; stroke-width: 0.432"/>
<path d="M 117.790 115.024 L135.992 121.099 
" clip-path="url(#p2195e9ecc8)" style="fill: none; stroke: #000080; stroke-opacity: 0.68; stroke-width: 0.432"/>
<path d="M 117.790 115.024 L149.005 94.165 
" clip-path="url(#p2195e9ecc8)" style="fill: none; stroke: #000080; stroke-opacity: 0.68; stroke-width: 0.432"/>
<path d="M 111.004 81.954 L127.003 71.278 
" clip-path="url(#p2195e9ecc8)" style="fill: none; stroke: #000080; stroke-opacity: 0.68; stroke-width: 0.432"/>
<path d="M 107.315 65.446 L143.534 60.845 
" clip-path="url(#p2195e9ecc8)" style="fill: none; stroke: #000080; stroke-opacity: 0.68; stroke-width: 0.432"/>
<path d="M 167.784 405.114 L166.510 388.349 
" clip-path="url(#p2195e9ecc8)" style="fill: none; stroke: #000080; stroke-opacity: 0.68; stroke-width: 0.432"/>
<path d="M 167.784 405.114 L180.638 412.329 
" clip-path="url(#p2195e9ecc8)" style="fill: none; stroke: #000080; stroke-opacity: 0.68; stroke-width: 0.432"/>
<path d="M 167.784 405.114 L179.565 395.529 
" clip-path="url(#p2195e9ecc8)" style="fill: none; stroke: #000080; stroke-opacity: 0.68; stroke-width: 0.432"/>
<path d="M 167.784 405.114 L193.342 419.752 
" clip-path="url(#p2195e9ecc8)" style="fill: none; stroke: #000080; stroke-opacity: 0.68; stroke-width: 0.432"/>
<path d="M 166.510 388.349 L179.565 395.529 
" clip-path="url(#p2195e9ecc8)" style="fill: none; stroke: #000080; stroke-opacity: 0.68; stroke-width: 0.432"/>
<path d="M 165.182 371.589 L162.349 338.089 
" clip-path="url(#p2195e9ecc8)" style="fill: none; stroke: #000080; stroke-opacity: 0.68; stroke-width: 0.432"/>
<path d="M 165.182 371.589 L178.446 378.733 
" clip-path="url(#p2195e9ecc8)" style="fill: none; stroke: #000080; stroke-opacity: 0.68; stroke-width: 0.432"/>
<path d="M 165.182 371.589 L177.279 361.943 
" clip-path="url(#p2195e9ecc8)" style="fill: none; stroke: #000080; stroke-opacity: 0.68; stroke-width: 0.432"/>
<path d="M 163.796 354.836 L162.349 338.089 
" clip-path="url(#p2195e9ecc8)" style="fill: none; stroke: #000080; stroke-opacity: 0.68; stroke-width: 0.432"/>
<path d="M 163.796 354.836 L176.061 345.158 
" clip-path="url(#p2195e9ecc8)" style="fill: none; stroke: #000080; stroke-opacity: 0.68; stroke-width: 0.432"/>
<path d="M 163.796 354.836 L188.556 335.647 
" clip-path="url(#p2195e9ecc8)" style="fill: none; stroke: #000080; stroke-opacity: 0.68; stroke-width: 0.432"/>
<path d="M 162.349 338.089 L177.279 361.943 
" clip-path="url(#p2195e9ecc8)" style="fill: none; stroke: #000080; stroke-opacity: 0.68; stroke-width: 0.432"/>
<path d="M 160.839 321.348 L159.261 304.615 
" clip-path="url(#p2195e9ecc8)" style="fill: none; stroke: #000080; stroke-opacity: 0.68; stroke-width: 0.432"/>
<path d="M 160.839 321.348 L157.611 287.888 
" clip-path="url(#p2195e9ecc8)" style="fill: none; stroke: #000080; stroke-opacity: 0.68; stroke-width: 0.432"/>
<path d="M 159.261 304.615 L154.079 254.458 
" clip-path="url(#p2195e9ecc8)" style="fill: none; stroke: #000080; stroke-opacity: 0.68; stroke-width: 0.432"/>
<path d="M 159.261 304.615 L173.461 311.604 
" clip-path="url(#p2195e9ecc8)" style="fill: none; stroke: #000080; stroke-opacity: 0.68; stroke-width: 0.432"/>
<path d="M 157.611 287.888 L155.885 271.169 
" clip-path="url(#p2195e9ecc8)" style="fill: none; stroke: #000080; stroke-opacity: 0.68; stroke-width: 0.432"/>
<path d="M 155.885 271.169 L154.079 254.458 
" clip-path="url(#p2195e9ecc8)" style="fill: none; stroke: #000080; stroke-opacity: 0.68; stroke-width: 0.432"/>
<path d="M 152.186 237.755 L150.202 221.061 
" clip-path="url(#p2195e9ecc8)" style="fill: none; stroke: #000080; stroke-opacity: 0.68; stroke-width: 0.432"/>
<path d="M 150.202 221.061 L148.121 204.375 
" clip-path="url(#p2195e9ecc8)" style="fill: none; stroke: #000080; stroke-opacity: 0.68; stroke-width: 0.432"/>
<path d="M 150.202 221.061 L167.507 244.568 
" clip-path="url(#p2195e9ecc8)" style="fill: none; stroke: #000080; stroke-opacity: 0.68; stroke-width: 0.432"/>
<path d="M 148.121 204.375 L145.935 187.699 
" clip-path="url(#p2195e9ecc8)" style="fill: none; stroke: #000080; stroke-opacity: 0.68; stroke-width: 0.432"/>
<path d="M 148.121 204.375 L164.088 211.089 
" clip-path="url(#p2195e9ecc8)" style="fill: none; stroke: #000080; stroke-opacity: 0.68; stroke-width: 0.432"/>
<path d="M 148.121 204.375 L162.250 194.360 
" clip-path="url(#p2195e9ecc8)" style="fill: none; stroke: #000080; stroke-opacity: 0.68; stroke-width: 0.432"/>
<path d="M 145.935 187.699 L143.637 171.033 
" clip-path="url(#p2195e9ecc8)" style="fill: none; stroke: #000080; stroke-opacity: 0.68; stroke-width: 0.432"/>
<path d="M 145.935 187.699 L162.250 194.360 
" clip-path="url(#p2195e9ecc8)" style="fill: none; stroke: #000080; stroke-opacity: 0.68; stroke-width: 0.432"/>
<path d="M 145.935 187.699 L160.318 177.639 
" clip-path="url(#p2195e9ecc8)" style="fill: none; stroke: #000080; stroke-opacity: 0.68; stroke-width: 0.432"/>
<path d="M 145.935 187.699 L178.307 201.321 
" clip-path="url(#p2195e9ecc8)" style="fill: none; stroke: #000080; stroke-opacity: 0.68; stroke-width: 0.432"/>
<path d="M 145.935 187.699 L175.072 167.795 
" clip-path="url(#p2195e9ecc8)" style="fill: none; stroke: #000080; stroke-opacity: 0.68; stroke-width: 0.432"/>
<path d="M 143.637 171.033 L141.220 154.377 
" clip-path="url(#p2195e9ecc8)" style="fill: none; stroke: #000080; stroke-opacity: 0.68; stroke-width: 0.432"/>
<path d="M 143.637 171.033 L138.675 137.732 
" clip-path="url(#p2195e9ecc8)" style="fill: none; stroke: #000080; stroke-opacity: 0.68; stroke-width: 0.432"/>
<path d="M 143.637 171.033 L176.730 184.555 
" clip-path="url(#p2195e9ecc8)" style="fill: none; stroke: #000080; stroke-opacity: 0.68; stroke-width: 0.432"/>
<path d="M 141.220 154.377 L162.250 194.360 
" clip-path="url(#p2195e9ecc8)" style="fill: none; stroke: #000080; stroke-opacity: 0.68; stroke-width: 0.432"/>
<path d="M 141.220 154.377 L158.287 160.926 
" clip-path="url(#p2195e9ecc8)" style="fill: none; stroke: #000080; stroke-opacity: 0.68; stroke-width: 0.432"/>
<path d="M 141.220 154.377 L153.895 127.526 
" clip-path="url(#p2195e9ecc8)" style="fill: none; stroke: #000080; stroke-opacity: 0.68; stroke-width: 0.432"/>
<path d="M 138.675 137.732 L135.992 121.099 
" clip-path="url(#p2195e9ecc8)" style="fill: none; stroke: #000080; stroke-opacity: 0.68; stroke-width: 0.432"/>
<path d="M 138.675 137.732 L156.148 144.222 
" clip-path="url(#p2195e9ecc8)" style="fill: none; stroke: #000080; stroke-opacity: 0.68; stroke-width: 0.432"/>
<path d="M 138.675 137.732 L169.548 117.554 
" clip-path="url(#p2195e9ecc8)" style="fill: none; stroke: #000080; stroke-opacity: 0.68; stroke-width: 0.432"/>
<path d="M 135.992 121.099 L133.160 104.479 
" clip-path="url(#p2195e9ecc8)" style="fill: none; stroke: #000080; stroke-opacity: 0.68; stroke-width: 0.432"/>
<path d="M 135.992 121.099 L127.003 71.278 
" clip-path="url(#p2195e9ecc8)" style="fill: none; stroke: #000080; stroke-opacity: 0.68; stroke-width: 0.432"/>
<path d="M 135.992 121.099 L153.895 127.526 
" clip-path="url(#p2195e9ecc8)" style="fill: none; stroke: #000080; stroke-opacity: 0.68; stroke-width: 0.432"/>
<path d="M 135.992 121.099 L151.517 110.840 
" clip-path="url(#p2195e9ecc8)" style="fill: none; stroke: #000080; stroke-opacity: 0.68; stroke-width: 0.432"/>
<path d="M 135.992 121.099 L171.488 134.294 
" clip-path="url(#p2195e9ecc8)" style="fill: none; stroke: #000080; stroke-opacity: 0.68; stroke-width: 0.432"/>
<path d="M 133.160 104.479 L130.168 87.871 
" clip-path="url(#p2195e9ecc8)" style="fill: none; stroke: #000080; stroke-opacity: 0.68; stroke-width: 0.432"/>
<path d="M 133.160 104.479 L153.895 127.526 
" clip-path="url(#p2195e9ecc8)" style="fill: none; stroke: #000080; stroke-opacity: 0.68; stroke-width: 0.432"/>
<path d="M 133.160 104.479 L169.548 117.554 
" clip-path="url(#p2195e9ecc8)" style="fill: none; stroke: #000080; stroke-opacity: 0.68; stroke-width: 0.432"/>
<path d="M 133.160 104.479 L182.161 74.291 
" clip-path="url(#p2195e9ecc8)" style="fill: none; stroke: #000080; stroke-opacity: 0.68; stroke-width: 0.432"/>
<path d="M 130.168 87.871 L127.003 71.278 
" clip-path="url(#p2195e9ecc8)" style="fill: none; stroke: #000080; stroke-opacity: 0.68; stroke-width: 0.432"/>
<path d="M 130.168 87.871 L149.005 94.165 
" clip-path="url(#p2195e9ecc8)" style="fill: none; stroke: #000080; stroke-opacity: 0.68; stroke-width: 0.432"/>
<path d="M 127.003 71.278 L146.348 77.499 
" clip-path="url(#p2195e9ecc8)" style="fill: none; stroke: #000080; stroke-opacity: 0.68; stroke-width: 0.432"/>
<path d="M 127.003 71.278 L143.534 60.845 
" clip-path="url(#p2195e9ecc8)" style="fill: none; stroke: #000080; stroke-opacity: 0.68; stroke-width: 0.432"/>
<path d="M 127.003 71.278 L163.042 67.380 
" clip-path="url(#p2195e9ecc8)" style="fill: none; stroke: #000080; stroke-opacity: 0.68; stroke-width: 0.432"/>
<path d="M 180.638 412.329 L205.203 410.524 
" clip-path="url(#p2195e9ecc8)" style="fill: none; stroke: #000080; stroke-opacity: 0.68; stroke-width: 0.432"/>
<path d="M 180.638 412.329 L204.484 393.674 
" clip-path="url(#p2195e9ecc8)" style="fill: none; stroke: #000080; stroke-opacity: 0.68; stroke-width: 0.432"/>
<path d="M 179.565 395.529 L203.734 376.828 
" clip-path="url(#p2195e9ecc8)" style="fill: none; stroke: #000080; stroke-opacity: 0.68; stroke-width: 0.432"/>
<path d="M 177.279 361.943 L176.061 345.158 
" clip-path="url(#p2195e9ecc8)" style="fill: none; stroke: #000080; stroke-opacity: 0.68; stroke-width: 0.432"/>
<path d="M 177.279 361.943 L202.136 343.146 
" clip-path="url(#p2195e9ecc8)" style="fill: none; stroke: #000080; stroke-opacity: 0.68; stroke-width: 0.432"/>
<path d="M 174.789 328.378 L214.246 317.159 
" clip-path="url(#p2195e9ecc8)" style="fill: none; stroke: #000080; stroke-opacity: 0.68; stroke-width: 0.432"/>
<path d="M 173.461 311.604 L187.469 318.839 
" clip-path="url(#p2195e9ecc8)" style="fill: none; stroke: #000080; stroke-opacity: 0.68; stroke-width: 0.432"/>
<path d="M 167.507 244.568 L165.838 227.825 
" clip-path="url(#p2195e9ecc8)" style="fill: none; stroke: #000080; stroke-opacity: 0.68; stroke-width: 0.432"/>
<path d="M 165.838 227.825 L178.307 201.321 
" clip-path="url(#p2195e9ecc8)" style="fill: none; stroke: #000080; stroke-opacity: 0.68; stroke-width: 0.432"/>
<path d="M 164.088 211.089 L160.318 177.639 
" clip-path="url(#p2195e9ecc8)" style="fill: none; stroke: #000080; stroke-opacity: 0.68; stroke-width: 0.432"/>
<path d="M 164.088 211.089 L173.326 151.041 
" clip-path="url(#p2195e9ecc8)" style="fill: none; stroke: #000080; stroke-opacity: 0.68; stroke-width: 0.432"/>
<path d="M 164.088 211.089 L208.720 199.275 
" clip-path="url(#p2195e9ecc8)" style="fill: none; stroke: #000080; stroke-opacity: 0.68; stroke-width: 0.432"/>
<path d="M 162.250 194.360 L176.730 184.555 
" clip-path="url(#p2195e9ecc8)" style="fill: none; stroke: #000080; stroke-opacity: 0.68; stroke-width: 0.432"/>
<path d="M 160.318 177.639 L158.287 160.926 
" clip-path="url(#p2195e9ecc8)" style="fill: none; stroke: #000080; stroke-opacity: 0.68; stroke-width: 0.432"/>
<path d="M 160.318 177.639 L175.072 167.795 
" clip-path="url(#p2195e9ecc8)" style="fill: none; stroke: #000080; stroke-opacity: 0.68; stroke-width: 0.432"/>
<path d="M 158.287 160.926 L173.326 151.041 
" clip-path="url(#p2195e9ecc8)" style="fill: none; stroke: #000080; stroke-opacity: 0.68; stroke-width: 0.432"/>
<path d="M 158.287 160.926 L190.201 158.179 
" clip-path="url(#p2195e9ecc8)" style="fill: none; stroke: #000080; stroke-opacity: 0.68; stroke-width: 0.432"/>
<path d="M 156.148 144.222 L171.488 134.294 
" clip-path="url(#p2195e9ecc8)" style="fill: none; stroke: #000080; stroke-opacity: 0.68; stroke-width: 0.432"/>
<path d="M 156.148 144.222 L205.713 148.805 
" clip-path="url(#p2195e9ecc8)" style="fill: none; stroke: #000080; stroke-opacity: 0.68; stroke-width: 0.432"/>
<path d="M 153.895 127.526 L204.602 131.989 
" clip-path="url(#p2195e9ecc8)" style="fill: none; stroke: #000080; stroke-opacity: 0.68; stroke-width: 0.432"/>
<path d="M 153.895 127.526 L220.044 106.016 
" clip-path="url(#p2195e9ecc8)" style="fill: none; stroke: #000080; stroke-opacity: 0.68; stroke-width: 0.432"/>
<path d="M 153.895 127.526 L219.194 89.185 
" clip-path="url(#p2195e9ecc8)" style="fill: none; stroke: #000080; stroke-opacity: 0.68; stroke-width: 0.432"/>
<path d="M 151.517 110.840 L149.005 94.165 
" clip-path="url(#p2195e9ecc8)" style="fill: none; stroke: #000080; stroke-opacity: 0.68; stroke-width: 0.432"/>
<path d="M 151.517 110.840 L146.348 77.499 
" clip-path="url(#p2195e9ecc8)" style="fill: none; stroke: #000080; stroke-opacity: 0.68; stroke-width: 0.432"/>
<path d="M 151.517 110.840 L169.548 117.554 
" clip-path="url(#p2195e9ecc8)" style="fill: none; stroke: #000080; stroke-opacity: 0.68; stroke-width: 0.432"/>
<path d="M 151.517 110.840 L167.500 100.822 
" clip-path="url(#p2195e9ecc8)" style="fill: none; stroke: #000080; stroke-opacity: 0.68; stroke-width: 0.432"/>
<path d="M 151.517 110.840 L187.246 124.608 
" clip-path="url(#p2195e9ecc8)" style="fill: none; stroke: #000080; stroke-opacity: 0.68; stroke-width: 0.432"/>
<path d="M 149.005 94.165 L146.348 77.499 
" clip-path="url(#p2195e9ecc8)" style="fill: none; stroke: #000080; stroke-opacity: 0.68; stroke-width: 0.432"/>
<path d="M 149.005 94.165 L169.548 117.554 
" clip-path="url(#p2195e9ecc8)" style="fill: none; stroke: #000080; stroke-opacity: 0.68; stroke-width: 0.432"/>
<path d="M 149.005 94.165 L167.500 100.822 
" clip-path="url(#p2195e9ecc8)" style="fill: none; stroke: #000080; stroke-opacity: 0.68; stroke-width: 0.432"/>
<path d="M 146.348 77.499 L165.334 84.097 
" clip-path="url(#p2195e9ecc8)" style="fill: none; stroke: #000080; stroke-opacity: 0.68; stroke-width: 0.432"/>
<path d="M 146.348 77.499 L163.042 67.380 
" clip-path="url(#p2195e9ecc8)" style="fill: none; stroke: #000080; stroke-opacity: 0.68; stroke-width: 0.432"/>
<path d="M 193.342 419.752 L192.463 402.923 
" clip-path="url(#p2195e9ecc8)" style="fill: none; stroke: #000080; stroke-opacity: 0.68; stroke-width: 0.432"/>
<path d="M 193.342 419.752 L204.484 393.674 
" clip-path="url(#p2195e9ecc8)" style="fill: none; stroke: #000080; stroke-opacity: 0.68; stroke-width: 0.432"/>
<path d="M 193.342 419.752 L217.254 401.457 
" clip-path="url(#p2195e9ecc8)" style="fill: none; stroke: #000080; stroke-opacity: 0.68; stroke-width: 0.432"/>
<path d="M 192.463 402.923 L189.596 352.459 
" clip-path="url(#p2195e9ecc8)" style="fill: none; stroke: #000080; stroke-opacity: 0.68; stroke-width: 0.432"/>
<path d="M 191.548 386.097 L190.592 369.276 
" clip-path="url(#p2195e9ecc8)" style="fill: none; stroke: #000080; stroke-opacity: 0.68; stroke-width: 0.432"/>
<path d="M 191.548 386.097 L204.484 393.674 
" clip-path="url(#p2195e9ecc8)" style="fill: none; stroke: #000080; stroke-opacity: 0.68; stroke-width: 0.432"/>
<path d="M 191.548 386.097 L202.952 359.985 
" clip-path="url(#p2195e9ecc8)" style="fill: none; stroke: #000080; stroke-opacity: 0.68; stroke-width: 0.432"/>
<path d="M 191.548 386.097 L216.127 367.729 
" clip-path="url(#p2195e9ecc8)" style="fill: none; stroke: #000080; stroke-opacity: 0.68; stroke-width: 0.432"/>
<path d="M 190.592 369.276 L189.596 352.459 
" clip-path="url(#p2195e9ecc8)" style="fill: none; stroke: #000080; stroke-opacity: 0.68; stroke-width: 0.432"/>
<path d="M 190.592 369.276 L187.469 318.839 
" clip-path="url(#p2195e9ecc8)" style="fill: none; stroke: #000080; stroke-opacity: 0.68; stroke-width: 0.432"/>
<path d="M 190.592 369.276 L202.952 359.985 
" clip-path="url(#p2195e9ecc8)" style="fill: none; stroke: #000080; stroke-opacity: 0.68; stroke-width: 0.432"/>
<path d="M 190.592 369.276 L215.527 350.869 
" clip-path="url(#p2195e9ecc8)" style="fill: none; stroke: #000080; stroke-opacity: 0.68; stroke-width: 0.432"/>
<path d="M 190.592 369.276 L229.496 392.559 
" clip-path="url(#p2195e9ecc8)" style="fill: none; stroke: #000080; stroke-opacity: 0.68; stroke-width: 0.432"/>
<path d="M 189.596 352.459 L188.556 335.647 
" clip-path="url(#p2195e9ecc8)" style="fill: none; stroke: #000080; stroke-opacity: 0.68; stroke-width: 0.432"/>
<path d="M 188.556 335.647 L201.283 326.311 
" clip-path="url(#p2195e9ecc8)" style="fill: none; stroke: #000080; stroke-opacity: 0.68; stroke-width: 0.432"/>
<path d="M 187.469 318.839 L186.333 302.035 
" clip-path="url(#p2195e9ecc8)" style="fill: none; stroke: #000080; stroke-opacity: 0.68; stroke-width: 0.432"/>
<path d="M 187.469 318.839 L201.283 326.311 
" clip-path="url(#p2195e9ecc8)" style="fill: none; stroke: #000080; stroke-opacity: 0.68; stroke-width: 0.432"/>
<path d="M 187.469 318.839 L215.527 350.869 
" clip-path="url(#p2195e9ecc8)" style="fill: none; stroke: #000080; stroke-opacity: 0.68; stroke-width: 0.432"/>
<path d="M 186.333 302.035 L200.392 309.479 
" clip-path="url(#p2195e9ecc8)" style="fill: none; stroke: #000080; stroke-opacity: 0.68; stroke-width: 0.432"/>
<path d="M 179.808 218.094 L178.307 201.321 
" clip-path="url(#p2195e9ecc8)" style="fill: none; stroke: #000080; stroke-opacity: 0.68; stroke-width: 0.432"/>
<path d="M 179.808 218.094 L194.101 208.573 
" clip-path="url(#p2195e9ecc8)" style="fill: none; stroke: #000080; stroke-opacity: 0.68; stroke-width: 0.432"/>
<path d="M 178.307 201.321 L176.730 184.555 
" clip-path="url(#p2195e9ecc8)" style="fill: none; stroke: #000080; stroke-opacity: 0.68; stroke-width: 0.432"/>
<path d="M 176.730 184.555 L171.488 134.294 
" clip-path="url(#p2195e9ecc8)" style="fill: none; stroke: #000080; stroke-opacity: 0.68; stroke-width: 0.432"/>
<path d="M 176.730 184.555 L192.866 191.771 
" clip-path="url(#p2195e9ecc8)" style="fill: none; stroke: #000080; stroke-opacity: 0.68; stroke-width: 0.432"/>
<path d="M 176.730 184.555 L206.767 165.625 
" clip-path="url(#p2195e9ecc8)" style="fill: none; stroke: #000080; stroke-opacity: 0.68; stroke-width: 0.432"/>
<path d="M 176.730 184.555 L221.611 139.685 
" clip-path="url(#p2195e9ecc8)" style="fill: none; stroke: #000080; stroke-opacity: 0.68; stroke-width: 0.432"/>
<path d="M 175.072 167.795 L191.567 174.973 
" clip-path="url(#p2195e9ecc8)" style="fill: none; stroke: #000080; stroke-opacity: 0.68; stroke-width: 0.432"/>
<path d="M 175.072 167.795 L207.768 182.448 
" clip-path="url(#p2195e9ecc8)" style="fill: none; stroke: #000080; stroke-opacity: 0.68; stroke-width: 0.432"/>
<path d="M 173.326 151.041 L171.488 134.294 
" clip-path="url(#p2195e9ecc8)" style="fill: none; stroke: #000080; stroke-opacity: 0.68; stroke-width: 0.432"/>
<path d="M 173.326 151.041 L190.201 158.179 
" clip-path="url(#p2195e9ecc8)" style="fill: none; stroke: #000080; stroke-opacity: 0.68; stroke-width: 0.432"/>
<path d="M 173.326 151.041 L188.763 141.391 
" clip-path="url(#p2195e9ecc8)" style="fill: none; stroke: #000080; stroke-opacity: 0.68; stroke-width: 0.432"/>
<path d="M 173.326 151.041 L187.246 124.608 
" clip-path="url(#p2195e9ecc8)" style="fill: none; stroke: #000080; stroke-opacity: 0.68; stroke-width: 0.432"/>
<path d="M 173.326 151.041 L207.768 182.448 
" clip-path="url(#p2195e9ecc8)" style="fill: none; stroke: #000080; stroke-opacity: 0.68; stroke-width: 0.432"/>
<path d="M 171.488 134.294 L188.763 141.391 
" clip-path="url(#p2195e9ecc8)" style="fill: none; stroke: #000080; stroke-opacity: 0.68; stroke-width: 0.432"/>
<path d="M 169.548 117.554 L167.500 100.822 
" clip-path="url(#p2195e9ecc8)" style="fill: none; stroke: #000080; stroke-opacity: 0.68; stroke-width: 0.432"/>
<path d="M 169.548 117.554 L185.644 107.830 
" clip-path="url(#p2195e9ecc8)" style="fill: none; stroke: #000080; stroke-opacity: 0.68; stroke-width: 0.432"/>
<path d="M 167.500 100.822 L163.042 67.380 
" clip-path="url(#p2195e9ecc8)" style="fill: none; stroke: #000080; stroke-opacity: 0.68; stroke-width: 0.432"/>
<path d="M 167.500 100.822 L185.644 107.830 
" clip-path="url(#p2195e9ecc8)" style="fill: none; stroke: #000080; stroke-opacity: 0.68; stroke-width: 0.432"/>
<path d="M 167.500 100.822 L237.508 113.985 
" clip-path="url(#p2195e9ecc8)" style="fill: none; stroke: #000080; stroke-opacity: 0.68; stroke-width: 0.432"/>
<path d="M 165.334 84.097 L163.042 67.380 
" clip-path="url(#p2195e9ecc8)" style="fill: none; stroke: #000080; stroke-opacity: 0.68; stroke-width: 0.432"/>
<path d="M 165.334 84.097 L182.161 74.291 
" clip-path="url(#p2195e9ecc8)" style="fill: none; stroke: #000080; stroke-opacity: 0.68; stroke-width: 0.432"/>
<path d="M 165.334 84.097 L199.493 64.764 
" clip-path="url(#p2195e9ecc8)" style="fill: none; stroke: #000080; stroke-opacity: 0.68; stroke-width: 0.432"/>
<path d="M 163.042 67.380 L180.263 57.531 
" clip-path="url(#p2195e9ecc8)" style="fill: none; stroke: #000080; stroke-opacity: 0.68; stroke-width: 0.432"/>
<path d="M 163.042 67.380 L199.493 64.764 
" clip-path="url(#p2195e9ecc8)" style="fill: none; stroke: #000080; stroke-opacity: 0.68; stroke-width: 0.432"/>
<path d="M 163.042 67.380 L219.194 89.185 
" clip-path="url(#p2195e9ecc8)" style="fill: none; stroke: #000080; stroke-opacity: 0.68; stroke-width: 0.432"/>
<path d="M 205.893 427.377 L217.254 401.457 
" clip-path="url(#p2195e9ecc8)" style="fill: none; stroke: #000080; stroke-opacity: 0.68; stroke-width: 0.432"/>
<path d="M 205.203 410.524 L229.856 409.439 
" clip-path="url(#p2195e9ecc8)" style="fill: none; stroke: #000080; stroke-opacity: 0.68; stroke-width: 0.432"/>
<path d="M 204.484 393.674 L203.734 376.828 
" clip-path="url(#p2195e9ecc8)" style="fill: none; stroke: #000080; stroke-opacity: 0.68; stroke-width: 0.432"/>
<path d="M 204.484 393.674 L216.703 384.592 
" clip-path="url(#p2195e9ecc8)" style="fill: none; stroke: #000080; stroke-opacity: 0.68; stroke-width: 0.432"/>
<path d="M 203.734 376.828 L216.127 367.729 
" clip-path="url(#p2195e9ecc8)" style="fill: none; stroke: #000080; stroke-opacity: 0.68; stroke-width: 0.432"/>
<path d="M 202.952 359.985 L216.127 367.729 
" clip-path="url(#p2195e9ecc8)" style="fill: none; stroke: #000080; stroke-opacity: 0.68; stroke-width: 0.432"/>
<path d="M 202.952 359.985 L215.527 350.869 
" clip-path="url(#p2195e9ecc8)" style="fill: none; stroke: #000080; stroke-opacity: 0.68; stroke-width: 0.432"/>
<path d="M 202.136 343.146 L201.283 326.311 
" clip-path="url(#p2195e9ecc8)" style="fill: none; stroke: #000080; stroke-opacity: 0.68; stroke-width: 0.432"/>
<path d="M 200.392 309.479 L213.561 300.309 
" clip-path="url(#p2195e9ecc8)" style="fill: none; stroke: #000080; stroke-opacity: 0.68; stroke-width: 0.432"/>
<path d="M 194.101 208.573 L192.866 191.771 
" clip-path="url(#p2195e9ecc8)" style="fill: none; stroke: #000080; stroke-opacity: 0.68; stroke-width: 0.432"/>
<path d="M 194.101 208.573 L190.201 158.179 
" clip-path="url(#p2195e9ecc8)" style="fill: none; stroke: #000080; stroke-opacity: 0.68; stroke-width: 0.432"/>
<path d="M 194.101 208.573 L209.626 216.106 
" clip-path="url(#p2195e9ecc8)" style="fill: none; stroke: #000080; stroke-opacity: 0.68; stroke-width: 0.432"/>
<path d="M 194.101 208.573 L208.720 199.275 
" clip-path="url(#p2195e9ecc8)" style="fill: none; stroke: #000080; stroke-opacity: 0.68; stroke-width: 0.432"/>
<path d="M 192.866 191.771 L191.567 174.973 
" clip-path="url(#p2195e9ecc8)" style="fill: none; stroke: #000080; stroke-opacity: 0.68; stroke-width: 0.432"/>
<path d="M 191.567 174.973 L206.767 165.625 
" clip-path="url(#p2195e9ecc8)" style="fill: none; stroke: #000080; stroke-opacity: 0.68; stroke-width: 0.432"/>
<path d="M 190.201 158.179 L188.763 141.391 
" clip-path="url(#p2195e9ecc8)" style="fill: none; stroke: #000080; stroke-opacity: 0.68; stroke-width: 0.432"/>
<path d="M 190.201 158.179 L187.246 124.608 
" clip-path="url(#p2195e9ecc8)" style="fill: none; stroke: #000080; stroke-opacity: 0.68; stroke-width: 0.432"/>
<path d="M 190.201 158.179 L206.767 165.625 
" clip-path="url(#p2195e9ecc8)" style="fill: none; stroke: #000080; stroke-opacity: 0.68; stroke-width: 0.432"/>
<path d="M 188.763 141.391 L185.644 107.830 
" clip-path="url(#p2195e9ecc8)" style="fill: none; stroke: #000080; stroke-opacity: 0.68; stroke-width: 0.432"/>
<path d="M 188.763 141.391 L205.713 148.805 
" clip-path="url(#p2195e9ecc8)" style="fill: none; stroke: #000080; stroke-opacity: 0.68; stroke-width: 0.432"/>
<path d="M 188.763 141.391 L204.602 131.989 
" clip-path="url(#p2195e9ecc8)" style="fill: none; stroke: #000080; stroke-opacity: 0.68; stroke-width: 0.432"/>
<path d="M 187.246 124.608 L203.429 115.177 
" clip-path="url(#p2195e9ecc8)" style="fill: none; stroke: #000080; stroke-opacity: 0.68; stroke-width: 0.432"/>
<path d="M 187.246 124.608 L200.880 81.564 
" clip-path="url(#p2195e9ecc8)" style="fill: none; stroke: #000080; stroke-opacity: 0.68; stroke-width: 0.432"/>
<path d="M 185.644 107.830 L202.191 98.368 
" clip-path="url(#p2195e9ecc8)" style="fill: none; stroke: #000080; stroke-opacity: 0.68; stroke-width: 0.432"/>
<path d="M 183.952 91.058 L199.493 64.764 
" clip-path="url(#p2195e9ecc8)" style="fill: none; stroke: #000080; stroke-opacity: 0.68; stroke-width: 0.432"/>
<path d="M 182.161 74.291 L203.429 115.177 
" clip-path="url(#p2195e9ecc8)" style="fill: none; stroke: #000080; stroke-opacity: 0.68; stroke-width: 0.432"/>
<path d="M 182.161 74.291 L217.339 55.532 
" clip-path="url(#p2195e9ecc8)" style="fill: none; stroke: #000080; stroke-opacity: 0.68; stroke-width: 0.432"/>
<path d="M 217.783 418.326 L229.856 409.439 
" clip-path="url(#p2195e9ecc8)" style="fill: none; stroke: #000080; stroke-opacity: 0.68; stroke-width: 0.432"/>
<path d="M 217.254 401.457 L229.496 392.559 
" clip-path="url(#p2195e9ecc8)" style="fill: none; stroke: #000080; stroke-opacity: 0.68; stroke-width: 0.432"/>
<path d="M 217.254 401.457 L229.120 375.682 
" clip-path="url(#p2195e9ecc8)" style="fill: none; stroke: #000080; stroke-opacity: 0.68; stroke-width: 0.432"/>
<path d="M 216.127 367.729 L215.527 350.869 
" clip-path="url(#p2195e9ecc8)" style="fill: none; stroke: #000080; stroke-opacity: 0.68; stroke-width: 0.432"/>
<path d="M 216.127 367.729 L241.538 350.074 
" clip-path="url(#p2195e9ecc8)" style="fill: none; stroke: #000080; stroke-opacity: 0.68; stroke-width: 0.432"/>
<path d="M 215.527 350.869 L228.728 358.808 
" clip-path="url(#p2195e9ecc8)" style="fill: none; stroke: #000080; stroke-opacity: 0.68; stroke-width: 0.432"/>
<path d="M 204.602 131.989 L221.611 139.685 
" clip-path="url(#p2195e9ecc8)" style="fill: none; stroke: #000080; stroke-opacity: 0.68; stroke-width: 0.432"/>
<path d="M 204.602 131.989 L237.508 113.985 
" clip-path="url(#p2195e9ecc8)" style="fill: none; stroke: #000080; stroke-opacity: 0.68; stroke-width: 0.432"/>
<path d="M 203.429 115.177 L202.191 98.368 
" clip-path="url(#p2195e9ecc8)" style="fill: none; stroke: #000080; stroke-opacity: 0.68; stroke-width: 0.432"/>
<path d="M 203.429 115.177 L237.095 97.139 
" clip-path="url(#p2195e9ecc8)" style="fill: none; stroke: #000080; stroke-opacity: 0.68; stroke-width: 0.432"/>
<path d="M 202.191 98.368 L220.044 106.016 
" clip-path="url(#p2195e9ecc8)" style="fill: none; stroke: #000080; stroke-opacity: 0.68; stroke-width: 0.432"/>
<path d="M 200.880 81.564 L220.849 122.849 
" clip-path="url(#p2195e9ecc8)" style="fill: none; stroke: #000080; stroke-opacity: 0.68; stroke-width: 0.432"/>
<path d="M 199.493 64.764 L220.044 106.016 
" clip-path="url(#p2195e9ecc8)" style="fill: none; stroke: #000080; stroke-opacity: 0.68; stroke-width: 0.432"/>
<path d="M 199.493 64.764 L237.095 97.139 
" clip-path="url(#p2195e9ecc8)" style="fill: none; stroke: #000080; stroke-opacity: 0.68; stroke-width: 0.432"/>
<path d="M 199.493 64.764 L254.588 71.713 
" clip-path="url(#p2195e9ecc8)" style="fill: none; stroke: #000080; stroke-opacity: 0.68; stroke-width: 0.432"/>
<path d="M 229.856 409.439 L242.112 400.724 
" clip-path="url(#p2195e9ecc8)" style="fill: none; stroke: #000080; stroke-opacity: 0.68; stroke-width: 0.432"/>
<path d="M 229.496 392.559 L229.120 375.682 
" clip-path="url(#p2195e9ecc8)" style="fill: none; stroke: #000080; stroke-opacity: 0.68; stroke-width: 0.432"/>
<path d="M 229.496 392.559 L242.112 400.724 
" clip-path="url(#p2195e9ecc8)" style="fill: none; stroke: #000080; stroke-opacity: 0.68; stroke-width: 0.432"/>
<path d="M 229.496 392.559 L241.929 383.838 
" clip-path="url(#p2195e9ecc8)" style="fill: none; stroke: #000080; stroke-opacity: 0.68; stroke-width: 0.432"/>
<path d="M 229.120 375.682 L228.728 358.808 
" clip-path="url(#p2195e9ecc8)" style="fill: none; stroke: #000080; stroke-opacity: 0.68; stroke-width: 0.432"/>
<path d="M 229.120 375.682 L242.112 400.724 
" clip-path="url(#p2195e9ecc8)" style="fill: none; stroke: #000080; stroke-opacity: 0.68; stroke-width: 0.432"/>
<path d="M 229.120 375.682 L254.553 392.188 
" clip-path="url(#p2195e9ecc8)" style="fill: none; stroke: #000080; stroke-opacity: 0.68; stroke-width: 0.432"/>
<path d="M 221.611 139.685 L220.849 122.849 
" clip-path="url(#p2195e9ecc8)" style="fill: none; stroke: #000080; stroke-opacity: 0.68; stroke-width: 0.432"/>
<path d="M 221.611 139.685 L220.044 106.016 
" clip-path="url(#p2195e9ecc8)" style="fill: none; stroke: #000080; stroke-opacity: 0.68; stroke-width: 0.432"/>
<path d="M 220.849 122.849 L237.899 130.834 
" clip-path="url(#p2195e9ecc8)" style="fill: none; stroke: #000080; stroke-opacity: 0.68; stroke-width: 0.432"/>
<path d="M 220.849 122.849 L237.508 113.985 
" clip-path="url(#p2195e9ecc8)" style="fill: none; stroke: #000080; stroke-opacity: 0.68; stroke-width: 0.432"/>
<path d="M 220.044 106.016 L238.269 147.685 
" clip-path="url(#p2195e9ecc8)" style="fill: none; stroke: #000080; stroke-opacity: 0.68; stroke-width: 0.432"/>
<path d="M 219.194 89.185 L218.293 72.357 
" clip-path="url(#p2195e9ecc8)" style="fill: none; stroke: #000080; stroke-opacity: 0.68; stroke-width: 0.432"/>
<path d="M 219.194 89.185 L237.508 113.985 
" clip-path="url(#p2195e9ecc8)" style="fill: none; stroke: #000080; stroke-opacity: 0.68; stroke-width: 0.432"/>
<path d="M 219.194 89.185 L236.658 80.295 
" clip-path="url(#p2195e9ecc8)" style="fill: none; stroke: #000080; stroke-opacity: 0.68; stroke-width: 0.432"/>
<path d="M 219.194 89.185 L254.585 88.561 
" clip-path="url(#p2195e9ecc8)" style="fill: none; stroke: #000080; stroke-opacity: 0.68; stroke-width: 0.432"/>
<path d="M 219.194 89.185 L254.588 71.713 
" clip-path="url(#p2195e9ecc8)" style="fill: none; stroke: #000080; stroke-opacity: 0.68; stroke-width: 0.432"/>
<path d="M 218.293 72.357 L254.588 71.713 
" clip-path="url(#p2195e9ecc8)" style="fill: none; stroke: #000080; stroke-opacity: 0.68; stroke-width: 0.432"/>
<path d="M 241.538 350.074 L254.556 358.417 
" clip-path="url(#p2195e9ecc8)" style="fill: none; stroke: #000080; stroke-opacity: 0.68; stroke-width: 0.432"/>
<path d="M 238.269 147.685 L237.508 113.985 
" clip-path="url(#p2195e9ecc8)" style="fill: none; stroke: #000080; stroke-opacity: 0.68; stroke-width: 0.432"/>
<path d="M 237.508 113.985 L254.588 71.713 
" clip-path="url(#p2195e9ecc8)" style="fill: none; stroke: #000080; stroke-opacity: 0.68; stroke-width: 0.432"/>
<path d="M 237.508 113.985 L271.258 130.837 
" clip-path="url(#p2195e9ecc8)" style="fill: none; stroke: #000080; stroke-opacity: 0.68; stroke-width: 0.432"/>
<path d="M 237.508 113.985 L272.072 97.143 
" clip-path="url(#p2195e9ecc8)" style="fill: none; stroke: #000080; stroke-opacity: 0.68; stroke-width: 0.432"/>
<path d="M 237.095 97.139 L254.585 88.561 
" clip-path="url(#p2195e9ecc8)" style="fill: none; stroke: #000080; stroke-opacity: 0.68; stroke-width: 0.432"/>
<path d="M 237.095 97.139 L305.732 115.188 
" clip-path="url(#p2195e9ecc8)" style="fill: none; stroke: #000080; stroke-opacity: 0.68; stroke-width: 0.432"/>
<path d="M 237.095 97.139 L309.684 64.776 
" clip-path="url(#p2195e9ecc8)" style="fill: none; stroke: #000080; stroke-opacity: 0.68; stroke-width: 0.432"/>
<path d="M 236.658 80.295 L236.195 63.452 
" clip-path="url(#p2195e9ecc8)" style="fill: none; stroke: #000080; stroke-opacity: 0.68; stroke-width: 0.432"/>
<path d="M 236.658 80.295 L254.585 88.561 
" clip-path="url(#p2195e9ecc8)" style="fill: none; stroke: #000080; stroke-opacity: 0.68; stroke-width: 0.432"/>
<path d="M 236.658 80.295 L254.588 71.713 
" clip-path="url(#p2195e9ecc8)" style="fill: none; stroke: #000080; stroke-opacity: 0.68; stroke-width: 0.432"/>
<path d="M 236.658 80.295 L271.654 113.989 
" clip-path="url(#p2195e9ecc8)" style="fill: none; stroke: #000080; stroke-opacity: 0.68; stroke-width: 0.432"/>
<path d="M 236.658 80.295 L272.514 80.298 
" clip-path="url(#p2195e9ecc8)" style="fill: none; stroke: #000080; stroke-opacity: 0.68; stroke-width: 0.432"/>
<path d="M 236.195 63.452 L254.585 88.561 
" clip-path="url(#p2195e9ecc8)" style="fill: none; stroke: #000080; stroke-opacity: 0.68; stroke-width: 0.432"/>
<path d="M 236.195 63.452 L254.591 54.867 
" clip-path="url(#p2195e9ecc8)" style="fill: none; stroke: #000080; stroke-opacity: 0.68; stroke-width: 0.432"/>
<path d="M 236.195 63.452 L308.291 81.576 
" clip-path="url(#p2195e9ecc8)" style="fill: none; stroke: #000080; stroke-opacity: 0.68; stroke-width: 0.432"/>
<path d="M 254.552 409.078 L266.993 400.726 
" clip-path="url(#p2195e9ecc8)" style="fill: none; stroke: #000080; stroke-opacity: 0.68; stroke-width: 0.432"/>
<path d="M 254.577 139.118 L254.580 122.264 
" clip-path="url(#p2195e9ecc8)" style="fill: none; stroke: #000080; stroke-opacity: 0.68; stroke-width: 0.432"/>
<path d="M 254.577 139.118 L271.258 130.837 
" clip-path="url(#p2195e9ecc8)" style="fill: none; stroke: #000080; stroke-opacity: 0.68; stroke-width: 0.432"/>
<path d="M 254.580 122.264 L254.582 105.412 
" clip-path="url(#p2195e9ecc8)" style="fill: none; stroke: #000080; stroke-opacity: 0.68; stroke-width: 0.432"/>
<path d="M 254.580 122.264 L271.654 113.989 
" clip-path="url(#p2195e9ecc8)" style="fill: none; stroke: #000080; stroke-opacity: 0.68; stroke-width: 0.432"/>
<path d="M 254.580 122.264 L306.976 98.380 
" clip-path="url(#p2195e9ecc8)" style="fill: none; stroke: #000080; stroke-opacity: 0.68; stroke-width: 0.432"/>
<path d="M 254.582 105.412 L254.585 88.561 
" clip-path="url(#p2195e9ecc8)" style="fill: none; stroke: #000080; stroke-opacity: 0.68; stroke-width: 0.432"/>
<path d="M 254.582 105.412 L270.883 147.688 
" clip-path="url(#p2195e9ecc8)" style="fill: none; stroke: #000080; stroke-opacity: 0.68; stroke-width: 0.432"/>
<path d="M 254.582 105.412 L271.258 130.837 
" clip-path="url(#p2195e9ecc8)" style="fill: none; stroke: #000080; stroke-opacity: 0.68; stroke-width: 0.432"/>
<path d="M 254.582 105.412 L271.654 113.989 
" clip-path="url(#p2195e9ecc8)" style="fill: none; stroke: #000080; stroke-opacity: 0.68; stroke-width: 0.432"/>
<path d="M 254.582 105.412 L272.514 80.298 
" clip-path="url(#p2195e9ecc8)" style="fill: none; stroke: #000080; stroke-opacity: 0.68; stroke-width: 0.432"/>
<path d="M 254.585 88.561 L254.588 71.713 
" clip-path="url(#p2195e9ecc8)" style="fill: none; stroke: #000080; stroke-opacity: 0.68; stroke-width: 0.432"/>
<path d="M 254.585 88.561 L272.072 97.143 
" clip-path="url(#p2195e9ecc8)" style="fill: none; stroke: #000080; stroke-opacity: 0.68; stroke-width: 0.432"/>
<path d="M 254.585 88.561 L289.120 106.023 
" clip-path="url(#p2195e9ecc8)" style="fill: none; stroke: #000080; stroke-opacity: 0.68; stroke-width: 0.432"/>
<path d="M 254.588 71.713 L272.514 80.298 
" clip-path="url(#p2195e9ecc8)" style="fill: none; stroke: #000080; stroke-opacity: 0.68; stroke-width: 0.432"/>
<path d="M 271.258 130.837 L271.654 113.989 
" clip-path="url(#p2195e9ecc8)" style="fill: none; stroke: #000080; stroke-opacity: 0.68; stroke-width: 0.432"/>
<path d="M 271.654 113.989 L288.310 122.856 
" clip-path="url(#p2195e9ecc8)" style="fill: none; stroke: #000080; stroke-opacity: 0.68; stroke-width: 0.432"/>
<path d="M 272.072 97.143 L288.310 122.856 
" clip-path="url(#p2195e9ecc8)" style="fill: none; stroke: #000080; stroke-opacity: 0.68; stroke-width: 0.432"/>
<path d="M 272.514 80.298 L289.976 89.193 
" clip-path="url(#p2195e9ecc8)" style="fill: none; stroke: #000080; stroke-opacity: 0.68; stroke-width: 0.432"/>
<path d="M 272.514 80.298 L290.882 72.365 
" clip-path="url(#p2195e9ecc8)" style="fill: none; stroke: #000080; stroke-opacity: 0.68; stroke-width: 0.432"/>
<path d="M 272.514 80.298 L306.976 98.380 
" clip-path="url(#p2195e9ecc8)" style="fill: none; stroke: #000080; stroke-opacity: 0.68; stroke-width: 0.432"/>
<path d="M 272.514 80.298 L308.291 81.576 
" clip-path="url(#p2195e9ecc8)" style="fill: none; stroke: #000080; stroke-opacity: 0.68; stroke-width: 0.432"/>
<path d="M 287.544 139.692 L341.665 100.840 
" clip-path="url(#p2195e9ecc8)" style="fill: none; stroke: #000080; stroke-opacity: 0.68; stroke-width: 0.432"/>
<path d="M 288.310 122.856 L304.555 132.000 
" clip-path="url(#p2195e9ecc8)" style="fill: none; stroke: #000080; stroke-opacity: 0.68; stroke-width: 0.432"/>
<path d="M 288.310 122.856 L305.732 115.188 
" clip-path="url(#p2195e9ecc8)" style="fill: none; stroke: #000080; stroke-opacity: 0.68; stroke-width: 0.432"/>
<path d="M 288.310 122.856 L321.913 124.622 
" clip-path="url(#p2195e9ecc8)" style="fill: none; stroke: #000080; stroke-opacity: 0.68; stroke-width: 0.432"/>
<path d="M 289.120 106.023 L305.732 115.188 
" clip-path="url(#p2195e9ecc8)" style="fill: none; stroke: #000080; stroke-opacity: 0.68; stroke-width: 0.432"/>
<path d="M 289.120 106.023 L306.976 98.380 
" clip-path="url(#p2195e9ecc8)" style="fill: none; stroke: #000080; stroke-opacity: 0.68; stroke-width: 0.432"/>
<path d="M 289.976 89.193 L308.291 81.576 
" clip-path="url(#p2195e9ecc8)" style="fill: none; stroke: #000080; stroke-opacity: 0.68; stroke-width: 0.432"/>
<path d="M 289.976 89.193 L309.684 64.776 
" clip-path="url(#p2195e9ecc8)" style="fill: none; stroke: #000080; stroke-opacity: 0.68; stroke-width: 0.432"/>
<path d="M 289.976 89.193 L325.216 91.073 
" clip-path="url(#p2195e9ecc8)" style="fill: none; stroke: #000080; stroke-opacity: 0.68; stroke-width: 0.432"/>
<path d="M 289.976 89.193 L327.013 74.307 
" clip-path="url(#p2195e9ecc8)" style="fill: none; stroke: #000080; stroke-opacity: 0.68; stroke-width: 0.432"/>
<path d="M 289.976 89.193 L343.835 84.116 
" clip-path="url(#p2195e9ecc8)" style="fill: none; stroke: #000080; stroke-opacity: 0.68; stroke-width: 0.432"/>
<path d="M 290.882 72.365 L308.291 81.576 
" clip-path="url(#p2195e9ecc8)" style="fill: none; stroke: #000080; stroke-opacity: 0.68; stroke-width: 0.432"/>
<path d="M 305.732 115.188 L321.913 124.622 
" clip-path="url(#p2195e9ecc8)" style="fill: none; stroke: #000080; stroke-opacity: 0.68; stroke-width: 0.432"/>
<path d="M 305.732 115.188 L323.519 107.845 
" clip-path="url(#p2195e9ecc8)" style="fill: none; stroke: #000080; stroke-opacity: 0.68; stroke-width: 0.432"/>
<path d="M 305.732 115.188 L339.611 117.572 
" clip-path="url(#p2195e9ecc8)" style="fill: none; stroke: #000080; stroke-opacity: 0.68; stroke-width: 0.432"/>
<path d="M 305.732 115.188 L355.262 127.548 
" clip-path="url(#p2195e9ecc8)" style="fill: none; stroke: #000080; stroke-opacity: 0.68; stroke-width: 0.432"/>
<path d="M 306.976 98.380 L308.291 81.576 
" clip-path="url(#p2195e9ecc8)" style="fill: none; stroke: #000080; stroke-opacity: 0.68; stroke-width: 0.432"/>
<path d="M 306.976 98.380 L341.665 100.840 
" clip-path="url(#p2195e9ecc8)" style="fill: none; stroke: #000080; stroke-opacity: 0.68; stroke-width: 0.432"/>
<path d="M 309.684 64.776 L327.013 74.307 
" clip-path="url(#p2195e9ecc8)" style="fill: none; stroke: #000080; stroke-opacity: 0.68; stroke-width: 0.432"/>
<path d="M 309.684 64.776 L328.916 57.548 
" clip-path="url(#p2195e9ecc8)" style="fill: none; stroke: #000080; stroke-opacity: 0.68; stroke-width: 0.432"/>
<path d="M 320.391 141.405 L321.913 124.622 
" clip-path="url(#p2195e9ecc8)" style="fill: none; stroke: #000080; stroke-opacity: 0.68; stroke-width: 0.432"/>
<path d="M 321.913 124.622 L323.519 107.845 
" clip-path="url(#p2195e9ecc8)" style="fill: none; stroke: #000080; stroke-opacity: 0.68; stroke-width: 0.432"/>
<path d="M 321.913 124.622 L337.667 134.312 
" clip-path="url(#p2195e9ecc8)" style="fill: none; stroke: #000080; stroke-opacity: 0.68; stroke-width: 0.432"/>
<path d="M 321.913 124.622 L339.611 117.572 
" clip-path="url(#p2195e9ecc8)" style="fill: none; stroke: #000080; stroke-opacity: 0.68; stroke-width: 0.432"/>
<path d="M 321.913 124.622 L357.644 110.863 
" clip-path="url(#p2195e9ecc8)" style="fill: none; stroke: #000080; stroke-opacity: 0.68; stroke-width: 0.432"/>
<path d="M 323.519 107.845 L367.928 154.401 
" clip-path="url(#p2195e9ecc8)" style="fill: none; stroke: #000080; stroke-opacity: 0.68; stroke-width: 0.432"/>
<path d="M 325.216 91.073 L328.916 57.548 
" clip-path="url(#p2195e9ecc8)" style="fill: none; stroke: #000080; stroke-opacity: 0.68; stroke-width: 0.432"/>
<path d="M 327.013 74.307 L343.835 84.116 
" clip-path="url(#p2195e9ecc8)" style="fill: none; stroke: #000080; stroke-opacity: 0.68; stroke-width: 0.432"/>
<path d="M 327.013 74.307 L346.133 67.400 
" clip-path="url(#p2195e9ecc8)" style="fill: none; stroke: #000080; stroke-opacity: 0.68; stroke-width: 0.432"/>
<path d="M 328.916 57.548 L346.133 67.400 
" clip-path="url(#p2195e9ecc8)" style="fill: none; stroke: #000080; stroke-opacity: 0.68; stroke-width: 0.432"/>
<path d="M 337.667 134.312 L339.611 117.572 
" clip-path="url(#p2195e9ecc8)" style="fill: none; stroke: #000080; stroke-opacity: 0.68; stroke-width: 0.432"/>
<path d="M 339.611 117.572 L353.003 144.243 
" clip-path="url(#p2195e9ecc8)" style="fill: none; stroke: #000080; stroke-opacity: 0.68; stroke-width: 0.432"/>
<path d="M 339.611 117.572 L355.262 127.548 
" clip-path="url(#p2195e9ecc8)" style="fill: none; stroke: #000080; stroke-opacity: 0.68; stroke-width: 0.432"/>
<path d="M 339.611 117.572 L357.644 110.863 
" clip-path="url(#p2195e9ecc8)" style="fill: none; stroke: #000080; stroke-opacity: 0.68; stroke-width: 0.432"/>
<path d="M 341.665 100.840 L343.835 84.116 
" clip-path="url(#p2195e9ecc8)" style="fill: none; stroke: #000080; stroke-opacity: 0.68; stroke-width: 0.432"/>
<path d="M 346.133 67.400 L365.642 60.870 
" clip-path="url(#p2195e9ecc8)" style="fill: none; stroke: #000080; stroke-opacity: 0.68; stroke-width: 0.432"/>
<path d="M 353.003 144.243 L355.262 127.548 
" clip-path="url(#p2195e9ecc8)" style="fill: none; stroke: #000080; stroke-opacity: 0.68; stroke-width: 0.432"/>
<path d="M 225.978 257.618 L226.978 291.337 
" clip-path="url(#p2195e9ecc8)" style="fill: none; stroke: #000080; stroke-opacity: 0.68; stroke-width: 0.432"/>
<path d="M 225.978 257.618 L212.096 266.618 
" clip-path="url(#p2195e9ecc8)" style="fill: none; stroke: #000080; stroke-opacity: 0.68; stroke-width: 0.432"/>
<path d="M 212.096 266.618 L240.645 282.573 
" clip-path="url(#p2195e9ecc8)" style="fill: none; stroke: #000080; stroke-opacity: 0.68; stroke-width: 0.432"/>
<path d="M 225.978 257.618 L240.396 265.704 
" clip-path="url(#p2195e9ecc8)" style="fill: none; stroke: #000080; stroke-opacity: 0.68; stroke-width: 0.432"/>
<path d="M 240.134 248.837 L254.564 257.156 
" clip-path="url(#p2195e9ecc8)" style="fill: none; stroke: #000080; stroke-opacity: 0.68; stroke-width: 0.432"/>
<path d="M 240.134 248.837 L240.396 265.704 
" clip-path="url(#p2195e9ecc8)" style="fill: none; stroke: #000080; stroke-opacity: 0.68; stroke-width: 0.432"/>
<path d="M 226.490 274.476 L212.845 283.462 
" clip-path="url(#p2195e9ecc8)" style="fill: none; stroke: #000080; stroke-opacity: 0.68; stroke-width: 0.432"/>
<path d="M 212.845 283.462 L226.978 291.337 
" clip-path="url(#p2195e9ecc8)" style="fill: none; stroke: #000080; stroke-opacity: 0.68; stroke-width: 0.432"/>
<path d="M 226.490 274.476 L240.645 282.573 
" clip-path="url(#p2195e9ecc8)" style="fill: none; stroke: #000080; stroke-opacity: 0.68; stroke-width: 0.432"/>
<path d="M 226.978 291.337 L254.559 307.776 
" clip-path="url(#p2195e9ecc8)" style="fill: none; stroke: #000080; stroke-opacity: 0.68; stroke-width: 0.432"/>
<path d="M 241.111 316.319 L227.445 308.201 
" clip-path="url(#p2195e9ecc8)" style="fill: none; stroke: #000080; stroke-opacity: 0.68; stroke-width: 0.432"/>
<path d="M 227.445 308.201 L214.246 317.159 
" clip-path="url(#p2195e9ecc8)" style="fill: none; stroke: #000080; stroke-opacity: 0.68; stroke-width: 0.432"/>
<path d="M 199.461 292.652 L213.561 300.309 
" clip-path="url(#p2195e9ecc8)" style="fill: none; stroke: #000080; stroke-opacity: 0.68; stroke-width: 0.432"/>
<path d="M 214.246 317.159 L201.283 326.311 
" clip-path="url(#p2195e9ecc8)" style="fill: none; stroke: #000080; stroke-opacity: 0.68; stroke-width: 0.432"/>
<path d="M 172.072 294.836 L173.461 311.604 
" clip-path="url(#p2195e9ecc8)" style="fill: none; stroke: #000080; stroke-opacity: 0.68; stroke-width: 0.432"/>
<path d="M 162 299.582 L173.461 311.604 
" clip-path="url(#p2195e9ecc8)" style="fill: none; stroke: #000080; stroke-opacity: 0.68; stroke-width: 0.432"/>
<path d="M 162 318.365 L174.789 328.378 
" clip-path="url(#p2195e9ecc8)" style="fill: none; stroke: #000080; stroke-opacity: 0.68; stroke-width: 0.432"/>
<path d="M 170.619 278.073 L162 283.930 
" clip-path="url(#p2195e9ecc8)" style="fill: none; stroke: #000080; stroke-opacity: 0.68; stroke-width: 0.432"/>
<path d="M 214.900 334.013 L241.538 350.074 
" clip-path="url(#p2195e9ecc8)" style="fill: none; stroke: #000080; stroke-opacity: 0.68; stroke-width: 0.432"/>
<path d="M 228.319 341.936 L241.329 333.195 
" clip-path="url(#p2195e9ecc8)" style="fill: none; stroke: #000080; stroke-opacity: 0.68; stroke-width: 0.432"/>
<path d="M 241.329 333.195 L254.557 341.534 
" clip-path="url(#p2195e9ecc8)" style="fill: none; stroke: #000080; stroke-opacity: 0.68; stroke-width: 0.432"/>
<path d="M 301.375 182.458 L316.276 191.783 
" clip-path="url(#p2195e9ecc8)" style="fill: none; stroke: #000080; stroke-opacity: 0.68; stroke-width: 0.432"/>
<path d="M 316.276 191.783 L315.037 208.586 
" clip-path="url(#p2195e9ecc8)" style="fill: none; stroke: #000080; stroke-opacity: 0.68; stroke-width: 0.432"/>
<path d="M 330.832 201.337 L346.890 194.379 
" clip-path="url(#p2195e9ecc8)" style="fill: none; stroke: #000080; stroke-opacity: 0.68; stroke-width: 0.432"/>
<path d="M 346.890 194.379 L348.825 177.659 
" clip-path="url(#p2195e9ecc8)" style="fill: none; stroke: #000080; stroke-opacity: 0.68; stroke-width: 0.432"/>
<path d="M 348.825 177.659 L335.824 151.058 
" clip-path="url(#p2195e9ecc8)" style="fill: none; stroke: #000080; stroke-opacity: 0.68; stroke-width: 0.432"/>
<path d="M 335.824 151.058 L353.003 144.243 
" clip-path="url(#p2195e9ecc8)" style="fill: none; stroke: #000080; stroke-opacity: 0.68; stroke-width: 0.432"/>
<path d="M 353.003 144.243 L365.507 171.056 
" clip-path="url(#p2195e9ecc8)" style="fill: none; stroke: #000080; stroke-opacity: 0.68; stroke-width: 0.432"/>
<path d="M 353.003 144.243 L370.478 137.757 
" clip-path="url(#p2195e9ecc8)" style="fill: none; stroke: #000080; stroke-opacity: 0.68; stroke-width: 0.432"/>
<path d="M 370.478 137.757 L367.928 154.401 
" clip-path="url(#p2195e9ecc8)" style="fill: none; stroke: #000080; stroke-opacity: 0.68; stroke-width: 0.432"/>
<path d="M 318.948 158.193 L320.391 141.405 
" clip-path="url(#p2195e9ecc8)" style="fill: none; stroke: #000080; stroke-opacity: 0.68; stroke-width: 0.432"/>
<path d="M 318.948 158.193 L335.824 151.058 
" clip-path="url(#p2195e9ecc8)" style="fill: none; stroke: #000080; stroke-opacity: 0.68; stroke-width: 0.432"/>
<path d="M 273.130 136.8 L287.544 139.692 
" clip-path="url(#p2195e9ecc8)" style="fill: none; stroke: #000080; stroke-opacity: 0.68; stroke-width: 0.432"/>
<path d="M 287.544 139.692 L286.817 156.531 
" clip-path="url(#p2195e9ecc8)" style="fill: none; stroke: #000080; stroke-opacity: 0.68; stroke-width: 0.432"/>
<path d="M 286.817 156.531 L303.439 148.815 
" clip-path="url(#p2195e9ecc8)" style="fill: none; stroke: #000080; stroke-opacity: 0.68; stroke-width: 0.432"/>
<path d="M 345.048 211.107 L329.327 218.109 
" clip-path="url(#p2195e9ecc8)" style="fill: none; stroke: #000080; stroke-opacity: 0.68; stroke-width: 0.432"/>
<path d="M 345.048 211.107 L343.294 227.843 
" clip-path="url(#p2195e9ecc8)" style="fill: none; stroke: #000080; stroke-opacity: 0.68; stroke-width: 0.432"/>
<path d="M 270 224.452 L283.689 240.768 
" clip-path="url(#p2195e9ecc8)" style="fill: none; stroke: #000080; stroke-opacity: 0.68; stroke-width: 0.432"/>
<path d="M 283.689 240.768 L298.643 232.949 
" clip-path="url(#p2195e9ecc8)" style="fill: none; stroke: #000080; stroke-opacity: 0.68; stroke-width: 0.432"/>
<path d="M 285.652 215.060 L270 205.669 
" clip-path="url(#p2195e9ecc8)" style="fill: none; stroke: #000080; stroke-opacity: 0.68; stroke-width: 0.432"/>
<path d="M 343.294 227.843 L356.944 237.776 
" clip-path="url(#p2195e9ecc8)" style="fill: none; stroke: #000080; stroke-opacity: 0.68; stroke-width: 0.432"/>
<path d="M 356.944 237.776 L356.869 244.8 
" clip-path="url(#p2195e9ecc8)" style="fill: none; stroke: #000080; stroke-opacity: 0.68; stroke-width: 0.432"/>
<path d="M 298.643 232.949 L313.857 225.393 
" clip-path="url(#p2195e9ecc8)" style="fill: none; stroke: #000080; stroke-opacity: 0.68; stroke-width: 0.432"/>
<path d="M 313.857 225.393 L329.327 218.109 
" clip-path="url(#p2195e9ecc8)" style="fill: none; stroke: #000080; stroke-opacity: 0.68; stroke-width: 0.432"/>
<path d="M 286.817 156.531 L286.127 173.373 
" clip-path="url(#p2195e9ecc8)" style="fill: none; stroke: #000080; stroke-opacity: 0.68; stroke-width: 0.432"/>
<path d="M 286.127 173.373 L270 181.408 
" clip-path="url(#p2195e9ecc8)" style="fill: none; stroke: #000080; stroke-opacity: 0.68; stroke-width: 0.432"/>
<path d="M 379.773 181.375 L417.087 153.206 
" clip-path="url(#p2195e9ecc8)" style="fill: none; stroke: #000080; stroke-opacity: 0.68; stroke-width: 0.432"/>
<path d="M 396.582 175.347 L417.087 153.206 
" clip-path="url(#p2195e9ecc8)" style="fill: none; stroke: #000080; stroke-opacity: 0.68; stroke-width: 0.432"/>
<path d="M 399.648 158.820 L417.087 153.206 
" clip-path="url(#p2195e9ecc8)" style="fill: none; stroke: #000080; stroke-opacity: 0.68; stroke-width: 0.432"/>
<path d="M 399.648 158.820 L396.582 175.347 
" clip-path="url(#p2195e9ecc8)" style="fill: none; stroke: #000080; stroke-opacity: 0.68; stroke-width: 0.432"/>
<path d="M 365.507 171.056 L399.648 158.820 
" clip-path="url(#p2195e9ecc8)" style="fill: none; stroke: #000080; stroke-opacity: 0.68; stroke-width: 0.432"/>
<path d="M 360 205.669 L410.330 186.109 
" clip-path="url(#p2195e9ecc8)" style="fill: none; stroke: #000080; stroke-opacity: 0.68; stroke-width: 0.432"/>
<path d="M 390.888 208.446 L404.206 219.084 
" clip-path="url(#p2195e9ecc8)" style="fill: none; stroke: #000080; stroke-opacity: 0.68; stroke-width: 0.432"/>
<path d="M 404.206 219.084 L360 238.539 
" clip-path="url(#p2195e9ecc8)" style="fill: none; stroke: #000080; stroke-opacity: 0.68; stroke-width: 0.432"/>
<path d="M 360 138.365 L370.478 137.757 
" clip-path="url(#p2195e9ecc8)" style="fill: none; stroke: #000080; stroke-opacity: 0.68; stroke-width: 0.432"/>
<path d="M 360 146.191 L389.739 157.147 
" clip-path="url(#p2195e9ecc8)" style="fill: none; stroke: #000080; stroke-opacity: 0.68; stroke-width: 0.432"/>
<path d="M 389.739 157.147 L399.648 158.820 
" clip-path="url(#p2195e9ecc8)" style="fill: none; stroke: #000080; stroke-opacity: 0.68; stroke-width: 0.432"/>
<path d="M 360 197.843 L377.224 197.988 
" clip-path="url(#p2195e9ecc8)" style="fill: none; stroke: #000080; stroke-opacity: 0.68; stroke-width: 0.432"/>
<path d="M 385.720 241.601 L372.486 231.251 
" clip-path="url(#p2195e9ecc8)" style="fill: none; stroke: #000080; stroke-opacity: 0.68; stroke-width: 0.432"/>
<path d="M 377.224 197.988 L390.888 208.446 
" clip-path="url(#p2195e9ecc8)" style="fill: none; stroke: #000080; stroke-opacity: 0.68; stroke-width: 0.432"/>
<path d="M 361.016 204.397 L372.486 231.251 
" clip-path="url(#p2195e9ecc8)" style="fill: none; stroke: #000080; stroke-opacity: 0.68; stroke-width: 0.432"/>
<path d="M 254.575 155.974 L254.573 172.832 
" clip-path="url(#p2195e9ecc8)" style="fill: none; stroke: #000080; stroke-opacity: 0.68; stroke-width: 0.432"/>
<path d="M 254.575 155.974 L270 161.843 
" clip-path="url(#p2195e9ecc8)" style="fill: none; stroke: #000080; stroke-opacity: 0.68; stroke-width: 0.432"/>
<path d="M 223.671 190.212 L224.608 215.843 
" clip-path="url(#p2195e9ecc8)" style="fill: none; stroke: #000080; stroke-opacity: 0.68; stroke-width: 0.432"/>
<path d="M 222.260 218.191 L224.608 215.843 
" clip-path="url(#p2195e9ecc8)" style="fill: none; stroke: #000080; stroke-opacity: 0.68; stroke-width: 0.432"/>
<path d="M 209.626 216.106 L239.573 215.111 
" clip-path="url(#p2195e9ecc8)" style="fill: none; stroke: #000080; stroke-opacity: 0.68; stroke-width: 0.432"/>
<path d="M 206.767 165.625 L208.720 199.275 
" clip-path="url(#p2195e9ecc8)" style="fill: none; stroke: #000080; stroke-opacity: 0.68; stroke-width: 0.432"/>
<path d="M 208.720 199.275 L224.290 207.059 
" clip-path="url(#p2195e9ecc8)" style="fill: none; stroke: #000080; stroke-opacity: 0.68; stroke-width: 0.432"/>
<path d="M 224.290 207.059 L209.626 216.106 
" clip-path="url(#p2195e9ecc8)" style="fill: none; stroke: #000080; stroke-opacity: 0.68; stroke-width: 0.432"/>
<path d="M 239.861 231.973 L235.565 244.8 
" clip-path="url(#p2195e9ecc8)" style="fill: none; stroke: #000080; stroke-opacity: 0.68; stroke-width: 0.432"/>
<path d="M 239.861 231.973 L254.566 240.287 
" clip-path="url(#p2195e9ecc8)" style="fill: none; stroke: #000080; stroke-opacity: 0.68; stroke-width: 0.432"/>
<path d="M 254.566 240.287 L255.913 244.8 
" clip-path="url(#p2195e9ecc8)" style="fill: none; stroke: #000080; stroke-opacity: 0.68; stroke-width: 0.432"/>
<path d="M 254.569 206.555 L270 215.843 
" clip-path="url(#p2195e9ecc8)" style="fill: none; stroke: #000080; stroke-opacity: 0.68; stroke-width: 0.432"/>
<path d="M 254.569 206.555 L270 224.452 
" clip-path="url(#p2195e9ecc8)" style="fill: none; stroke: #000080; stroke-opacity: 0.68; stroke-width: 0.432"/>
<path d="M 221.611 139.685 L238.269 147.685 
" clip-path="url(#p2195e9ecc8)" style="fill: none; stroke: #000080; stroke-opacity: 0.68; stroke-width: 0.432"/>
<path d="M 238.269 147.685 L246.521 136.8 
" clip-path="url(#p2195e9ecc8)" style="fill: none; stroke: #000080; stroke-opacity: 0.68; stroke-width: 0.432"/>
<path d="M 221.611 139.685 L270 136.8 
" clip-path="url(#p2195e9ecc8)" style="fill: none; stroke: #000080; stroke-opacity: 0.68; stroke-width: 0.432"/>
<path d="M 222.333 156.525 L206.767 165.625 
" clip-path="url(#p2195e9ecc8)" style="fill: none; stroke: #000080; stroke-opacity: 0.68; stroke-width: 0.432"/>
<path d="M 222.333 156.525 L213.652 146.191 
" clip-path="url(#p2195e9ecc8)" style="fill: none; stroke: #000080; stroke-opacity: 0.68; stroke-width: 0.432"/>
<path d="M 385.720 241.601 L383.312 258.198 
" clip-path="url(#p2195e9ecc8)" style="fill: none; stroke: #000080; stroke-opacity: 0.68; stroke-width: 0.432"/>
<path d="M 368.176 264.556 L370.281 247.898 
" clip-path="url(#p2195e9ecc8)" style="fill: none; stroke: #000080; stroke-opacity: 0.68; stroke-width: 0.432"/>
<path d="M 368.176 264.556 L398.639 252.124 
" clip-path="url(#p2195e9ecc8)" style="fill: none; stroke: #000080; stroke-opacity: 0.68; stroke-width: 0.432"/>
<path d="M 398.639 252.124 L385.720 241.601 
" clip-path="url(#p2195e9ecc8)" style="fill: none; stroke: #000080; stroke-opacity: 0.68; stroke-width: 0.432"/>
<path d="M 353.238 271.189 L351.510 287.907 
" clip-path="url(#p2195e9ecc8)" style="fill: none; stroke: #000080; stroke-opacity: 0.68; stroke-width: 0.432"/>
<path d="M 355.048 254.478 L338.4 253.565 
" clip-path="url(#p2195e9ecc8)" style="fill: none; stroke: #000080; stroke-opacity: 0.68; stroke-width: 0.432"/>
<path d="M 355.048 254.478 L341.622 244.585 
" clip-path="url(#p2195e9ecc8)" style="fill: none; stroke: #000080; stroke-opacity: 0.68; stroke-width: 0.432"/>
<path d="M 341.622 244.585 L338.4 278.608 
" clip-path="url(#p2195e9ecc8)" style="fill: none; stroke: #000080; stroke-opacity: 0.68; stroke-width: 0.432"/>
<path d="M 356.944 237.776 L355.048 254.478 
" clip-path="url(#p2195e9ecc8)" style="fill: none; stroke: #000080; stroke-opacity: 0.68; stroke-width: 0.432"/>
<path d="M 356.944 237.776 L341.622 244.585 
" clip-path="url(#p2195e9ecc8)" style="fill: none; stroke: #000080; stroke-opacity: 0.68; stroke-width: 0.432"/>
<path d="M 343.294 227.843 L343.878 216 
" clip-path="url(#p2195e9ecc8)" style="fill: none; stroke: #000080; stroke-opacity: 0.68; stroke-width: 0.432"/>
<path d="M 358.931 221.082 L374.4 216 
" clip-path="url(#p2195e9ecc8)" style="fill: none; stroke: #000080; stroke-opacity: 0.68; stroke-width: 0.432"/>
<path d="M 404.206 219.084 L390.052 216 
" clip-path="url(#p2195e9ecc8)" style="fill: none; stroke: #000080; stroke-opacity: 0.68; stroke-width: 0.432"/>
<path d="M 358.931 221.082 L343.294 227.843 
" clip-path="url(#p2195e9ecc8)" style="fill: none; stroke: #000080; stroke-opacity: 0.68; stroke-width: 0.432"/>
<path d="M 322.786 302.049 L337.048 294.852 
" clip-path="url(#p2195e9ecc8)" style="fill: none; stroke: #000080; stroke-opacity: 0.68; stroke-width: 0.432"/>
<path d="M 297.030 266.626 L326.526 251.669 
" clip-path="url(#p2195e9ecc8)" style="fill: none; stroke: #000080; stroke-opacity: 0.68; stroke-width: 0.432"/>
<path d="M 297.030 266.626 L310.638 275.839 
" clip-path="url(#p2195e9ecc8)" style="fill: none; stroke: #000080; stroke-opacity: 0.68; stroke-width: 0.432"/>
<path d="M 310.638 275.839 L325.222 268.457 
" clip-path="url(#p2195e9ecc8)" style="fill: none; stroke: #000080; stroke-opacity: 0.68; stroke-width: 0.432"/>
<path d="M 297.030 266.626 L297.818 249.786 
" clip-path="url(#p2195e9ecc8)" style="fill: none; stroke: #000080; stroke-opacity: 0.68; stroke-width: 0.432"/>
<path d="M 326.526 251.669 L325.222 268.457 
" clip-path="url(#p2195e9ecc8)" style="fill: none; stroke: #000080; stroke-opacity: 0.68; stroke-width: 0.432"/>
<path d="M 326.526 251.669 L311.661 259.019 
" clip-path="url(#p2195e9ecc8)" style="fill: none; stroke: #000080; stroke-opacity: 0.68; stroke-width: 0.432"/>
<path d="M 326.526 251.669 L340.434 244.8 
" clip-path="url(#p2195e9ecc8)" style="fill: none; stroke: #000080; stroke-opacity: 0.68; stroke-width: 0.432"/>
<path d="M 307.832 326.321 L281.224 325.073 
" clip-path="url(#p2195e9ecc8)" style="fill: none; stroke: #000080; stroke-opacity: 0.68; stroke-width: 0.432"/>
<path d="M 307.832 326.321 L294.871 317.167 
" clip-path="url(#p2195e9ecc8)" style="fill: none; stroke: #000080; stroke-opacity: 0.68; stroke-width: 0.432"/>
<path d="M 294.871 317.167 L270 331.669 
" clip-path="url(#p2195e9ecc8)" style="fill: none; stroke: #000080; stroke-opacity: 0.68; stroke-width: 0.432"/>
<path d="M 368.608 244.8 L368.176 264.556 
" clip-path="url(#p2195e9ecc8)" style="fill: none; stroke: #000080; stroke-opacity: 0.68; stroke-width: 0.432"/>
<path d="M 368.176 264.556 L378 261.234 
" clip-path="url(#p2195e9ecc8)" style="fill: none; stroke: #000080; stroke-opacity: 0.68; stroke-width: 0.432"/>
<path d="M 363.913 244.8 L378 247.930 
" clip-path="url(#p2195e9ecc8)" style="fill: none; stroke: #000080; stroke-opacity: 0.68; stroke-width: 0.432"/>
<path d="M 355.048 254.478 L363.913 244.8 
" clip-path="url(#p2195e9ecc8)" style="fill: none; stroke: #000080; stroke-opacity: 0.68; stroke-width: 0.432"/>
<path d="M 291.842 55.541 L328.916 57.548 
" clip-path="url(#p2195e9ecc8)" style="fill: none; stroke: #000080; stroke-opacity: 0.68; stroke-width: 0.432"/>
<path d="M 346.133 67.400 L360.161 94.187 
" clip-path="url(#p2195e9ecc8)" style="fill: none; stroke: #000080; stroke-opacity: 0.68; stroke-width: 0.432"/>
<path d="M 348.569 50.693 L346.133 67.400 
" clip-path="url(#p2195e9ecc8)" style="fill: none; stroke: #000080; stroke-opacity: 0.68; stroke-width: 0.432"/>
<path d="M 321.913 124.622 L318.948 158.193 
" clip-path="url(#p2195e9ecc8)" style="fill: none; stroke: #000080; stroke-opacity: 0.68; stroke-width: 0.432"/>
<path d="M 321.913 124.622 L357.644 110.863 
" clip-path="url(#p2195e9ecc8)" style="fill: none; stroke: #000080; stroke-opacity: 0.68; stroke-width: 0.432"/>
<path d="M 357.644 110.863 L353.003 144.243 
" clip-path="url(#p2195e9ecc8)" style="fill: none; stroke: #000080; stroke-opacity: 0.68; stroke-width: 0.432"/>
<path d="M 346.890 194.379 L379.773 181.375 
" clip-path="url(#p2195e9ecc8)" style="fill: none; stroke: #000080; stroke-opacity: 0.68; stroke-width: 0.432"/>
<path d="M 330.832 201.337 L345.048 211.107 
" clip-path="url(#p2195e9ecc8)" style="fill: none; stroke: #000080; stroke-opacity: 0.68; stroke-width: 0.432"/>
<path d="M 345.048 211.107 L379.773 181.375 
" clip-path="url(#p2195e9ecc8)" style="fill: none; stroke: #000080; stroke-opacity: 0.68; stroke-width: 0.432"/>
<path d="M 318.948 158.193 L337.667 134.312 
" clip-path="url(#p2195e9ecc8)" style="fill: none; stroke: #000080; stroke-opacity: 0.68; stroke-width: 0.432"/>
<path d="M 318.948 158.193 L348.825 177.659 
" clip-path="url(#p2195e9ecc8)" style="fill: none; stroke: #000080; stroke-opacity: 0.68; stroke-width: 0.432"/>
<path d="M 229.856 409.439 L230.201 426.321 
" clip-path="url(#p2195e9ecc8)" style="fill: none; stroke: #000080; stroke-opacity: 0.68; stroke-width: 0.432"/>
<path d="M 217.254 401.457 L230.201 426.321 
" clip-path="url(#p2195e9ecc8)" style="fill: none; stroke: #000080; stroke-opacity: 0.68; stroke-width: 0.432"/>
<path d="M 242.288 417.612 L229.856 409.439 
" clip-path="url(#p2195e9ecc8)" style="fill: none; stroke: #000080; stroke-opacity: 0.68; stroke-width: 0.432"/>
<path d="M 266.815 417.614 L254.551 425.969 
" clip-path="url(#p2195e9ecc8)" style="fill: none; stroke: #000080; stroke-opacity: 0.68; stroke-width: 0.432"/>
<path d="M 254.551 425.969 L242.288 417.612 
" clip-path="url(#p2195e9ecc8)" style="fill: none; stroke: #000080; stroke-opacity: 0.68; stroke-width: 0.432"/>
<path d="M 94.838 415.926 L107.886 421.965 
" clip-path="url(#p2195e9ecc8)" style="fill: none; stroke: #000080; stroke-opacity: 0.68; stroke-width: 0.432"/>
<path d="M 107.886 421.965 L118.931 411.630 
" clip-path="url(#p2195e9ecc8)" style="fill: none; stroke: #000080; stroke-opacity: 0.68; stroke-width: 0.432"/>
<path d="M 94.838 415.926 L131.939 418.062 
" clip-path="url(#p2195e9ecc8)" style="fill: none; stroke: #000080; stroke-opacity: 0.68; stroke-width: 0.432"/>
<path d="M 144.819 424.715 L156.203 414.846 
" clip-path="url(#p2195e9ecc8)" style="fill: none; stroke: #000080; stroke-opacity: 0.68; stroke-width: 0.432"/>
<path d="M 120.817 428.230 L107.886 421.965 
" clip-path="url(#p2195e9ecc8)" style="fill: none; stroke: #000080; stroke-opacity: 0.68; stroke-width: 0.432"/>
<path d="M 105.799 405.425 L92.546 399.452 
" clip-path="url(#p2195e9ecc8)" style="fill: none; stroke: #000080; stroke-opacity: 0.68; stroke-width: 0.432"/>
</g>
<g id="LineCollection_2">
<path d="M 90.160 382.993 L103.626 388.898 
" clip-path="url(#p2195e9ecc8)" style="fill: none; stroke: #000080; stroke-opacity: 0.78; stroke-width: 0.684"/>
<path d="M 105.799 405.425 L114.921 378.464 
" clip-path="url(#p2195e9ecc8)" style="fill: none; stroke: #000080; stroke-opacity: 0.78; stroke-width: 0.684"/>
<path d="M 105.799 405.425 L156.203 414.846 
" clip-path="url(#p2195e9ecc8)" style="fill: none; stroke: #000080; stroke-opacity: 0.78; stroke-width: 0.684"/>
<path d="M 101.361 372.384 L112.788 361.897 
" clip-path="url(#p2195e9ecc8)" style="fill: none; stroke: #000080; stroke-opacity: 0.78; stroke-width: 0.684"/>
<path d="M 99.000 355.883 L114.921 378.464 
" clip-path="url(#p2195e9ecc8)" style="fill: none; stroke: #000080; stroke-opacity: 0.78; stroke-width: 0.684"/>
<path d="M 99.000 355.883 L148.465 331.259 
" clip-path="url(#p2195e9ecc8)" style="fill: none; stroke: #000080; stroke-opacity: 0.78; stroke-width: 0.684"/>
<path d="M 91.286 306.469 L100.639 279.260 
" clip-path="url(#p2195e9ecc8)" style="fill: none; stroke: #000080; stroke-opacity: 0.78; stroke-width: 0.684"/>
<path d="M 118.931 411.630 L144.819 424.715 
" clip-path="url(#p2195e9ecc8)" style="fill: none; stroke: #000080; stroke-opacity: 0.78; stroke-width: 0.684"/>
<path d="M 116.967 395.041 L130.180 401.418 
" clip-path="url(#p2195e9ecc8)" style="fill: none; stroke: #000080; stroke-opacity: 0.78; stroke-width: 0.684"/>
<path d="M 116.967 395.041 L154.783 398.114 
" clip-path="url(#p2195e9ecc8)" style="fill: none; stroke: #000080; stroke-opacity: 0.78; stroke-width: 0.684"/>
<path d="M 112.788 361.897 L122.365 334.937 
" clip-path="url(#p2195e9ecc8)" style="fill: none; stroke: #000080; stroke-opacity: 0.78; stroke-width: 0.684"/>
<path d="M 112.788 361.897 L136.335 341.326 
" clip-path="url(#p2195e9ecc8)" style="fill: none; stroke: #000080; stroke-opacity: 0.78; stroke-width: 0.684"/>
<path d="M 110.563 345.343 L120.194 318.344 
" clip-path="url(#p2195e9ecc8)" style="fill: none; stroke: #000080; stroke-opacity: 0.78; stroke-width: 0.684"/>
<path d="M 108.241 328.802 L134.412 324.675 
" clip-path="url(#p2195e9ecc8)" style="fill: none; stroke: #000080; stroke-opacity: 0.78; stroke-width: 0.684"/>
<path d="M 108.241 328.802 L144.874 297.878 
" clip-path="url(#p2195e9ecc8)" style="fill: none; stroke: #000080; stroke-opacity: 0.78; stroke-width: 0.684"/>
<path d="M 105.817 312.274 L117.927 301.763 
" clip-path="url(#p2195e9ecc8)" style="fill: none; stroke: #000080; stroke-opacity: 0.78; stroke-width: 0.684"/>
<path d="M 105.817 312.274 L130.305 291.402 
" clip-path="url(#p2195e9ecc8)" style="fill: none; stroke: #000080; stroke-opacity: 0.78; stroke-width: 0.684"/>
<path d="M 100.639 279.260 L113.080 268.638 
" clip-path="url(#p2195e9ecc8)" style="fill: none; stroke: #000080; stroke-opacity: 0.78; stroke-width: 0.684"/>
<path d="M 94.975 246.308 L98.809 186.077 
" clip-path="url(#p2195e9ecc8)" style="fill: none; stroke: #000080; stroke-opacity: 0.78; stroke-width: 0.684"/>
<path d="M 131.939 418.062 L143.260 408.021 
" clip-path="url(#p2195e9ecc8)" style="fill: none; stroke: #000080; stroke-opacity: 0.78; stroke-width: 0.684"/>
<path d="M 131.939 418.062 L154.783 398.114 
" clip-path="url(#p2195e9ecc8)" style="fill: none; stroke: #000080; stroke-opacity: 0.78; stroke-width: 0.684"/>
<path d="M 130.180 401.418 L154.783 398.114 
" clip-path="url(#p2195e9ecc8)" style="fill: none; stroke: #000080; stroke-opacity: 0.78; stroke-width: 0.684"/>
<path d="M 128.347 384.782 L124.444 351.542 
" clip-path="url(#p2195e9ecc8)" style="fill: none; stroke: #000080; stroke-opacity: 0.78; stroke-width: 0.684"/>
<path d="M 128.347 384.782 L151.758 364.671 
" clip-path="url(#p2195e9ecc8)" style="fill: none; stroke: #000080; stroke-opacity: 0.78; stroke-width: 0.684"/>
<path d="M 126.437 368.157 L124.444 351.542 
" clip-path="url(#p2195e9ecc8)" style="fill: none; stroke: #000080; stroke-opacity: 0.78; stroke-width: 0.684"/>
<path d="M 124.444 351.542 L122.365 334.937 
" clip-path="url(#p2195e9ecc8)" style="fill: none; stroke: #000080; stroke-opacity: 0.78; stroke-width: 0.684"/>
<path d="M 122.365 334.937 L120.194 318.344 
" clip-path="url(#p2195e9ecc8)" style="fill: none; stroke: #000080; stroke-opacity: 0.78; stroke-width: 0.684"/>
<path d="M 122.365 334.937 L139.943 374.656 
" clip-path="url(#p2195e9ecc8)" style="fill: none; stroke: #000080; stroke-opacity: 0.78; stroke-width: 0.684"/>
<path d="M 120.194 318.344 L134.412 324.675 
" clip-path="url(#p2195e9ecc8)" style="fill: none; stroke: #000080; stroke-opacity: 0.78; stroke-width: 0.684"/>
<path d="M 115.558 285.194 L128.110 274.782 
" clip-path="url(#p2195e9ecc8)" style="fill: none; stroke: #000080; stroke-opacity: 0.78; stroke-width: 0.684"/>
<path d="M 107.771 235.567 L152.186 237.755 
" clip-path="url(#p2195e9ecc8)" style="fill: none; stroke: #000080; stroke-opacity: 0.78; stroke-width: 0.684"/>
<path d="M 104.926 219.054 L118.246 208.418 
" clip-path="url(#p2195e9ecc8)" style="fill: none; stroke: #000080; stroke-opacity: 0.78; stroke-width: 0.684"/>
<path d="M 98.809 186.077 L106.275 142.279 
" clip-path="url(#p2195e9ecc8)" style="fill: none; stroke: #000080; stroke-opacity: 0.78; stroke-width: 0.684"/>
<path d="M 98.809 186.077 L123.880 148.158 
" clip-path="url(#p2195e9ecc8)" style="fill: none; stroke: #000080; stroke-opacity: 0.78; stroke-width: 0.684"/>
<path d="M 95.519 169.615 L106.275 142.279 
" clip-path="url(#p2195e9ecc8)" style="fill: none; stroke: #000080; stroke-opacity: 0.78; stroke-width: 0.684"/>
<path d="M 95.519 169.615 L102.880 125.786 
" clip-path="url(#p2195e9ecc8)" style="fill: none; stroke: #000080; stroke-opacity: 0.78; stroke-width: 0.684"/>
<path d="M 92.059 153.172 L109.498 158.790 
" clip-path="url(#p2195e9ecc8)" style="fill: none; stroke: #000080; stroke-opacity: 0.78; stroke-width: 0.684"/>
<path d="M 92.059 153.172 L106.275 142.279 
" clip-path="url(#p2195e9ecc8)" style="fill: none; stroke: #000080; stroke-opacity: 0.78; stroke-width: 0.684"/>
<path d="M 143.260 408.021 L141.636 391.335 
" clip-path="url(#p2195e9ecc8)" style="fill: none; stroke: #000080; stroke-opacity: 0.78; stroke-width: 0.684"/>
<path d="M 143.260 408.021 L139.943 374.656 
" clip-path="url(#p2195e9ecc8)" style="fill: none; stroke: #000080; stroke-opacity: 0.78; stroke-width: 0.684"/>
<path d="M 141.636 391.335 L153.302 381.389 
" clip-path="url(#p2195e9ecc8)" style="fill: none; stroke: #000080; stroke-opacity: 0.78; stroke-width: 0.684"/>
<path d="M 139.943 374.656 L151.758 364.671 
" clip-path="url(#p2195e9ecc8)" style="fill: none; stroke: #000080; stroke-opacity: 0.78; stroke-width: 0.684"/>
<path d="M 138.177 357.987 L132.404 308.033 
" clip-path="url(#p2195e9ecc8)" style="fill: none; stroke: #000080; stroke-opacity: 0.78; stroke-width: 0.684"/>
<path d="M 138.177 357.987 L173.461 311.604 
" clip-path="url(#p2195e9ecc8)" style="fill: none; stroke: #000080; stroke-opacity: 0.78; stroke-width: 0.684"/>
<path d="M 136.335 341.326 L151.758 364.671 
" clip-path="url(#p2195e9ecc8)" style="fill: none; stroke: #000080; stroke-opacity: 0.78; stroke-width: 0.684"/>
<path d="M 136.335 341.326 L148.465 331.259 
" clip-path="url(#p2195e9ecc8)" style="fill: none; stroke: #000080; stroke-opacity: 0.78; stroke-width: 0.684"/>
<path d="M 136.335 341.326 L146.709 314.564 
" clip-path="url(#p2195e9ecc8)" style="fill: none; stroke: #000080; stroke-opacity: 0.78; stroke-width: 0.684"/>
<path d="M 132.404 308.033 L125.813 258.172 
" clip-path="url(#p2195e9ecc8)" style="fill: none; stroke: #000080; stroke-opacity: 0.78; stroke-width: 0.684"/>
<path d="M 130.305 291.402 L125.813 258.172 
" clip-path="url(#p2195e9ecc8)" style="fill: none; stroke: #000080; stroke-opacity: 0.78; stroke-width: 0.684"/>
<path d="M 130.305 291.402 L142.956 281.201 
" clip-path="url(#p2195e9ecc8)" style="fill: none; stroke: #000080; stroke-opacity: 0.78; stroke-width: 0.684"/>
<path d="M 128.110 274.782 L125.813 258.172 
" clip-path="url(#p2195e9ecc8)" style="fill: none; stroke: #000080; stroke-opacity: 0.78; stroke-width: 0.684"/>
<path d="M 128.110 274.782 L154.079 254.458 
" clip-path="url(#p2195e9ecc8)" style="fill: none; stroke: #000080; stroke-opacity: 0.78; stroke-width: 0.684"/>
<path d="M 125.813 258.172 L123.409 241.575 
" clip-path="url(#p2195e9ecc8)" style="fill: none; stroke: #000080; stroke-opacity: 0.78; stroke-width: 0.684"/>
<path d="M 125.813 258.172 L134.336 214.589 
" clip-path="url(#p2195e9ecc8)" style="fill: none; stroke: #000080; stroke-opacity: 0.78; stroke-width: 0.684"/>
<path d="M 123.409 241.575 L140.948 264.533 
" clip-path="url(#p2195e9ecc8)" style="fill: none; stroke: #000080; stroke-opacity: 0.78; stroke-width: 0.684"/>
<path d="M 120.889 224.990 L134.336 214.589 
" clip-path="url(#p2195e9ecc8)" style="fill: none; stroke: #000080; stroke-opacity: 0.78; stroke-width: 0.684"/>
<path d="M 120.889 224.990 L148.121 204.375 
" clip-path="url(#p2195e9ecc8)" style="fill: none; stroke: #000080; stroke-opacity: 0.78; stroke-width: 0.684"/>
<path d="M 115.473 191.861 L112.560 175.317 
" clip-path="url(#p2195e9ecc8)" style="fill: none; stroke: #000080; stroke-opacity: 0.78; stroke-width: 0.684"/>
<path d="M 112.560 175.317 L141.220 154.377 
" clip-path="url(#p2195e9ecc8)" style="fill: none; stroke: #000080; stroke-opacity: 0.78; stroke-width: 0.684"/>
<path d="M 109.498 158.790 L138.675 137.732 
" clip-path="url(#p2195e9ecc8)" style="fill: none; stroke: #000080; stroke-opacity: 0.78; stroke-width: 0.684"/>
<path d="M 109.498 158.790 L158.287 160.926 
" clip-path="url(#p2195e9ecc8)" style="fill: none; stroke: #000080; stroke-opacity: 0.78; stroke-width: 0.684"/>
<path d="M 102.880 125.786 L99.300 109.311 
" clip-path="url(#p2195e9ecc8)" style="fill: none; stroke: #000080; stroke-opacity: 0.78; stroke-width: 0.684"/>
<path d="M 102.880 125.786 L117.790 115.024 
" clip-path="url(#p2195e9ecc8)" style="fill: none; stroke: #000080; stroke-opacity: 0.78; stroke-width: 0.684"/>
<path d="M 99.300 109.311 L114.491 98.481 
" clip-path="url(#p2195e9ecc8)" style="fill: none; stroke: #000080; stroke-opacity: 0.78; stroke-width: 0.684"/>
<path d="M 95.521 92.857 L127.003 71.278 
" clip-path="url(#p2195e9ecc8)" style="fill: none; stroke: #000080; stroke-opacity: 0.78; stroke-width: 0.684"/>
<path d="M 156.203 414.846 L154.783 398.114 
" clip-path="url(#p2195e9ecc8)" style="fill: none; stroke: #000080; stroke-opacity: 0.78; stroke-width: 0.684"/>
<path d="M 153.302 381.389 L151.758 364.671 
" clip-path="url(#p2195e9ecc8)" style="fill: none; stroke: #000080; stroke-opacity: 0.78; stroke-width: 0.684"/>
<path d="M 151.758 364.671 L166.510 388.349 
" clip-path="url(#p2195e9ecc8)" style="fill: none; stroke: #000080; stroke-opacity: 0.78; stroke-width: 0.684"/>
<path d="M 146.709 314.564 L159.261 304.615 
" clip-path="url(#p2195e9ecc8)" style="fill: none; stroke: #000080; stroke-opacity: 0.78; stroke-width: 0.684"/>
<path d="M 144.874 297.878 L173.461 311.604 
" clip-path="url(#p2195e9ecc8)" style="fill: none; stroke: #000080; stroke-opacity: 0.78; stroke-width: 0.684"/>
<path d="M 142.956 281.201 L157.611 287.888 
" clip-path="url(#p2195e9ecc8)" style="fill: none; stroke: #000080; stroke-opacity: 0.78; stroke-width: 0.684"/>
<path d="M 138.847 247.875 L136.645 231.227 
" clip-path="url(#p2195e9ecc8)" style="fill: none; stroke: #000080; stroke-opacity: 0.78; stroke-width: 0.684"/>
<path d="M 138.847 247.875 L155.885 271.169 
" clip-path="url(#p2195e9ecc8)" style="fill: none; stroke: #000080; stroke-opacity: 0.78; stroke-width: 0.684"/>
<path d="M 138.847 247.875 L165.838 227.825 
" clip-path="url(#p2195e9ecc8)" style="fill: none; stroke: #000080; stroke-opacity: 0.78; stroke-width: 0.684"/>
<path d="M 136.645 231.227 L150.202 221.061 
" clip-path="url(#p2195e9ecc8)" style="fill: none; stroke: #000080; stroke-opacity: 0.78; stroke-width: 0.684"/>
<path d="M 134.336 214.589 L148.121 204.375 
" clip-path="url(#p2195e9ecc8)" style="fill: none; stroke: #000080; stroke-opacity: 0.78; stroke-width: 0.684"/>
<path d="M 134.336 214.589 L164.088 211.089 
" clip-path="url(#p2195e9ecc8)" style="fill: none; stroke: #000080; stroke-opacity: 0.78; stroke-width: 0.684"/>
<path d="M 131.913 197.963 L148.121 204.375 
" clip-path="url(#p2195e9ecc8)" style="fill: none; stroke: #000080; stroke-opacity: 0.78; stroke-width: 0.684"/>
<path d="M 129.369 181.349 L126.694 164.747 
" clip-path="url(#p2195e9ecc8)" style="fill: none; stroke: #000080; stroke-opacity: 0.78; stroke-width: 0.684"/>
<path d="M 126.694 164.747 L143.637 171.033 
" clip-path="url(#p2195e9ecc8)" style="fill: none; stroke: #000080; stroke-opacity: 0.78; stroke-width: 0.684"/>
<path d="M 126.694 164.747 L175.072 167.795 
" clip-path="url(#p2195e9ecc8)" style="fill: none; stroke: #000080; stroke-opacity: 0.78; stroke-width: 0.684"/>
<path d="M 123.880 148.158 L120.915 131.584 
" clip-path="url(#p2195e9ecc8)" style="fill: none; stroke: #000080; stroke-opacity: 0.78; stroke-width: 0.684"/>
<path d="M 123.880 148.158 L138.675 137.732 
" clip-path="url(#p2195e9ecc8)" style="fill: none; stroke: #000080; stroke-opacity: 0.78; stroke-width: 0.684"/>
<path d="M 120.915 131.584 L141.220 154.377 
" clip-path="url(#p2195e9ecc8)" style="fill: none; stroke: #000080; stroke-opacity: 0.78; stroke-width: 0.684"/>
<path d="M 120.915 131.584 L156.148 144.222 
" clip-path="url(#p2195e9ecc8)" style="fill: none; stroke: #000080; stroke-opacity: 0.78; stroke-width: 0.684"/>
<path d="M 117.790 115.024 L133.160 104.479 
" clip-path="url(#p2195e9ecc8)" style="fill: none; stroke: #000080; stroke-opacity: 0.78; stroke-width: 0.684"/>
<path d="M 114.491 98.481 L133.160 104.479 
" clip-path="url(#p2195e9ecc8)" style="fill: none; stroke: #000080; stroke-opacity: 0.78; stroke-width: 0.684"/>
<path d="M 111.004 81.954 L130.168 87.871 
" clip-path="url(#p2195e9ecc8)" style="fill: none; stroke: #000080; stroke-opacity: 0.78; stroke-width: 0.684"/>
<path d="M 165.182 371.589 L163.796 354.836 
" clip-path="url(#p2195e9ecc8)" style="fill: none; stroke: #000080; stroke-opacity: 0.78; stroke-width: 0.684"/>
<path d="M 162.349 338.089 L174.789 328.378 
" clip-path="url(#p2195e9ecc8)" style="fill: none; stroke: #000080; stroke-opacity: 0.78; stroke-width: 0.684"/>
<path d="M 162.349 338.089 L173.461 311.604 
" clip-path="url(#p2195e9ecc8)" style="fill: none; stroke: #000080; stroke-opacity: 0.78; stroke-width: 0.684"/>
<path d="M 160.839 321.348 L186.333 302.035 
" clip-path="url(#p2195e9ecc8)" style="fill: none; stroke: #000080; stroke-opacity: 0.78; stroke-width: 0.684"/>
<path d="M 157.611 287.888 L154.079 254.458 
" clip-path="url(#p2195e9ecc8)" style="fill: none; stroke: #000080; stroke-opacity: 0.78; stroke-width: 0.684"/>
<path d="M 154.079 254.458 L152.186 237.755 
" clip-path="url(#p2195e9ecc8)" style="fill: none; stroke: #000080; stroke-opacity: 0.78; stroke-width: 0.684"/>
<path d="M 154.079 254.458 L167.507 244.568 
" clip-path="url(#p2195e9ecc8)" style="fill: none; stroke: #000080; stroke-opacity: 0.78; stroke-width: 0.684"/>
<path d="M 152.186 237.755 L148.121 204.375 
" clip-path="url(#p2195e9ecc8)" style="fill: none; stroke: #000080; stroke-opacity: 0.78; stroke-width: 0.684"/>
<path d="M 150.202 221.061 L164.088 211.089 
" clip-path="url(#p2195e9ecc8)" style="fill: none; stroke: #000080; stroke-opacity: 0.78; stroke-width: 0.684"/>
<path d="M 148.121 204.375 L192.866 191.771 
" clip-path="url(#p2195e9ecc8)" style="fill: none; stroke: #000080; stroke-opacity: 0.78; stroke-width: 0.684"/>
<path d="M 141.220 154.377 L138.675 137.732 
" clip-path="url(#p2195e9ecc8)" style="fill: none; stroke: #000080; stroke-opacity: 0.78; stroke-width: 0.684"/>
<path d="M 138.675 137.732 L153.895 127.526 
" clip-path="url(#p2195e9ecc8)" style="fill: none; stroke: #000080; stroke-opacity: 0.78; stroke-width: 0.684"/>
<path d="M 135.992 121.099 L173.326 151.041 
" clip-path="url(#p2195e9ecc8)" style="fill: none; stroke: #000080; stroke-opacity: 0.78; stroke-width: 0.684"/>
<path d="M 135.992 121.099 L188.763 141.391 
" clip-path="url(#p2195e9ecc8)" style="fill: none; stroke: #000080; stroke-opacity: 0.78; stroke-width: 0.684"/>
<path d="M 178.446 378.733 L177.279 361.943 
" clip-path="url(#p2195e9ecc8)" style="fill: none; stroke: #000080; stroke-opacity: 0.78; stroke-width: 0.684"/>
<path d="M 178.446 378.733 L191.548 386.097 
" clip-path="url(#p2195e9ecc8)" style="fill: none; stroke: #000080; stroke-opacity: 0.78; stroke-width: 0.684"/>
<path d="M 178.446 378.733 L202.136 343.146 
" clip-path="url(#p2195e9ecc8)" style="fill: none; stroke: #000080; stroke-opacity: 0.78; stroke-width: 0.684"/>
<path d="M 176.061 345.158 L188.556 335.647 
" clip-path="url(#p2195e9ecc8)" style="fill: none; stroke: #000080; stroke-opacity: 0.78; stroke-width: 0.684"/>
<path d="M 174.789 328.378 L202.136 343.146 
" clip-path="url(#p2195e9ecc8)" style="fill: none; stroke: #000080; stroke-opacity: 0.78; stroke-width: 0.684"/>
<path d="M 173.461 311.604 L186.333 302.035 
" clip-path="url(#p2195e9ecc8)" style="fill: none; stroke: #000080; stroke-opacity: 0.78; stroke-width: 0.684"/>
<path d="M 165.838 227.825 L164.088 211.089 
" clip-path="url(#p2195e9ecc8)" style="fill: none; stroke: #000080; stroke-opacity: 0.78; stroke-width: 0.684"/>
<path d="M 164.088 211.089 L178.307 201.321 
" clip-path="url(#p2195e9ecc8)" style="fill: none; stroke: #000080; stroke-opacity: 0.78; stroke-width: 0.684"/>
<path d="M 164.088 211.089 L194.101 208.573 
" clip-path="url(#p2195e9ecc8)" style="fill: none; stroke: #000080; stroke-opacity: 0.78; stroke-width: 0.684"/>
<path d="M 162.250 194.360 L178.307 201.321 
" clip-path="url(#p2195e9ecc8)" style="fill: none; stroke: #000080; stroke-opacity: 0.78; stroke-width: 0.684"/>
<path d="M 162.250 194.360 L194.101 208.573 
" clip-path="url(#p2195e9ecc8)" style="fill: none; stroke: #000080; stroke-opacity: 0.78; stroke-width: 0.684"/>
<path d="M 160.318 177.639 L176.730 184.555 
" clip-path="url(#p2195e9ecc8)" style="fill: none; stroke: #000080; stroke-opacity: 0.78; stroke-width: 0.684"/>
<path d="M 160.318 177.639 L190.201 158.179 
" clip-path="url(#p2195e9ecc8)" style="fill: none; stroke: #000080; stroke-opacity: 0.78; stroke-width: 0.684"/>
<path d="M 156.148 144.222 L153.895 127.526 
" clip-path="url(#p2195e9ecc8)" style="fill: none; stroke: #000080; stroke-opacity: 0.78; stroke-width: 0.684"/>
<path d="M 156.148 144.222 L173.326 151.041 
" clip-path="url(#p2195e9ecc8)" style="fill: none; stroke: #000080; stroke-opacity: 0.78; stroke-width: 0.684"/>
<path d="M 153.895 127.526 L151.517 110.840 
" clip-path="url(#p2195e9ecc8)" style="fill: none; stroke: #000080; stroke-opacity: 0.78; stroke-width: 0.684"/>
<path d="M 153.895 127.526 L171.488 134.294 
" clip-path="url(#p2195e9ecc8)" style="fill: none; stroke: #000080; stroke-opacity: 0.78; stroke-width: 0.684"/>
<path d="M 153.895 127.526 L188.763 141.391 
" clip-path="url(#p2195e9ecc8)" style="fill: none; stroke: #000080; stroke-opacity: 0.78; stroke-width: 0.684"/>
<path d="M 151.517 110.840 L190.201 158.179 
" clip-path="url(#p2195e9ecc8)" style="fill: none; stroke: #000080; stroke-opacity: 0.78; stroke-width: 0.684"/>
<path d="M 193.342 419.752 L205.893 427.377 
" clip-path="url(#p2195e9ecc8)" style="fill: none; stroke: #000080; stroke-opacity: 0.78; stroke-width: 0.684"/>
<path d="M 192.463 402.923 L205.203 410.524 
" clip-path="url(#p2195e9ecc8)" style="fill: none; stroke: #000080; stroke-opacity: 0.78; stroke-width: 0.684"/>
<path d="M 192.463 402.923 L204.484 393.674 
" clip-path="url(#p2195e9ecc8)" style="fill: none; stroke: #000080; stroke-opacity: 0.78; stroke-width: 0.684"/>
<path d="M 192.463 402.923 L217.783 418.326 
" clip-path="url(#p2195e9ecc8)" style="fill: none; stroke: #000080; stroke-opacity: 0.78; stroke-width: 0.684"/>
<path d="M 191.548 386.097 L216.703 384.592 
" clip-path="url(#p2195e9ecc8)" style="fill: none; stroke: #000080; stroke-opacity: 0.78; stroke-width: 0.684"/>
<path d="M 190.592 369.276 L186.333 302.035 
" clip-path="url(#p2195e9ecc8)" style="fill: none; stroke: #000080; stroke-opacity: 0.78; stroke-width: 0.684"/>
<path d="M 190.592 369.276 L204.484 393.674 
" clip-path="url(#p2195e9ecc8)" style="fill: none; stroke: #000080; stroke-opacity: 0.78; stroke-width: 0.684"/>
<path d="M 190.592 369.276 L216.703 384.592 
" clip-path="url(#p2195e9ecc8)" style="fill: none; stroke: #000080; stroke-opacity: 0.78; stroke-width: 0.684"/>
<path d="M 190.592 369.276 L228.319 341.936 
" clip-path="url(#p2195e9ecc8)" style="fill: none; stroke: #000080; stroke-opacity: 0.78; stroke-width: 0.684"/>
<path d="M 189.596 352.459 L202.136 343.146 
" clip-path="url(#p2195e9ecc8)" style="fill: none; stroke: #000080; stroke-opacity: 0.78; stroke-width: 0.684"/>
<path d="M 188.556 335.647 L187.469 318.839 
" clip-path="url(#p2195e9ecc8)" style="fill: none; stroke: #000080; stroke-opacity: 0.78; stroke-width: 0.684"/>
<path d="M 187.469 318.839 L200.392 309.479 
" clip-path="url(#p2195e9ecc8)" style="fill: none; stroke: #000080; stroke-opacity: 0.78; stroke-width: 0.684"/>
<path d="M 186.333 302.035 L214.246 317.159 
" clip-path="url(#p2195e9ecc8)" style="fill: none; stroke: #000080; stroke-opacity: 0.78; stroke-width: 0.684"/>
<path d="M 178.307 201.321 L192.866 191.771 
" clip-path="url(#p2195e9ecc8)" style="fill: none; stroke: #000080; stroke-opacity: 0.78; stroke-width: 0.684"/>
<path d="M 178.307 201.321 L191.567 174.973 
" clip-path="url(#p2195e9ecc8)" style="fill: none; stroke: #000080; stroke-opacity: 0.78; stroke-width: 0.684"/>
<path d="M 178.307 201.321 L207.768 182.448 
" clip-path="url(#p2195e9ecc8)" style="fill: none; stroke: #000080; stroke-opacity: 0.78; stroke-width: 0.684"/>
<path d="M 176.730 184.555 L191.567 174.973 
" clip-path="url(#p2195e9ecc8)" style="fill: none; stroke: #000080; stroke-opacity: 0.78; stroke-width: 0.684"/>
<path d="M 175.072 167.795 L173.326 151.041 
" clip-path="url(#p2195e9ecc8)" style="fill: none; stroke: #000080; stroke-opacity: 0.78; stroke-width: 0.684"/>
<path d="M 175.072 167.795 L192.866 191.771 
" clip-path="url(#p2195e9ecc8)" style="fill: none; stroke: #000080; stroke-opacity: 0.78; stroke-width: 0.684"/>
<path d="M 167.500 100.822 L165.334 84.097 
" clip-path="url(#p2195e9ecc8)" style="fill: none; stroke: #000080; stroke-opacity: 0.78; stroke-width: 0.684"/>
<path d="M 167.500 100.822 L187.246 124.608 
" clip-path="url(#p2195e9ecc8)" style="fill: none; stroke: #000080; stroke-opacity: 0.78; stroke-width: 0.684"/>
<path d="M 165.334 84.097 L183.952 91.058 
" clip-path="url(#p2195e9ecc8)" style="fill: none; stroke: #000080; stroke-opacity: 0.78; stroke-width: 0.684"/>
<path d="M 165.334 84.097 L200.880 81.564 
" clip-path="url(#p2195e9ecc8)" style="fill: none; stroke: #000080; stroke-opacity: 0.78; stroke-width: 0.684"/>
<path d="M 205.893 427.377 L205.203 410.524 
" clip-path="url(#p2195e9ecc8)" style="fill: none; stroke: #000080; stroke-opacity: 0.78; stroke-width: 0.684"/>
<path d="M 205.203 410.524 L204.484 393.674 
" clip-path="url(#p2195e9ecc8)" style="fill: none; stroke: #000080; stroke-opacity: 0.78; stroke-width: 0.684"/>
<path d="M 204.484 393.674 L217.254 401.457 
" clip-path="url(#p2195e9ecc8)" style="fill: none; stroke: #000080; stroke-opacity: 0.78; stroke-width: 0.684"/>
<path d="M 194.101 208.573 L191.567 174.973 
" clip-path="url(#p2195e9ecc8)" style="fill: none; stroke: #000080; stroke-opacity: 0.78; stroke-width: 0.684"/>
<path d="M 192.866 191.771 L208.720 199.275 
" clip-path="url(#p2195e9ecc8)" style="fill: none; stroke: #000080; stroke-opacity: 0.78; stroke-width: 0.684"/>
<path d="M 192.866 191.771 L207.768 182.448 
" clip-path="url(#p2195e9ecc8)" style="fill: none; stroke: #000080; stroke-opacity: 0.78; stroke-width: 0.684"/>
<path d="M 191.567 174.973 L190.201 158.179 
" clip-path="url(#p2195e9ecc8)" style="fill: none; stroke: #000080; stroke-opacity: 0.78; stroke-width: 0.684"/>
<path d="M 191.567 174.973 L188.763 141.391 
" clip-path="url(#p2195e9ecc8)" style="fill: none; stroke: #000080; stroke-opacity: 0.78; stroke-width: 0.684"/>
<path d="M 191.567 174.973 L207.768 182.448 
" clip-path="url(#p2195e9ecc8)" style="fill: none; stroke: #000080; stroke-opacity: 0.78; stroke-width: 0.684"/>
<path d="M 191.567 174.973 L203.429 115.177 
" clip-path="url(#p2195e9ecc8)" style="fill: none; stroke: #000080; stroke-opacity: 0.78; stroke-width: 0.684"/>
<path d="M 190.201 158.179 L205.713 148.805 
" clip-path="url(#p2195e9ecc8)" style="fill: none; stroke: #000080; stroke-opacity: 0.78; stroke-width: 0.684"/>
<path d="M 188.763 141.391 L203.429 115.177 
" clip-path="url(#p2195e9ecc8)" style="fill: none; stroke: #000080; stroke-opacity: 0.78; stroke-width: 0.684"/>
<path d="M 187.246 124.608 L183.952 91.058 
" clip-path="url(#p2195e9ecc8)" style="fill: none; stroke: #000080; stroke-opacity: 0.78; stroke-width: 0.684"/>
<path d="M 187.246 124.608 L204.602 131.989 
" clip-path="url(#p2195e9ecc8)" style="fill: none; stroke: #000080; stroke-opacity: 0.78; stroke-width: 0.684"/>
<path d="M 185.644 107.830 L203.429 115.177 
" clip-path="url(#p2195e9ecc8)" style="fill: none; stroke: #000080; stroke-opacity: 0.78; stroke-width: 0.684"/>
<path d="M 183.952 91.058 L220.044 106.016 
" clip-path="url(#p2195e9ecc8)" style="fill: none; stroke: #000080; stroke-opacity: 0.78; stroke-width: 0.684"/>
<path d="M 183.952 91.058 L217.339 55.532 
" clip-path="url(#p2195e9ecc8)" style="fill: none; stroke: #000080; stroke-opacity: 0.78; stroke-width: 0.684"/>
<path d="M 182.161 74.291 L200.880 81.564 
" clip-path="url(#p2195e9ecc8)" style="fill: none; stroke: #000080; stroke-opacity: 0.78; stroke-width: 0.684"/>
<path d="M 217.783 418.326 L242.112 400.724 
" clip-path="url(#p2195e9ecc8)" style="fill: none; stroke: #000080; stroke-opacity: 0.78; stroke-width: 0.684"/>
<path d="M 217.254 401.457 L229.856 409.439 
" clip-path="url(#p2195e9ecc8)" style="fill: none; stroke: #000080; stroke-opacity: 0.78; stroke-width: 0.684"/>
<path d="M 216.703 384.592 L216.127 367.729 
" clip-path="url(#p2195e9ecc8)" style="fill: none; stroke: #000080; stroke-opacity: 0.78; stroke-width: 0.684"/>
<path d="M 216.703 384.592 L214.900 334.013 
" clip-path="url(#p2195e9ecc8)" style="fill: none; stroke: #000080; stroke-opacity: 0.78; stroke-width: 0.684"/>
<path d="M 216.703 384.592 L229.496 392.559 
" clip-path="url(#p2195e9ecc8)" style="fill: none; stroke: #000080; stroke-opacity: 0.78; stroke-width: 0.684"/>
<path d="M 204.602 131.989 L203.429 115.177 
" clip-path="url(#p2195e9ecc8)" style="fill: none; stroke: #000080; stroke-opacity: 0.78; stroke-width: 0.684"/>
<path d="M 203.429 115.177 L221.611 139.685 
" clip-path="url(#p2195e9ecc8)" style="fill: none; stroke: #000080; stroke-opacity: 0.78; stroke-width: 0.684"/>
<path d="M 202.191 98.368 L219.194 89.185 
" clip-path="url(#p2195e9ecc8)" style="fill: none; stroke: #000080; stroke-opacity: 0.78; stroke-width: 0.684"/>
<path d="M 202.191 98.368 L236.658 80.295 
" clip-path="url(#p2195e9ecc8)" style="fill: none; stroke: #000080; stroke-opacity: 0.78; stroke-width: 0.684"/>
<path d="M 200.880 81.564 L218.293 72.357 
" clip-path="url(#p2195e9ecc8)" style="fill: none; stroke: #000080; stroke-opacity: 0.78; stroke-width: 0.684"/>
<path d="M 199.493 64.764 L219.194 89.185 
" clip-path="url(#p2195e9ecc8)" style="fill: none; stroke: #000080; stroke-opacity: 0.78; stroke-width: 0.684"/>
<path d="M 199.493 64.764 L218.293 72.357 
" clip-path="url(#p2195e9ecc8)" style="fill: none; stroke: #000080; stroke-opacity: 0.78; stroke-width: 0.684"/>
<path d="M 199.493 64.764 L254.591 54.867 
" clip-path="url(#p2195e9ecc8)" style="fill: none; stroke: #000080; stroke-opacity: 0.78; stroke-width: 0.684"/>
<path d="M 229.856 409.439 L229.496 392.559 
" clip-path="url(#p2195e9ecc8)" style="fill: none; stroke: #000080; stroke-opacity: 0.78; stroke-width: 0.684"/>
<path d="M 221.611 139.685 L237.899 130.834 
" clip-path="url(#p2195e9ecc8)" style="fill: none; stroke: #000080; stroke-opacity: 0.78; stroke-width: 0.684"/>
<path d="M 220.849 122.849 L254.582 105.412 
" clip-path="url(#p2195e9ecc8)" style="fill: none; stroke: #000080; stroke-opacity: 0.78; stroke-width: 0.684"/>
<path d="M 220.044 106.016 L237.095 97.139 
" clip-path="url(#p2195e9ecc8)" style="fill: none; stroke: #000080; stroke-opacity: 0.78; stroke-width: 0.684"/>
<path d="M 219.194 89.185 L237.095 97.139 
" clip-path="url(#p2195e9ecc8)" style="fill: none; stroke: #000080; stroke-opacity: 0.78; stroke-width: 0.684"/>
<path d="M 218.293 72.357 L236.658 80.295 
" clip-path="url(#p2195e9ecc8)" style="fill: none; stroke: #000080; stroke-opacity: 0.78; stroke-width: 0.684"/>
<path d="M 218.293 72.357 L236.195 63.452 
" clip-path="url(#p2195e9ecc8)" style="fill: none; stroke: #000080; stroke-opacity: 0.78; stroke-width: 0.684"/>
<path d="M 218.293 72.357 L254.582 105.412 
" clip-path="url(#p2195e9ecc8)" style="fill: none; stroke: #000080; stroke-opacity: 0.78; stroke-width: 0.684"/>
<path d="M 242.112 400.724 L254.552 409.078 
" clip-path="url(#p2195e9ecc8)" style="fill: none; stroke: #000080; stroke-opacity: 0.78; stroke-width: 0.684"/>
<path d="M 242.112 400.724 L266.993 400.726 
" clip-path="url(#p2195e9ecc8)" style="fill: none; stroke: #000080; stroke-opacity: 0.78; stroke-width: 0.684"/>
<path d="M 237.899 130.834 L254.577 139.118 
" clip-path="url(#p2195e9ecc8)" style="fill: none; stroke: #000080; stroke-opacity: 0.78; stroke-width: 0.684"/>
<path d="M 237.508 113.985 L237.095 97.139 
" clip-path="url(#p2195e9ecc8)" style="fill: none; stroke: #000080; stroke-opacity: 0.78; stroke-width: 0.684"/>
<path d="M 237.508 113.985 L254.580 122.264 
" clip-path="url(#p2195e9ecc8)" style="fill: none; stroke: #000080; stroke-opacity: 0.78; stroke-width: 0.684"/>
<path d="M 237.508 113.985 L254.582 105.412 
" clip-path="url(#p2195e9ecc8)" style="fill: none; stroke: #000080; stroke-opacity: 0.78; stroke-width: 0.684"/>
<path d="M 237.095 97.139 L254.580 122.264 
" clip-path="url(#p2195e9ecc8)" style="fill: none; stroke: #000080; stroke-opacity: 0.78; stroke-width: 0.684"/>
<path d="M 237.095 97.139 L254.582 105.412 
" clip-path="url(#p2195e9ecc8)" style="fill: none; stroke: #000080; stroke-opacity: 0.78; stroke-width: 0.684"/>
<path d="M 236.658 80.295 L254.577 139.118 
" clip-path="url(#p2195e9ecc8)" style="fill: none; stroke: #000080; stroke-opacity: 0.78; stroke-width: 0.684"/>
<path d="M 236.658 80.295 L272.983 63.457 
" clip-path="url(#p2195e9ecc8)" style="fill: none; stroke: #000080; stroke-opacity: 0.78; stroke-width: 0.684"/>
<path d="M 254.580 122.264 L271.258 130.837 
" clip-path="url(#p2195e9ecc8)" style="fill: none; stroke: #000080; stroke-opacity: 0.78; stroke-width: 0.684"/>
<path d="M 254.580 122.264 L289.976 89.193 
" clip-path="url(#p2195e9ecc8)" style="fill: none; stroke: #000080; stroke-opacity: 0.78; stroke-width: 0.684"/>
<path d="M 254.585 88.561 L272.514 80.298 
" clip-path="url(#p2195e9ecc8)" style="fill: none; stroke: #000080; stroke-opacity: 0.78; stroke-width: 0.684"/>
<path d="M 254.588 71.713 L272.983 63.457 
" clip-path="url(#p2195e9ecc8)" style="fill: none; stroke: #000080; stroke-opacity: 0.78; stroke-width: 0.684"/>
<path d="M 254.588 71.713 L290.882 72.365 
" clip-path="url(#p2195e9ecc8)" style="fill: none; stroke: #000080; stroke-opacity: 0.78; stroke-width: 0.684"/>
<path d="M 254.588 71.713 L306.976 98.380 
" clip-path="url(#p2195e9ecc8)" style="fill: none; stroke: #000080; stroke-opacity: 0.78; stroke-width: 0.684"/>
<path d="M 254.591 54.867 L308.291 81.576 
" clip-path="url(#p2195e9ecc8)" style="fill: none; stroke: #000080; stroke-opacity: 0.78; stroke-width: 0.684"/>
<path d="M 271.258 130.837 L272.072 97.143 
" clip-path="url(#p2195e9ecc8)" style="fill: none; stroke: #000080; stroke-opacity: 0.78; stroke-width: 0.684"/>
<path d="M 272.072 97.143 L272.514 80.298 
" clip-path="url(#p2195e9ecc8)" style="fill: none; stroke: #000080; stroke-opacity: 0.78; stroke-width: 0.684"/>
<path d="M 272.514 80.298 L321.913 124.622 
" clip-path="url(#p2195e9ecc8)" style="fill: none; stroke: #000080; stroke-opacity: 0.78; stroke-width: 0.684"/>
<path d="M 288.310 122.856 L289.120 106.023 
" clip-path="url(#p2195e9ecc8)" style="fill: none; stroke: #000080; stroke-opacity: 0.78; stroke-width: 0.684"/>
<path d="M 289.120 106.023 L289.976 89.193 
" clip-path="url(#p2195e9ecc8)" style="fill: none; stroke: #000080; stroke-opacity: 0.78; stroke-width: 0.684"/>
<path d="M 289.976 89.193 L290.882 72.365 
" clip-path="url(#p2195e9ecc8)" style="fill: none; stroke: #000080; stroke-opacity: 0.78; stroke-width: 0.684"/>
<path d="M 289.976 89.193 L306.976 98.380 
" clip-path="url(#p2195e9ecc8)" style="fill: none; stroke: #000080; stroke-opacity: 0.78; stroke-width: 0.684"/>
<path d="M 303.439 148.815 L306.976 98.380 
" clip-path="url(#p2195e9ecc8)" style="fill: none; stroke: #000080; stroke-opacity: 0.78; stroke-width: 0.684"/>
<path d="M 305.732 115.188 L306.976 98.380 
" clip-path="url(#p2195e9ecc8)" style="fill: none; stroke: #000080; stroke-opacity: 0.78; stroke-width: 0.684"/>
<path d="M 306.976 98.380 L325.216 91.073 
" clip-path="url(#p2195e9ecc8)" style="fill: none; stroke: #000080; stroke-opacity: 0.78; stroke-width: 0.684"/>
<path d="M 306.976 98.380 L355.262 127.548 
" clip-path="url(#p2195e9ecc8)" style="fill: none; stroke: #000080; stroke-opacity: 0.78; stroke-width: 0.684"/>
<path d="M 308.291 81.576 L325.216 91.073 
" clip-path="url(#p2195e9ecc8)" style="fill: none; stroke: #000080; stroke-opacity: 0.78; stroke-width: 0.684"/>
<path d="M 309.684 64.776 L343.835 84.116 
" clip-path="url(#p2195e9ecc8)" style="fill: none; stroke: #000080; stroke-opacity: 0.78; stroke-width: 0.684"/>
<path d="M 325.216 91.073 L327.013 74.307 
" clip-path="url(#p2195e9ecc8)" style="fill: none; stroke: #000080; stroke-opacity: 0.78; stroke-width: 0.684"/>
<path d="M 325.216 91.073 L343.835 84.116 
" clip-path="url(#p2195e9ecc8)" style="fill: none; stroke: #000080; stroke-opacity: 0.78; stroke-width: 0.684"/>
<path d="M 335.824 151.058 L357.644 110.863 
" clip-path="url(#p2195e9ecc8)" style="fill: none; stroke: #000080; stroke-opacity: 0.78; stroke-width: 0.684"/>
<path d="M 343.835 84.116 L346.133 67.400 
" clip-path="url(#p2195e9ecc8)" style="fill: none; stroke: #000080; stroke-opacity: 0.78; stroke-width: 0.684"/>
<path d="M 343.835 84.116 L360.161 94.187 
" clip-path="url(#p2195e9ecc8)" style="fill: none; stroke: #000080; stroke-opacity: 0.78; stroke-width: 0.684"/>
<path d="M 226.173 244.8 L225.978 257.618 
" clip-path="url(#p2195e9ecc8)" style="fill: none; stroke: #000080; stroke-opacity: 0.78; stroke-width: 0.684"/>
<path d="M 226.978 291.337 L227.892 325.067 
" clip-path="url(#p2195e9ecc8)" style="fill: none; stroke: #000080; stroke-opacity: 0.78; stroke-width: 0.684"/>
<path d="M 225.978 257.618 L240.134 248.837 
" clip-path="url(#p2195e9ecc8)" style="fill: none; stroke: #000080; stroke-opacity: 0.78; stroke-width: 0.684"/>
<path d="M 240.883 299.445 L241.111 316.319 
" clip-path="url(#p2195e9ecc8)" style="fill: none; stroke: #000080; stroke-opacity: 0.78; stroke-width: 0.684"/>
<path d="M 199.461 292.652 L186.333 302.035 
" clip-path="url(#p2195e9ecc8)" style="fill: none; stroke: #000080; stroke-opacity: 0.78; stroke-width: 0.684"/>
<path d="M 186.333 302.035 L187.469 318.839 
" clip-path="url(#p2195e9ecc8)" style="fill: none; stroke: #000080; stroke-opacity: 0.78; stroke-width: 0.684"/>
<path d="M 187.469 318.839 L188.608 352.8 
" clip-path="url(#p2195e9ecc8)" style="fill: none; stroke: #000080; stroke-opacity: 0.78; stroke-width: 0.684"/>
<path d="M 186.333 302.035 L214.246 317.159 
" clip-path="url(#p2195e9ecc8)" style="fill: none; stroke: #000080; stroke-opacity: 0.78; stroke-width: 0.684"/>
<path d="M 214.246 317.159 L227.892 325.067 
" clip-path="url(#p2195e9ecc8)" style="fill: none; stroke: #000080; stroke-opacity: 0.78; stroke-width: 0.684"/>
<path d="M 213.561 300.309 L214.246 317.159 
" clip-path="url(#p2195e9ecc8)" style="fill: none; stroke: #000080; stroke-opacity: 0.78; stroke-width: 0.684"/>
<path d="M 214.246 317.159 L214.900 334.013 
" clip-path="url(#p2195e9ecc8)" style="fill: none; stroke: #000080; stroke-opacity: 0.78; stroke-width: 0.684"/>
<path d="M 214.900 334.013 L216 352.8 
" clip-path="url(#p2195e9ecc8)" style="fill: none; stroke: #000080; stroke-opacity: 0.78; stroke-width: 0.684"/>
<path d="M 214.900 334.013 L227.892 325.067 
" clip-path="url(#p2195e9ecc8)" style="fill: none; stroke: #000080; stroke-opacity: 0.78; stroke-width: 0.684"/>
<path d="M 173.461 311.604 L175.304 352.8 
" clip-path="url(#p2195e9ecc8)" style="fill: none; stroke: #000080; stroke-opacity: 0.78; stroke-width: 0.684"/>
<path d="M 162 318.365 L173.461 311.604 
" clip-path="url(#p2195e9ecc8)" style="fill: none; stroke: #000080; stroke-opacity: 0.78; stroke-width: 0.684"/>
<path d="M 162 263.582 L170.619 278.073 
" clip-path="url(#p2195e9ecc8)" style="fill: none; stroke: #000080; stroke-opacity: 0.78; stroke-width: 0.684"/>
<path d="M 241.329 333.195 L241.538 350.074 
" clip-path="url(#p2195e9ecc8)" style="fill: none; stroke: #000080; stroke-opacity: 0.78; stroke-width: 0.684"/>
<path d="M 254.558 324.654 L254.557 341.534 
" clip-path="url(#p2195e9ecc8)" style="fill: none; stroke: #000080; stroke-opacity: 0.78; stroke-width: 0.684"/>
<path d="M 241.538 350.074 L254.557 341.534 
" clip-path="url(#p2195e9ecc8)" style="fill: none; stroke: #000080; stroke-opacity: 0.78; stroke-width: 0.684"/>
<path d="M 254.557 341.534 L270 334.017 
" clip-path="url(#p2195e9ecc8)" style="fill: none; stroke: #000080; stroke-opacity: 0.78; stroke-width: 0.684"/>
<path d="M 300.419 199.285 L299.510 216.115 
" clip-path="url(#p2195e9ecc8)" style="fill: none; stroke: #000080; stroke-opacity: 0.78; stroke-width: 0.684"/>
<path d="M 285.652 199.408 L284.869 215.060 
" clip-path="url(#p2195e9ecc8)" style="fill: none; stroke: #000080; stroke-opacity: 0.78; stroke-width: 0.684"/>
<path d="M 270 188.452 L285.652 199.408 
" clip-path="url(#p2195e9ecc8)" style="fill: none; stroke: #000080; stroke-opacity: 0.78; stroke-width: 0.684"/>
<path d="M 270 164.973 L301.375 182.458 
" clip-path="url(#p2195e9ecc8)" style="fill: none; stroke: #000080; stroke-opacity: 0.78; stroke-width: 0.684"/>
<path d="M 301.375 182.458 L330.832 201.337 
" clip-path="url(#p2195e9ecc8)" style="fill: none; stroke: #000080; stroke-opacity: 0.78; stroke-width: 0.684"/>
<path d="M 330.832 201.337 L329.327 218.109 
" clip-path="url(#p2195e9ecc8)" style="fill: none; stroke: #000080; stroke-opacity: 0.78; stroke-width: 0.684"/>
<path d="M 329.327 218.109 L328.695 244.8 
" clip-path="url(#p2195e9ecc8)" style="fill: none; stroke: #000080; stroke-opacity: 0.78; stroke-width: 0.684"/>
<path d="M 335.824 151.058 L365.507 171.056 
" clip-path="url(#p2195e9ecc8)" style="fill: none; stroke: #000080; stroke-opacity: 0.78; stroke-width: 0.684"/>
<path d="M 335.824 151.058 L335.739 136.8 
" clip-path="url(#p2195e9ecc8)" style="fill: none; stroke: #000080; stroke-opacity: 0.78; stroke-width: 0.684"/>
<path d="M 270 152.452 L286.817 156.531 
" clip-path="url(#p2195e9ecc8)" style="fill: none; stroke: #000080; stroke-opacity: 0.78; stroke-width: 0.684"/>
<path d="M 365.507 171.056 L348.825 177.659 
" clip-path="url(#p2195e9ecc8)" style="fill: none; stroke: #000080; stroke-opacity: 0.78; stroke-width: 0.684"/>
<path d="M 361.016 204.397 L378 197.843 
" clip-path="url(#p2195e9ecc8)" style="fill: none; stroke: #000080; stroke-opacity: 0.78; stroke-width: 0.684"/>
<path d="M 361.016 204.397 L345.048 211.107 
" clip-path="url(#p2195e9ecc8)" style="fill: none; stroke: #000080; stroke-opacity: 0.78; stroke-width: 0.684"/>
<path d="M 361.016 204.397 L363.206 187.722 
" clip-path="url(#p2195e9ecc8)" style="fill: none; stroke: #000080; stroke-opacity: 0.78; stroke-width: 0.684"/>
<path d="M 313.857 225.393 L312.733 242.204 
" clip-path="url(#p2195e9ecc8)" style="fill: none; stroke: #000080; stroke-opacity: 0.78; stroke-width: 0.684"/>
<path d="M 302.381 165.635 L317.578 174.986 
" clip-path="url(#p2195e9ecc8)" style="fill: none; stroke: #000080; stroke-opacity: 0.78; stroke-width: 0.684"/>
<path d="M 286.127 173.373 L301.375 182.458 
" clip-path="url(#p2195e9ecc8)" style="fill: none; stroke: #000080; stroke-opacity: 0.78; stroke-width: 0.684"/>
<path d="M 365.507 171.056 L417.087 153.206 
" clip-path="url(#p2195e9ecc8)" style="fill: none; stroke: #000080; stroke-opacity: 0.78; stroke-width: 0.684"/>
<path d="M 417.087 153.206 L413.624 169.648 
" clip-path="url(#p2195e9ecc8)" style="fill: none; stroke: #000080; stroke-opacity: 0.78; stroke-width: 0.684"/>
<path d="M 396.582 175.347 L413.624 169.648 
" clip-path="url(#p2195e9ecc8)" style="fill: none; stroke: #000080; stroke-opacity: 0.78; stroke-width: 0.684"/>
<path d="M 365.507 171.056 L396.582 175.347 
" clip-path="url(#p2195e9ecc8)" style="fill: none; stroke: #000080; stroke-opacity: 0.78; stroke-width: 0.684"/>
<path d="M 370.478 137.757 L365.507 171.056 
" clip-path="url(#p2195e9ecc8)" style="fill: none; stroke: #000080; stroke-opacity: 0.78; stroke-width: 0.684"/>
<path d="M 361.016 204.397 L377.224 197.988 
" clip-path="url(#p2195e9ecc8)" style="fill: none; stroke: #000080; stroke-opacity: 0.78; stroke-width: 0.684"/>
<path d="M 224.880 223.909 L225.391 244.8 
" clip-path="url(#p2195e9ecc8)" style="fill: none; stroke: #000080; stroke-opacity: 0.78; stroke-width: 0.684"/>
<path d="M 221.611 139.685 L222.333 156.525 
" clip-path="url(#p2195e9ecc8)" style="fill: none; stroke: #000080; stroke-opacity: 0.78; stroke-width: 0.684"/>
<path d="M 205.713 148.805 L221.611 139.685 
" clip-path="url(#p2195e9ecc8)" style="fill: none; stroke: #000080; stroke-opacity: 0.78; stroke-width: 0.684"/>
<path d="M 355.048 254.478 L338.4 262.956 
" clip-path="url(#p2195e9ecc8)" style="fill: none; stroke: #000080; stroke-opacity: 0.78; stroke-width: 0.684"/>
<path d="M 356.944 237.776 L372.486 231.251 
" clip-path="url(#p2195e9ecc8)" style="fill: none; stroke: #000080; stroke-opacity: 0.78; stroke-width: 0.684"/>
<path d="M 322.786 302.049 L323.976 285.250 
" clip-path="url(#p2195e9ecc8)" style="fill: none; stroke: #000080; stroke-opacity: 0.78; stroke-width: 0.684"/>
<path d="M 323.976 285.250 L338.503 278.090 
" clip-path="url(#p2195e9ecc8)" style="fill: none; stroke: #000080; stroke-opacity: 0.78; stroke-width: 0.684"/>
<path d="M 338.503 278.090 L337.048 294.852 
" clip-path="url(#p2195e9ecc8)" style="fill: none; stroke: #000080; stroke-opacity: 0.78; stroke-width: 0.684"/>
<path d="M 340.027 261.334 L338.503 278.090 
" clip-path="url(#p2195e9ecc8)" style="fill: none; stroke: #000080; stroke-opacity: 0.78; stroke-width: 0.684"/>
<path d="M 355.048 254.478 L325.222 268.457 
" clip-path="url(#p2195e9ecc8)" style="fill: none; stroke: #000080; stroke-opacity: 0.78; stroke-width: 0.684"/>
<path d="M 325.222 268.457 L311.661 259.019 
" clip-path="url(#p2195e9ecc8)" style="fill: none; stroke: #000080; stroke-opacity: 0.78; stroke-width: 0.684"/>
<path d="M 340.027 261.334 L355.048 254.478 
" clip-path="url(#p2195e9ecc8)" style="fill: none; stroke: #000080; stroke-opacity: 0.78; stroke-width: 0.684"/>
<path d="M 340.027 261.334 L325.222 268.457 
" clip-path="url(#p2195e9ecc8)" style="fill: none; stroke: #000080; stroke-opacity: 0.78; stroke-width: 0.684"/>
<path d="M 340.027 261.334 L340.434 244.8 
" clip-path="url(#p2195e9ecc8)" style="fill: none; stroke: #000080; stroke-opacity: 0.78; stroke-width: 0.684"/>
<path d="M 307.832 326.321 L294.214 334.020 
" clip-path="url(#p2195e9ecc8)" style="fill: none; stroke: #000080; stroke-opacity: 0.78; stroke-width: 0.684"/>
<path d="M 281.224 325.073 L270 317.582 
" clip-path="url(#p2195e9ecc8)" style="fill: none; stroke: #000080; stroke-opacity: 0.78; stroke-width: 0.684"/>
<path d="M 281.224 325.073 L294.214 334.020 
" clip-path="url(#p2195e9ecc8)" style="fill: none; stroke: #000080; stroke-opacity: 0.78; stroke-width: 0.684"/>
<path d="M 294.214 334.020 L293.585 350.877 
" clip-path="url(#p2195e9ecc8)" style="fill: none; stroke: #000080; stroke-opacity: 0.78; stroke-width: 0.684"/>
<path d="M 294.214 334.020 L270 348.104 
" clip-path="url(#p2195e9ecc8)" style="fill: none; stroke: #000080; stroke-opacity: 0.78; stroke-width: 0.684"/>
<path d="M 322.786 302.049 L294.871 317.167 
" clip-path="url(#p2195e9ecc8)" style="fill: none; stroke: #000080; stroke-opacity: 0.78; stroke-width: 0.684"/>
<path d="M 294.871 317.167 L281.224 325.073 
" clip-path="url(#p2195e9ecc8)" style="fill: none; stroke: #000080; stroke-opacity: 0.78; stroke-width: 0.684"/>
<path d="M 311.661 259.019 L297.818 249.786 
" clip-path="url(#p2195e9ecc8)" style="fill: none; stroke: #000080; stroke-opacity: 0.78; stroke-width: 0.684"/>
<path d="M 328.916 57.548 L346.133 67.400 
" clip-path="url(#p2195e9ecc8)" style="fill: none; stroke: #000080; stroke-opacity: 0.78; stroke-width: 0.684"/>
<path d="M 328.916 57.548 L327.013 74.307 
" clip-path="url(#p2195e9ecc8)" style="fill: none; stroke: #000080; stroke-opacity: 0.78; stroke-width: 0.684"/>
<path d="M 270 82.017 L327.013 74.307 
" clip-path="url(#p2195e9ecc8)" style="fill: none; stroke: #000080; stroke-opacity: 0.78; stroke-width: 0.684"/>
<path d="M 270 75.756 L346.133 67.400 
" clip-path="url(#p2195e9ecc8)" style="fill: none; stroke: #000080; stroke-opacity: 0.78; stroke-width: 0.684"/>
<path d="M 327.013 74.307 L343.835 84.116 
" clip-path="url(#p2195e9ecc8)" style="fill: none; stroke: #000080; stroke-opacity: 0.78; stroke-width: 0.684"/>
<path d="M 325.216 91.073 L289.976 89.193 
" clip-path="url(#p2195e9ecc8)" style="fill: none; stroke: #000080; stroke-opacity: 0.78; stroke-width: 0.684"/>
<path d="M 289.976 89.193 L289.120 106.023 
" clip-path="url(#p2195e9ecc8)" style="fill: none; stroke: #000080; stroke-opacity: 0.78; stroke-width: 0.684"/>
<path d="M 339.305 108 L337.667 134.312 
" clip-path="url(#p2195e9ecc8)" style="fill: none; stroke: #000080; stroke-opacity: 0.78; stroke-width: 0.684"/>
<path d="M 337.667 134.312 L353.003 144.243 
" clip-path="url(#p2195e9ecc8)" style="fill: none; stroke: #000080; stroke-opacity: 0.78; stroke-width: 0.684"/>
<path d="M 191.548 386.097 L179.565 395.529 
" clip-path="url(#p2195e9ecc8)" style="fill: none; stroke: #000080; stroke-opacity: 0.78; stroke-width: 0.684"/>
<path d="M 191.548 386.097 L204.484 393.674 
" clip-path="url(#p2195e9ecc8)" style="fill: none; stroke: #000080; stroke-opacity: 0.78; stroke-width: 0.684"/>
<path d="M 205.893 427.377 L205.203 410.524 
" clip-path="url(#p2195e9ecc8)" style="fill: none; stroke: #000080; stroke-opacity: 0.78; stroke-width: 0.684"/>
<path d="M 242.112 400.724 L242.288 417.612 
" clip-path="url(#p2195e9ecc8)" style="fill: none; stroke: #000080; stroke-opacity: 0.78; stroke-width: 0.684"/>
<path d="M 242.288 417.612 L254.552 409.078 
" clip-path="url(#p2195e9ecc8)" style="fill: none; stroke: #000080; stroke-opacity: 0.78; stroke-width: 0.684"/>
<path d="M 254.552 409.078 L266.815 417.614 
" clip-path="url(#p2195e9ecc8)" style="fill: none; stroke: #000080; stroke-opacity: 0.78; stroke-width: 0.684"/>
<path d="M 204.484 393.674 L205.203 410.524 
" clip-path="url(#p2195e9ecc8)" style="fill: none; stroke: #000080; stroke-opacity: 0.78; stroke-width: 0.684"/>
<path d="M 193.342 419.752 L205.203 410.524 
" clip-path="url(#p2195e9ecc8)" style="fill: none; stroke: #000080; stroke-opacity: 0.78; stroke-width: 0.684"/>
<path d="M 203.734 376.828 L204.484 393.674 
" clip-path="url(#p2195e9ecc8)" style="fill: none; stroke: #000080; stroke-opacity: 0.78; stroke-width: 0.684"/>
<path d="M 191.548 386.097 L203.734 376.828 
" clip-path="url(#p2195e9ecc8)" style="fill: none; stroke: #000080; stroke-opacity: 0.78; stroke-width: 0.684"/>
<path d="M 131.939 418.062 L144.819 424.715 
" clip-path="url(#p2195e9ecc8)" style="fill: none; stroke: #000080; stroke-opacity: 0.78; stroke-width: 0.684"/>
<path d="M 131.939 418.062 L143.260 408.021 
" clip-path="url(#p2195e9ecc8)" style="fill: none; stroke: #000080; stroke-opacity: 0.78; stroke-width: 0.684"/>
<path d="M 131.939 418.062 L130.180 401.418 
" clip-path="url(#p2195e9ecc8)" style="fill: none; stroke: #000080; stroke-opacity: 0.78; stroke-width: 0.684"/>
<path d="M 131.939 418.062 L118.931 411.630 
" clip-path="url(#p2195e9ecc8)" style="fill: none; stroke: #000080; stroke-opacity: 0.78; stroke-width: 0.684"/>
<path d="M 94.838 415.926 L105.799 405.425 
" clip-path="url(#p2195e9ecc8)" style="fill: none; stroke: #000080; stroke-opacity: 0.78; stroke-width: 0.684"/>
<path d="M 144.819 424.715 L143.260 408.021 
" clip-path="url(#p2195e9ecc8)" style="fill: none; stroke: #000080; stroke-opacity: 0.78; stroke-width: 0.684"/>
<path d="M 105.799 405.425 L103.626 388.898 
" clip-path="url(#p2195e9ecc8)" style="fill: none; stroke: #000080; stroke-opacity: 0.78; stroke-width: 0.684"/>
</g>
<g id="LineCollection_3">
<path d="M 94.838 415.926 L105.799 405.425 
" clip-path="url(#p2195e9ecc8)" style="fill: none; stroke: #000080; stroke-opacity: 0.8; stroke-width: 1.08"/>
<path d="M 103.626 388.898 L130.180 401.418 
" clip-path="url(#p2195e9ecc8)" style="fill: none; stroke: #000080; stroke-opacity: 0.8; stroke-width: 1.08"/>
<path d="M 116.967 395.041 L166.510 388.349 
" clip-path="url(#p2195e9ecc8)" style="fill: none; stroke: #000080; stroke-opacity: 0.8; stroke-width: 1.08"/>
<path d="M 124.444 351.542 L120.194 318.344 
" clip-path="url(#p2195e9ecc8)" style="fill: none; stroke: #000080; stroke-opacity: 0.8; stroke-width: 1.08"/>
<path d="M 124.444 351.542 L177.279 361.943 
" clip-path="url(#p2195e9ecc8)" style="fill: none; stroke: #000080; stroke-opacity: 0.8; stroke-width: 1.08"/>
<path d="M 115.558 285.194 L154.079 254.458 
" clip-path="url(#p2195e9ecc8)" style="fill: none; stroke: #000080; stroke-opacity: 0.8; stroke-width: 1.08"/>
<path d="M 113.080 268.638 L125.813 258.172 
" clip-path="url(#p2195e9ecc8)" style="fill: none; stroke: #000080; stroke-opacity: 0.8; stroke-width: 1.08"/>
<path d="M 143.260 408.021 L154.783 398.114 
" clip-path="url(#p2195e9ecc8)" style="fill: none; stroke: #000080; stroke-opacity: 0.8; stroke-width: 1.08"/>
<path d="M 138.177 357.987 L154.783 398.114 
" clip-path="url(#p2195e9ecc8)" style="fill: none; stroke: #000080; stroke-opacity: 0.8; stroke-width: 1.08"/>
<path d="M 109.498 158.790 L126.694 164.747 
" clip-path="url(#p2195e9ecc8)" style="fill: none; stroke: #000080; stroke-opacity: 0.8; stroke-width: 1.08"/>
<path d="M 109.498 158.790 L141.220 154.377 
" clip-path="url(#p2195e9ecc8)" style="fill: none; stroke: #000080; stroke-opacity: 0.8; stroke-width: 1.08"/>
<path d="M 99.300 109.311 L133.160 104.479 
" clip-path="url(#p2195e9ecc8)" style="fill: none; stroke: #000080; stroke-opacity: 0.8; stroke-width: 1.08"/>
<path d="M 153.302 381.389 L179.565 395.529 
" clip-path="url(#p2195e9ecc8)" style="fill: none; stroke: #000080; stroke-opacity: 0.8; stroke-width: 1.08"/>
<path d="M 153.302 381.389 L174.789 328.378 
" clip-path="url(#p2195e9ecc8)" style="fill: none; stroke: #000080; stroke-opacity: 0.8; stroke-width: 1.08"/>
<path d="M 142.956 281.201 L140.948 264.533 
" clip-path="url(#p2195e9ecc8)" style="fill: none; stroke: #000080; stroke-opacity: 0.8; stroke-width: 1.08"/>
<path d="M 142.956 281.201 L155.885 271.169 
" clip-path="url(#p2195e9ecc8)" style="fill: none; stroke: #000080; stroke-opacity: 0.8; stroke-width: 1.08"/>
<path d="M 114.491 98.481 L163.042 67.380 
" clip-path="url(#p2195e9ecc8)" style="fill: none; stroke: #000080; stroke-opacity: 0.8; stroke-width: 1.08"/>
<path d="M 162.349 338.089 L202.136 343.146 
" clip-path="url(#p2195e9ecc8)" style="fill: none; stroke: #000080; stroke-opacity: 0.8; stroke-width: 1.08"/>
<path d="M 143.637 171.033 L162.250 194.360 
" clip-path="url(#p2195e9ecc8)" style="fill: none; stroke: #000080; stroke-opacity: 0.8; stroke-width: 1.08"/>
<path d="M 143.637 171.033 L160.318 177.639 
" clip-path="url(#p2195e9ecc8)" style="fill: none; stroke: #000080; stroke-opacity: 0.8; stroke-width: 1.08"/>
<path d="M 143.637 171.033 L158.287 160.926 
" clip-path="url(#p2195e9ecc8)" style="fill: none; stroke: #000080; stroke-opacity: 0.8; stroke-width: 1.08"/>
<path d="M 133.160 104.479 L171.488 134.294 
" clip-path="url(#p2195e9ecc8)" style="fill: none; stroke: #000080; stroke-opacity: 0.8; stroke-width: 1.08"/>
<path d="M 173.461 311.604 L200.392 309.479 
" clip-path="url(#p2195e9ecc8)" style="fill: none; stroke: #000080; stroke-opacity: 0.8; stroke-width: 1.08"/>
<path d="M 165.838 227.825 L192.866 191.771 
" clip-path="url(#p2195e9ecc8)" style="fill: none; stroke: #000080; stroke-opacity: 0.8; stroke-width: 1.08"/>
<path d="M 164.088 211.089 L162.250 194.360 
" clip-path="url(#p2195e9ecc8)" style="fill: none; stroke: #000080; stroke-opacity: 0.8; stroke-width: 1.08"/>
<path d="M 164.088 211.089 L179.808 218.094 
" clip-path="url(#p2195e9ecc8)" style="fill: none; stroke: #000080; stroke-opacity: 0.8; stroke-width: 1.08"/>
<path d="M 162.250 194.360 L160.318 177.639 
" clip-path="url(#p2195e9ecc8)" style="fill: none; stroke: #000080; stroke-opacity: 0.8; stroke-width: 1.08"/>
<path d="M 162.250 194.360 L179.808 218.094 
" clip-path="url(#p2195e9ecc8)" style="fill: none; stroke: #000080; stroke-opacity: 0.8; stroke-width: 1.08"/>
<path d="M 173.326 151.041 L205.713 148.805 
" clip-path="url(#p2195e9ecc8)" style="fill: none; stroke: #000080; stroke-opacity: 0.8; stroke-width: 1.08"/>
<path d="M 171.488 134.294 L187.246 124.608 
" clip-path="url(#p2195e9ecc8)" style="fill: none; stroke: #000080; stroke-opacity: 0.8; stroke-width: 1.08"/>
<path d="M 203.734 376.828 L216.703 384.592 
" clip-path="url(#p2195e9ecc8)" style="fill: none; stroke: #000080; stroke-opacity: 0.8; stroke-width: 1.08"/>
<path d="M 200.392 309.479 L215.527 350.869 
" clip-path="url(#p2195e9ecc8)" style="fill: none; stroke: #000080; stroke-opacity: 0.8; stroke-width: 1.08"/>
<path d="M 200.392 309.479 L214.246 317.159 
" clip-path="url(#p2195e9ecc8)" style="fill: none; stroke: #000080; stroke-opacity: 0.8; stroke-width: 1.08"/>
<path d="M 183.952 91.058 L219.194 89.185 
" clip-path="url(#p2195e9ecc8)" style="fill: none; stroke: #000080; stroke-opacity: 0.8; stroke-width: 1.08"/>
<path d="M 182.161 74.291 L199.493 64.764 
" clip-path="url(#p2195e9ecc8)" style="fill: none; stroke: #000080; stroke-opacity: 0.8; stroke-width: 1.08"/>
<path d="M 203.429 115.177 L220.849 122.849 
" clip-path="url(#p2195e9ecc8)" style="fill: none; stroke: #000080; stroke-opacity: 0.8; stroke-width: 1.08"/>
<path d="M 203.429 115.177 L220.044 106.016 
" clip-path="url(#p2195e9ecc8)" style="fill: none; stroke: #000080; stroke-opacity: 0.8; stroke-width: 1.08"/>
<path d="M 203.429 115.177 L219.194 89.185 
" clip-path="url(#p2195e9ecc8)" style="fill: none; stroke: #000080; stroke-opacity: 0.8; stroke-width: 1.08"/>
<path d="M 220.044 106.016 L237.508 113.985 
" clip-path="url(#p2195e9ecc8)" style="fill: none; stroke: #000080; stroke-opacity: 0.8; stroke-width: 1.08"/>
<path d="M 218.293 72.357 L272.072 97.143 
" clip-path="url(#p2195e9ecc8)" style="fill: none; stroke: #000080; stroke-opacity: 0.8; stroke-width: 1.08"/>
<path d="M 237.899 130.834 L254.580 122.264 
" clip-path="url(#p2195e9ecc8)" style="fill: none; stroke: #000080; stroke-opacity: 0.8; stroke-width: 1.08"/>
<path d="M 237.899 130.834 L271.654 113.989 
" clip-path="url(#p2195e9ecc8)" style="fill: none; stroke: #000080; stroke-opacity: 0.8; stroke-width: 1.08"/>
<path d="M 304.555 132.000 L321.913 124.622 
" clip-path="url(#p2195e9ecc8)" style="fill: none; stroke: #000080; stroke-opacity: 0.8; stroke-width: 1.08"/>
<path d="M 305.732 115.188 L357.644 110.863 
" clip-path="url(#p2195e9ecc8)" style="fill: none; stroke: #000080; stroke-opacity: 0.8; stroke-width: 1.08"/>
<path d="M 308.291 81.576 L327.013 74.307 
" clip-path="url(#p2195e9ecc8)" style="fill: none; stroke: #000080; stroke-opacity: 0.8; stroke-width: 1.08"/>
<path d="M 337.667 134.312 L355.262 127.548 
" clip-path="url(#p2195e9ecc8)" style="fill: none; stroke: #000080; stroke-opacity: 0.8; stroke-width: 1.08"/>
<path d="M 355.262 127.548 L357.644 110.863 
" clip-path="url(#p2195e9ecc8)" style="fill: none; stroke: #000080; stroke-opacity: 0.8; stroke-width: 1.08"/>
<path d="M 200.392 309.479 L201.283 326.311 
" clip-path="url(#p2195e9ecc8)" style="fill: none; stroke: #000080; stroke-opacity: 0.8; stroke-width: 1.08"/>
<path d="M 201.283 326.311 L202.382 352.8 
" clip-path="url(#p2195e9ecc8)" style="fill: none; stroke: #000080; stroke-opacity: 0.8; stroke-width: 1.08"/>
<path d="M 312.260 136.8 L365.507 171.056 
" clip-path="url(#p2195e9ecc8)" style="fill: none; stroke: #000080; stroke-opacity: 0.8; stroke-width: 1.08"/>
<path d="M 270 145.408 L302.381 165.635 
" clip-path="url(#p2195e9ecc8)" style="fill: none; stroke: #000080; stroke-opacity: 0.8; stroke-width: 1.08"/>
<path d="M 317.578 174.986 L332.412 184.571 
" clip-path="url(#p2195e9ecc8)" style="fill: none; stroke: #000080; stroke-opacity: 0.8; stroke-width: 1.08"/>
<path d="M 303.439 148.815 L302.381 165.635 
" clip-path="url(#p2195e9ecc8)" style="fill: none; stroke: #000080; stroke-opacity: 0.8; stroke-width: 1.08"/>
<path d="M 301.375 182.458 L300.419 199.285 
" clip-path="url(#p2195e9ecc8)" style="fill: none; stroke: #000080; stroke-opacity: 0.8; stroke-width: 1.08"/>
<path d="M 363.206 187.722 L358.931 221.082 
" clip-path="url(#p2195e9ecc8)" style="fill: none; stroke: #000080; stroke-opacity: 0.8; stroke-width: 1.08"/>
<path d="M 290.347 210.365 L318.521 229.930 
" clip-path="url(#p2195e9ecc8)" style="fill: none; stroke: #000080; stroke-opacity: 0.8; stroke-width: 1.08"/>
<path d="M 365.507 171.056 L378 166.539 
" clip-path="url(#p2195e9ecc8)" style="fill: none; stroke: #000080; stroke-opacity: 0.8; stroke-width: 1.08"/>
<path d="M 365.507 171.056 L378 182.191 
" clip-path="url(#p2195e9ecc8)" style="fill: none; stroke: #000080; stroke-opacity: 0.8; stroke-width: 1.08"/>
<path d="M 365.507 171.056 L379.773 181.375 
" clip-path="url(#p2195e9ecc8)" style="fill: none; stroke: #000080; stroke-opacity: 0.8; stroke-width: 1.08"/>
<path d="M 379.773 181.375 L371.739 244.8 
" clip-path="url(#p2195e9ecc8)" style="fill: none; stroke: #000080; stroke-opacity: 0.8; stroke-width: 1.08"/>
<path d="M 396.582 175.347 L385.826 244.8 
" clip-path="url(#p2195e9ecc8)" style="fill: none; stroke: #000080; stroke-opacity: 0.8; stroke-width: 1.08"/>
<path d="M 360 164.973 L365.507 171.056 
" clip-path="url(#p2195e9ecc8)" style="fill: none; stroke: #000080; stroke-opacity: 0.8; stroke-width: 1.08"/>
<path d="M 225.442 240.762 L239.861 231.973 
" clip-path="url(#p2195e9ecc8)" style="fill: none; stroke: #000080; stroke-opacity: 0.8; stroke-width: 1.08"/>
<path d="M 374.4 216 L370.281 247.898 
" clip-path="url(#p2195e9ecc8)" style="fill: none; stroke: #000080; stroke-opacity: 0.8; stroke-width: 1.08"/>
<path d="M 370.281 247.898 L385.720 241.601 
" clip-path="url(#p2195e9ecc8)" style="fill: none; stroke: #000080; stroke-opacity: 0.8; stroke-width: 1.08"/>
<path d="M 390.052 216 L385.720 241.601 
" clip-path="url(#p2195e9ecc8)" style="fill: none; stroke: #000080; stroke-opacity: 0.8; stroke-width: 1.08"/>
<path d="M 355.048 254.478 L353.238 271.189 
" clip-path="url(#p2195e9ecc8)" style="fill: none; stroke: #000080; stroke-opacity: 0.8; stroke-width: 1.08"/>
<path d="M 355.048 254.478 L338.4 277.043 
" clip-path="url(#p2195e9ecc8)" style="fill: none; stroke: #000080; stroke-opacity: 0.8; stroke-width: 1.08"/>
<path d="M 307.832 326.321 L322.786 302.049 
" clip-path="url(#p2195e9ecc8)" style="fill: none; stroke: #000080; stroke-opacity: 0.8; stroke-width: 1.08"/>
<path d="M 309.660 292.662 L323.976 285.250 
" clip-path="url(#p2195e9ecc8)" style="fill: none; stroke: #000080; stroke-opacity: 0.8; stroke-width: 1.08"/>
<path d="M 338.503 278.090 L353.238 271.189 
" clip-path="url(#p2195e9ecc8)" style="fill: none; stroke: #000080; stroke-opacity: 0.8; stroke-width: 1.08"/>
<path d="M 355.048 254.478 L351.510 287.907 
" clip-path="url(#p2195e9ecc8)" style="fill: none; stroke: #000080; stroke-opacity: 0.8; stroke-width: 1.08"/>
<path d="M 290.347 244.8 L325.222 268.457 
" clip-path="url(#p2195e9ecc8)" style="fill: none; stroke: #000080; stroke-opacity: 0.8; stroke-width: 1.08"/>
<path d="M 327.013 74.307 L325.216 91.073 
" clip-path="url(#p2195e9ecc8)" style="fill: none; stroke: #000080; stroke-opacity: 0.8; stroke-width: 1.08"/>
<path d="M 343.835 84.116 L341.665 100.840 
" clip-path="url(#p2195e9ecc8)" style="fill: none; stroke: #000080; stroke-opacity: 0.8; stroke-width: 1.08"/>
<path d="M 341.665 100.840 L337.667 134.312 
" clip-path="url(#p2195e9ecc8)" style="fill: none; stroke: #000080; stroke-opacity: 0.8; stroke-width: 1.08"/>
<path d="M 289.120 106.023 L305.732 115.188 
" clip-path="url(#p2195e9ecc8)" style="fill: none; stroke: #000080; stroke-opacity: 0.8; stroke-width: 1.08"/>
<path d="M 295.2 124.963 L365.507 171.056 
" clip-path="url(#p2195e9ecc8)" style="fill: none; stroke: #000080; stroke-opacity: 0.8; stroke-width: 1.08"/>
<path d="M 337.667 134.312 L365.507 171.056 
" clip-path="url(#p2195e9ecc8)" style="fill: none; stroke: #000080; stroke-opacity: 0.8; stroke-width: 1.08"/>
<path d="M 179.565 395.529 L205.203 410.524 
" clip-path="url(#p2195e9ecc8)" style="fill: none; stroke: #000080; stroke-opacity: 0.8; stroke-width: 1.08"/>
<path d="M 242.112 400.724 L254.552 409.078 
" clip-path="url(#p2195e9ecc8)" style="fill: none; stroke: #000080; stroke-opacity: 0.8; stroke-width: 1.08"/>
<path d="M 180.638 412.329 L193.342 419.752 
" clip-path="url(#p2195e9ecc8)" style="fill: none; stroke: #000080; stroke-opacity: 0.8; stroke-width: 1.08"/>
<path d="M 215.527 350.869 L216.127 367.729 
" clip-path="url(#p2195e9ecc8)" style="fill: none; stroke: #000080; stroke-opacity: 0.8; stroke-width: 1.08"/>
<path d="M 105.799 405.425 L131.939 418.062 
" clip-path="url(#p2195e9ecc8)" style="fill: none; stroke: #000080; stroke-opacity: 0.8; stroke-width: 1.08"/>
<path d="M 238.621 164.538 L300.419 199.285 
" clip-path="url(#p2195e9ecc8)" style="fill: none; stroke: #000080; stroke-opacity: 0.8; stroke-width: 1.08"/>
</g>
<g id="LineCollection_4">
<path d="M 379.773 181.375 L413.624 169.648 
" clip-path="url(#p2195e9ecc8)" style="fill: none; stroke: #000080; stroke-opacity: 0.85; stroke-width: 1.584"/>
<path d="M 327.013 74.307 L346.133 67.400 
" clip-path="url(#p2195e9ecc8)" style="fill: none; stroke: #000080; stroke-opacity: 0.85; stroke-width: 1.584"/>
</g>
<g id="text_17">
<!-- Visit density, OD connectivity, and raw trajectories — NW Shelf -->
<g transform="translate(65.067 16.032) scale(0.12 -0.12)">
<defs>
<path id="DejaVuSans-56" d="M 1831 0 L50 4666 L709 4666 L2188 738 L3669 4666 L4325 4666 L2547 0 L1831 0 z
" transform="scale(0.015)"/>
<path id="DejaVuSans-73" d="M 2834 3397 L2834 2853 Q2591 2978 2328 3040 Q2066 3103 1784 3103 Q1356 3103 1142 2972 Q928 2841 928 2578 Q928 2378 1081 2264 Q1234 2150 1697 2047 L1894 2003 Q2506 1872 2764 1633 Q3022 1394 3022 966 Q3022 478 2636 193 Q2250 -91 1575 -91 Q1294 -91 989 -36 Q684 19 347 128 L347 722 Q666 556 975 473 Q1284 391 1588 391 Q1994 391 2212 530 Q2431 669 2431 922 Q2431 1156 2273 1281 Q2116 1406 1581 1522 L1381 1569 Q847 1681 609 1914 Q372 2147 372 2553 Q372 3047 722 3315 Q1072 3584 1716 3584 Q2034 3584 2315 3537 Q2597 3491 2834 3397 z
" transform="scale(0.015)"/>
<path id="DejaVuSans-20" transform="scale(0.015)"/>
<path id="DejaVuSans-79" d="M 2059 -325 Q1816 -950 1584 -1140 Q1353 -1331 966 -1331 L506 -1331 L506 -850 L844 -850 Q1081 -850 1212 -737 Q1344 -625 1503 -206 L1606 56 L191 3500 L800 3500 L1894 763 L2988 3500 L3597 3500 L2059 -325 z
" transform="scale(0.015)"/>
<path id="DejaVuSans-2c" d="M 750 794 L1409 794 L1409 256 L897 -744 L494 -744 L750 256 L750 794 z
" transform="scale(0.015)"/>
<path id="DejaVuSans-4f" d="M 2522 4238 Q1834 4238 1429 3725 Q1025 3213 1025 2328 Q1025 1447 1429 934 Q1834 422 2522 422 Q3209 422 3611 934 Q4013 1447 4013 2328 Q4013 3213 3611 3725 Q3209 4238 2522 4238 zM2522 4750 Q3503 4750 4090 4092 Q4678 3434 4678 2328 Q4678 1225 4090 567 Q3503 -91 2522 -91 Q1538 -91 948 565 Q359 1222 359 2328 Q359 3434 948 4092 Q1538 4750 2522 4750 z
" transform="scale(0.015)"/>
<path id="DejaVuSans-44" d="M 1259 4147 L1259 519 L2022 519 Q2988 519 3436 956 Q3884 1394 3884 2338 Q3884 3275 3436 3711 Q2988 4147 2022 4147 L1259 4147 zM628 4666 L1925 4666 Q3281 4666 3915 4102 Q4550 3538 4550 2338 Q4550 1131 3912 565 Q3275 0 1925 0 L628 0 L628 4666 z
" transform="scale(0.015)"/>
<path id="DejaVuSans-63" d="M 3122 3366 L3122 2828 Q2878 2963 2633 3030 Q2388 3097 2138 3097 Q1578 3097 1268 2742 Q959 2388 959 1747 Q959 1106 1268 751 Q1578 397 2138 397 Q2388 397 2633 464 Q2878 531 3122 666 L3122 134 Q2881 22 2623 -34 Q2366 -91 2075 -91 Q1284 -91 818 406 Q353 903 353 1747 Q353 2603 823 3093 Q1294 3584 2113 3584 Q2378 3584 2631 3529 Q2884 3475 3122 3366 z
" transform="scale(0.015)"/>
<path id="DejaVuSans-76" d="M 191 3500 L800 3500 L1894 563 L2988 3500 L3597 3500 L2284 0 L1503 0 L191 3500 z
" transform="scale(0.015)"/>
<path id="DejaVuSans-72" d="M 2631 2963 Q2534 3019 2420 3045 Q2306 3072 2169 3072 Q1681 3072 1420 2755 Q1159 2438 1159 1844 L1159 0 L581 0 L581 3500 L1159 3500 L1159 2956 Q1341 3275 1631 3429 Q1922 3584 2338 3584 Q2397 3584 2469 3576 Q2541 3569 2628 3553 L2631 2963 z
" transform="scale(0.015)"/>
<path id="DejaVuSans-77" d="M 269 3500 L844 3500 L1563 769 L2278 3500 L2956 3500 L3675 769 L4391 3500 L4966 3500 L4050 0 L3372 0 L2619 2869 L1863 0 L1184 0 L269 3500 z
" transform="scale(0.015)"/>
<path id="DejaVuSans-6a" d="M 603 3500 L1178 3500 L1178 -63 Q1178 -731 923 -1031 Q669 -1331 103 -1331 L-116 -1331 L-116 -844 L38 -844 Q366 -844 484 -692 Q603 -541 603 -63 L603 3500 zM603 4863 L1178 4863 L1178 4134 L603 4134 L603 4863 z
" transform="scale(0.015)"/>
<path id="DejaVuSans-2014" d="M 313 1978 L6088 1978 L6088 1528 L313 1528 L313 1978 z
" transform="scale(0.015)"/>
<path id="DejaVuSans-4e" d="M 628 4666 L1478 4666 L3547 763 L3547 4666 L4159 4666 L4159 0 L3309 0 L1241 3903 L1241 0 L628 0 L628 4666 z
" transform="scale(0.015)"/>
<path id="DejaVuSans-57" d="M 213 4666 L850 4666 L1831 722 L2809 4666 L3519 4666 L4500 722 L5478 4666 L6119 4666 L4947 0 L4153 0 L3169 4050 L2175 0 L1381 0 L213 4666 z
" transform="scale(0.015)"/>
<path id="DejaVuSans-53" d="M 3425 4513 L3425 3897 Q3066 4069 2747 4153 Q2428 4238 2131 4238 Q1616 4238 1336 4038 Q1056 3838 1056 3469 Q1056 3159 1242 3001 Q1428 2844 1947 2747 L2328 2669 Q3034 2534 3370 2195 Q3706 1856 3706 1288 Q3706 609 3251 259 Q2797 -91 1919 -91 Q1588 -91 1214 -16 Q841 59 441 206 L441 856 Q825 641 1194 531 Q1563 422 1919 422 Q2459 422 2753 634 Q3047 847 3047 1241 Q3047 1584 2836 1778 Q2625 1972 2144 2069 L1759 2144 Q1053 2284 737 2584 Q422 2884 422 3419 Q422 4038 858 4394 Q1294 4750 2059 4750 Q2388 4750 2728 4690 Q3069 4631 3425 4513 z
" transform="scale(0.015)"/>
<path id="DejaVuSans-68" d="M 3513 2113 L3513 0 L2938 0 L2938 2094 Q2938 2591 2744 2837 Q2550 3084 2163 3084 Q1697 3084 1428 2787 Q1159 2491 1159 1978 L1159 0 L581 0 L581 4863 L1159 4863 L1159 2956 Q1366 3272 1645 3428 Q1925 3584 2291 3584 Q2894 3584 3203 3211 Q3513 2838 3513 2113 z
" transform="scale(0.015)"/>
<path id="DejaVuSans-6c" d="M 603 4863 L1178 4863 L1178 0 L603 0 L603 4863 z
" transform="scale(0.015)"/>
<path id="DejaVuSans-66" d="M 2375 4863 L2375 4384 L1825 4384 Q1516 4384 1395 4259 Q1275 4134 1275 3809 L1275 3500 L2222 3500 L2222 3053 L1275 3053 L1275 0 L697 0 L697 3053 L147 3053 L147 3500 L697 3500 L697 3744 Q697 4328 969 4595 Q1241 4863 1831 4863 L2375 4863 z
" transform="scale(0.015)"/>
</defs>
<use href="#DejaVuSans-56"/>
<use href="#DejaVuSans-69" transform="translate(66.158 0)"/>
<use href="#DejaVuSans-73" transform="translate(93.941 0)"/>
<use href="#DejaVuSans-69" transform="translate(146.041 0)"/>
<use href="#DejaVuSans-74" transform="translate(173.824 0)"/>
<use href="#DejaVuSans-20" transform="translate(213.033 0)"/>
<use href="#DejaVuSans-64" transform="translate(244.820 0)"/>
<use href="#DejaVuSans-65" transform="translate(308.296 0)"/>
<use href="#DejaVuSans-6e" transform="translate(369.820 0)"/>
<use href="#DejaVuSans-73" transform="translate(433.199 0)"/>
<use href="#DejaVuSans-69" transform="translate(485.298 0)"/>
<use href="#DejaVuSans-74" transform="translate(513.082 0)"/>
<use href="#DejaVuSans-79" transform="translate(552.291 0)"/>
<use href="#DejaVuSans-2c" transform="translate(611.470 0)"/>
<use href="#DejaVuSans-20" transform="translate(643.257 0)"/>
<use href="#DejaVuSans-4f" transform="translate(675.044 0)"/>
<use href="#DejaVuSans-44" transform="translate(753.755 0)"/>
<use href="#DejaVuSans-20" transform="translate(830.757 0)"/>
<use href="#DejaVuSans-63" transform="translate(862.544 0)"/>
<use href="#DejaVuSans-6f" transform="translate(917.525 0)"/>
<use href="#DejaVuSans-6e" transform="translate(978.707 0)"/>
<use href="#DejaVuSans-6e" transform="translate(1042.085 0)"/>
<use href="#DejaVuSans-65" transform="translate(1105.464 0)"/>
<use href="#DejaVuSans-63" transform="translate(1166.988 0)"/>
<use href="#DejaVuSans-74" transform="translate(1221.968 0)"/>
<use href="#DejaVuSans-69" transform="translate(1261.177 0)"/>
<use href="#DejaVuSans-76" transform="translate(1288.960 0)"/>
<use href="#DejaVuSans-69" transform="translate(1348.140 0)"/>
<use href="#DejaVuSans-74" transform="translate(1375.923 0)"/>
<use href="#DejaVuSans-79" transform="translate(1415.132 0)"/>
<use href="#DejaVuSans-2c" transform="translate(1474.312 0)"/>
<use href="#DejaVuSans-20" transform="translate(1506.099 0)"/>
<use href="#DejaVuSans-61" transform="translate(1537.886 0)"/>
<use href="#DejaVuSans-6e" transform="translate(1599.166 0)"/>
<use href="#DejaVuSans-64" transform="translate(1662.544 0)"/>
<use href="#DejaVuSans-20" transform="translate(1726.021 0)"/>
<use href="#DejaVuSans-72" transform="translate(1757.808 0)"/>
<use href="#DejaVuSans-61" transform="translate(1798.921 0)"/>
<use href="#DejaVuSans-77" transform="translate(1860.201 0)"/>
<use href="#DejaVuSans-20" transform="translate(1941.988 0)"/>
<use href="#DejaVuSans-74" transform="translate(1973.775 0)"/>
<use href="#DejaVuSans-72" transform="translate(2012.984 0)"/>
<use href="#DejaVuSans-61" transform="translate(2054.097 0)"/>
<use href="#DejaVuSans-6a" transform="translate(2115.376 0)"/>
<use href="#DejaVuSans-65" transform="translate(2143.160 0)"/>
<use href="#DejaVuSans-63" transform="translate(2204.683 0)"/>
<use href="#DejaVuSans-74" transform="translate(2259.664 0)"/>
<use href="#DejaVuSans-6f" transform="translate(2298.873 0)"/>
<use href="#DejaVuSans-72" transform="translate(2360.054 0)"/>
<use href="#DejaVuSans-69" transform="translate(2401.167 0)"/>
<use href="#DejaVuSans-65" transform="translate(2428.951 0)"/>
<use href="#DejaVuSans-73" transform="translate(2490.474 0)"/>
<use href="#DejaVuSans-20" transform="translate(2542.574 0)"/>
<use href="#DejaVuSans-2014" transform="translate(2574.361 0)"/>
<use href="#DejaVuSans-20" transform="translate(2674.361 0)"/>
<use href="#DejaVuSans-4e" transform="translate(2706.148 0)"/>
<use href="#DejaVuSans-57" transform="translate(2780.953 0)"/>
<use href="#DejaVuSans-20" transform="translate(2879.830 0)"/>
<use href="#DejaVuSans-53" transform="translate(2911.617 0)"/>
<use href="#DejaVuSans-68" transform="translate(2975.093 0)"/>
<use href="#DejaVuSans-65" transform="translate(3038.472 0)"/>
<use href="#DejaVuSans-6c" transform="translate(3099.996 0)"/>
<use href="#DejaVuSans-66" transform="translate(3127.779 0)"/>
</g>
</g>
</g>
<g id="axes_2">
<g id="patch_7">
<path d="M 489.816 371.232 L502.848 371.232 L502.848 109.8 L489.816 109.8 z
" style="fill: #ffffff"/>
</g>
<g id="patch_8">
<path d="M 489.816 371.232 L502.848 371.232 L502.848 109.8 L489.816 109.8 z
" clip-path="url(#p3df62bc127)" style="fill: url(#cbg)"/>
</g>
<g id="matplotlib.axis_3"/>
<g id="matplotlib.axis_4">
<g id="ytick_9">
<g id="line2d_15">
<defs>
<path id="m33c4ce201d" d="M 0 0 L3.5 0 
" style="stroke: #000000; stroke-width: 0.8"/>
</defs>
<g>
<use href="#m33c4ce201d" x="502.848" y="371.232" style="stroke: #000000; stroke-width: 0.8"/>
</g>
</g>
<g id="text_18">
<!-- 0 -->
<g transform="translate(509.848 375.031) scale(0.1 -0.1)">
<use href="#DejaVuSans-30"/>
</g>
</g>
</g>
<g id="ytick_10">
<g id="line2d_16">
<g>
<use href="#m33c4ce201d" x="502.848" y="324.746" style="stroke: #000000; stroke-width: 0.8"/>
</g>
</g>
<g id="text_19">
<!-- 50 -->
<g transform="translate(509.848 328.546) scale(0.1 -0.1)">
<use href="#DejaVuSans-35"/>
<use href="#DejaVuSans-30" transform="translate(63.623 0)"/>
</g>
</g>
</g>
<g id="ytick_11">
<g id="line2d_17">
<g>
<use href="#m33c4ce201d" x="502.848" y="278.261" style="stroke: #000000; stroke-width: 0.8"/>
</g>
</g>
<g id="text_20">
<!-- 100 -->
<g transform="translate(509.848 282.061) scale(0.1 -0.1)">
<use href="#DejaVuSans-31"/>
<use href="#DejaVuSans-30" transform="translate(63.623 0)"/>
<use href="#DejaVuSans-30" transform="translate(127.246 0)"/>
</g>
</g>
</g>
<g id="ytick_12">
<g id="line2d_18">
<g>
<use href="#m33c4ce201d" x="502.848" y="231.776" style="stroke: #000000; stroke-width: 0.8"/>
</g>
</g>
<g id="text_21">
<!-- 150 -->
<g transform="translate(509.848 235.576) scale(0.1 -0.1)">
<use href="#DejaVuSans-31"/>
<use href="#DejaVuSans-35" transform="translate(63.623 0)"/>
<use href="#DejaVuSans-30" transform="translate(127.246 0)"/>
</g>
</g>
</g>
<g id="ytick_13">
<g id="line2d_19">
<g>
<use href="#m33c4ce201d" x="502.848" y="185.291" style="stroke: #000000; stroke-width: 0.8"/>
</g>
</g>
<g id="text_22">
<!-- 200 -->
<g transform="translate(509.848 189.090) scale(0.1 -0.1)">
<use href="#DejaVuSans-32"/>
<use href="#DejaVuSans-30" transform="translate(63.623 0)"/>
<use href="#DejaVuSans-30" transform="translate(127.246 0)"/>
</g>
</g>
</g>
<g id="ytick_14">
<g id="line2d_20">
<g>
<use href="#m33c4ce201d" x="502.848" y="138.806" style="stroke: #000000; stroke-width: 0.8"/>
</g>
</g>
<g id="text_23">
<!-- 250 -->
<g transform="translate(509.848 142.605) scale(0.1 -0.1)">
<use href="#DejaVuSans-32"/>
<use href="#DejaVuSans-35" transform="translate(63.623 0)"/>
<use href="#DejaVuSans-30" transform="translate(127.246 0)"/>
</g>
</g>
</g>
<g id="text_24">
<!-- Visit count -->
<g transform="translate(540.533 266.862) rotate(-90) scale(0.1 -0.1)">
<use href="#DejaVuSans-56"/>
<use href="#DejaVuSans-69" transform="translate(66.158 0)"/>
<use href="#DejaVuSans-73" transform="translate(93.941 0)"/>
<use href="#DejaVuSans-69" transform="translate(146.041 0)"/>
<use href="#DejaVuSans-74" transform="translate(173.824 0)"/>
<use href="#DejaVuSans-20" transform="translate(213.033 0)"/>
<use href="#DejaVuSans-63" transform="translate(244.820 0)"/>
<use href="#DejaVuSans-6f" transform="translate(299.800 0)"/>
<use href="#DejaVuSans-75" transform="translate(360.982 0)"/>
<use href="#DejaVuSans-6e" transform="translate(424.361 0)"/>
<use href="#DejaVuSans-74" transform="translate(487.740 0)"/>
</g>
</g>
</g>
<g id="patch_9">
<path d="M 489.816 371.232 L489.816 109.8 
" style="fill: none; stroke: #000000; stroke-width: 0.8; stroke-linejoin: miter; stroke-linecap: square"/>
</g>
<g id="patch_10">
<path d="M 502.848 371.232 L502.848 109.8 
" style="fill: none; stroke: #000000; stroke-width: 0.8; stroke-linejoin: miter; stroke-linecap: square"/>
</g>
<g id="patch_11">
<path d="M 489.816 371.232 L502.848 371.232 
" style="fill: none; stroke: #000000; stroke-width: 0.8; stroke-linejoin: miter; stroke-linecap: square"/>
</g>
<g id="patch_12">
<path d="M 489.816 109.8 L502.848 109.8 
" style="fill: none; stroke: #000000; stroke-width: 0.8; stroke-linejoin: miter; stroke-linecap: square"/>
</g>
</g>
</g>
<defs>
<clipPath id="p2195e9ecc8">
<rect x="50.904" y="22.032" width="407.88" height="436.824"/>
</clipPath>
<clipPath id="p3df62bc127">
<rect x="489.816" y="109.8" width="13.032" height="261.432"/>
</clipPath>
</defs>
</svg>

</body></html>
